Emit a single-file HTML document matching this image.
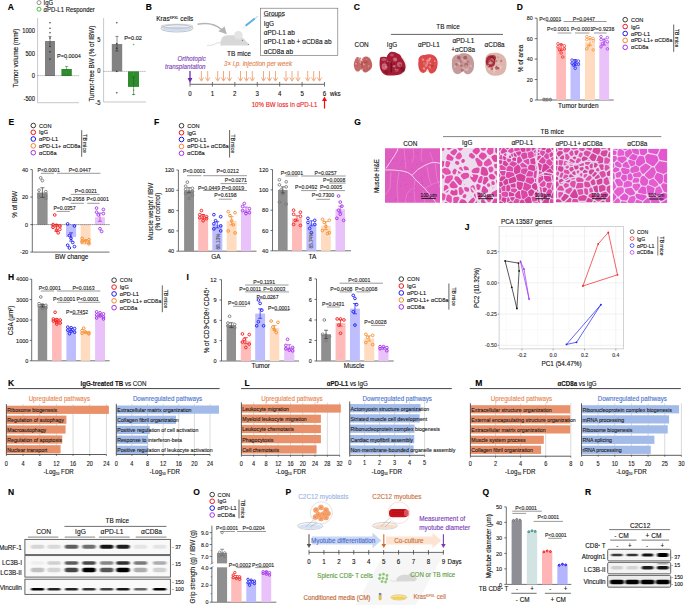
<!DOCTYPE html><html><head><meta charset="utf-8"><title>Figure</title><style>html,body{margin:0;padding:0;background:#fff;width:685px;height:605px;overflow:hidden}svg{display:block}text{font-family:"Liberation Sans",sans-serif}</style></head><body><svg width="685" height="605" viewBox="0 0 685 605" font-family='"Liberation Sans", sans-serif' fill="#111"><defs><filter id="lungb" x="-5%" y="-5%" width="110%" height="110%"><feGaussianBlur stdDeviation="0.35"/></filter><filter id="heb"><feGaussianBlur stdDeviation="0.35"/></filter><filter id="bl" x="-30%" y="-150%" width="160%" height="400%"><feGaussianBlur stdDeviation="1.0 0.75"/></filter><filter id="bl2" x="-30%" y="-150%" width="160%" height="400%"><feGaussianBlur stdDeviation="0.8 0.5"/></filter></defs><rect width="685" height="605" fill="#fff"/><text x="0" y="3.06" font-size="8.50" fill="#000" font-weight="bold" stroke="#000" stroke-width="0.12" transform="translate(7.70 7.40)">A</text>
<circle cx="39.00" cy="2.60" r="2.0" fill="none" stroke="#666" stroke-width="0.7"/>
<text x="0" y="2.34" font-size="6.50" stroke="#111" stroke-width="0.12" transform="translate(43.60 2.40) scale(0.92 1)">IgG</text>
<circle cx="39.00" cy="9.20" r="2.0" fill="none" stroke="#22aa22" stroke-width="0.8"/>
<text x="0" y="2.34" font-size="6.50" stroke="#111" stroke-width="0.12" transform="translate(43.60 9.20) scale(0.92 1)">αPD-L1 Responder</text>
<line x1="37.60" y1="18.00" x2="37.60" y2="102.70" stroke="#b0b0b0" stroke-width="0.7"/>
<line x1="37.60" y1="102.70" x2="79.00" y2="102.70" stroke="#b0b0b0" stroke-width="0.7"/>
<text x="0" y="2.26" font-size="6.27" text-anchor="end" stroke="#111" stroke-width="0.12" transform="translate(35.00 30.80) scale(0.92 1)">1000</text>
<text x="0" y="2.26" font-size="6.27" text-anchor="end" stroke="#111" stroke-width="0.12" transform="translate(35.00 53.40) scale(0.92 1)">500</text>
<text x="0" y="2.26" font-size="6.27" text-anchor="end" stroke="#111" stroke-width="0.12" transform="translate(35.00 76.00) scale(0.92 1)">0</text>
<text x="0" y="2.26" font-size="6.27" text-anchor="end" stroke="#111" stroke-width="0.12" transform="translate(35.00 98.60) scale(0.92 1)">-500</text>
<rect x="45.00" y="41.00" width="10.00" height="35.00" fill="#828282"/>
<rect x="61.40" y="69.00" width="10.40" height="7.00" fill="#2e8b2e"/>
<line x1="37.60" y1="75.60" x2="79.00" y2="75.60" stroke="#333" stroke-width="0.5" stroke-dasharray="1,1"/>
<circle cx="50.00" cy="22.70" r="0.55" fill="#222" stroke="#222" stroke-width="0.3"/>
<circle cx="50.00" cy="28.20" r="0.55" fill="#222" stroke="#222" stroke-width="0.3"/>
<circle cx="50.00" cy="32.70" r="0.55" fill="#222" stroke="#222" stroke-width="0.3"/>
<circle cx="50.00" cy="38.00" r="0.55" fill="#222" stroke="#222" stroke-width="0.3"/>
<circle cx="50.00" cy="46.40" r="0.55" fill="#222" stroke="#222" stroke-width="0.3"/>
<circle cx="50.00" cy="51.80" r="0.55" fill="#222" stroke="#222" stroke-width="0.3"/>
<circle cx="50.00" cy="59.00" r="0.55" fill="#222" stroke="#222" stroke-width="0.3"/>
<line x1="50.00" y1="36.40" x2="50.00" y2="45.00" stroke="#222" stroke-width="0.5"/>
<line x1="48.50" y1="36.40" x2="51.50" y2="36.40" stroke="#222" stroke-width="0.5"/>
<circle cx="66.50" cy="59.00" r="0.55" fill="#3c3" stroke="#2a2" stroke-width="0.3"/>
<circle cx="66.50" cy="72.00" r="0.55" fill="#3c3" stroke="#2a2" stroke-width="0.3"/>
<line x1="66.60" y1="66.40" x2="66.60" y2="70.00" stroke="#1a5a1a" stroke-width="0.5"/>
<line x1="65.00" y1="66.40" x2="68.20" y2="66.40" stroke="#1a5a1a" stroke-width="0.5"/>
<text x="0" y="2.18" font-size="6.05" text-anchor="middle" stroke="#111" stroke-width="0.12" transform="translate(68.90 55.50) scale(0.92 1)">P=0.0004</text>
<text x="0" y="2.50" font-size="6.94" text-anchor="middle" stroke="#111" stroke-width="0.12" transform="translate(15.50 58.00) rotate(-90) scale(0.92 1)">Tumor volume (mm<tspan font-size="3.6" dy="-2">2</tspan><tspan dy="2">)</tspan></text>
<line x1="103.60" y1="18.00" x2="103.60" y2="102.00" stroke="#b0b0b0" stroke-width="0.7"/>
<line x1="103.60" y1="102.00" x2="146.00" y2="102.00" stroke="#b0b0b0" stroke-width="0.7"/>
<text x="0" y="2.26" font-size="6.27" text-anchor="end" stroke="#111" stroke-width="0.12" transform="translate(100.50 39.60) scale(0.92 1)">5</text>
<text x="0" y="2.26" font-size="6.27" text-anchor="end" stroke="#111" stroke-width="0.12" transform="translate(100.50 70.90) scale(0.92 1)">0</text>
<text x="0" y="2.26" font-size="6.27" text-anchor="end" stroke="#111" stroke-width="0.12" transform="translate(100.50 102.70) scale(0.92 1)">-5</text>
<rect x="111.80" y="44.00" width="10.40" height="27.40" fill="#828282"/>
<rect x="128.00" y="71.40" width="11.00" height="15.50" fill="#2e8b2e"/>
<line x1="103.60" y1="71.40" x2="146.00" y2="71.40" stroke="#333" stroke-width="0.5" stroke-dasharray="1,1"/>
<circle cx="116.80" cy="22.70" r="0.55" fill="#222" stroke="#222" stroke-width="0.3"/>
<circle cx="116.80" cy="43.60" r="0.55" fill="#222" stroke="#222" stroke-width="0.3"/>
<circle cx="116.80" cy="48.20" r="0.55" fill="#222" stroke="#222" stroke-width="0.3"/>
<circle cx="116.80" cy="71.40" r="0.55" fill="#222" stroke="#222" stroke-width="0.3"/>
<circle cx="116.80" cy="92.70" r="0.55" fill="#222" stroke="#222" stroke-width="0.3"/>
<line x1="117.00" y1="36.40" x2="117.00" y2="51.00" stroke="#222" stroke-width="0.5"/>
<line x1="115.40" y1="36.40" x2="118.60" y2="36.40" stroke="#222" stroke-width="0.5"/>
<line x1="115.40" y1="51.00" x2="118.60" y2="51.00" stroke="#222" stroke-width="0.5"/>
<circle cx="133.60" cy="44.50" r="0.55" fill="#3c3" stroke="#2a2" stroke-width="0.3"/>
<circle cx="133.60" cy="73.60" r="0.55" fill="#3c3" stroke="#2a2" stroke-width="0.3"/>
<circle cx="133.60" cy="90.00" r="0.55" fill="#3c3" stroke="#2a2" stroke-width="0.3"/>
<circle cx="133.60" cy="94.50" r="0.55" fill="#3c3" stroke="#2a2" stroke-width="0.3"/>
<line x1="133.60" y1="77.00" x2="133.60" y2="94.50" stroke="#1a5a1a" stroke-width="0.5"/>
<line x1="132.00" y1="77.00" x2="135.20" y2="77.00" stroke="#1a5a1a" stroke-width="0.5"/>
<line x1="132.00" y1="94.50" x2="135.20" y2="94.50" stroke="#1a5a1a" stroke-width="0.5"/>
<text x="0" y="2.18" font-size="6.05" text-anchor="middle" stroke="#111" stroke-width="0.12" transform="translate(133.00 37.80) scale(0.92 1)">P=0.02</text>
<text x="0" y="2.50" font-size="6.94" text-anchor="middle" stroke="#111" stroke-width="0.12" transform="translate(91.80 63.60) rotate(-90) scale(0.92 1)">Tumor-free BW (% of IBW)</text>
<text x="0" y="3.06" font-size="8.50" fill="#000" font-weight="bold" stroke="#000" stroke-width="0.12" transform="translate(145.70 6.90)">B</text>
<text x="0" y="2.54" font-size="7.06" stroke="#111" stroke-width="0.12" transform="translate(156.30 18.20) scale(0.92 1)">Kras<tspan font-size="3.8" dy="-2">KPXL</tspan><tspan dy="2"> cells</tspan></text>
<ellipse cx="177" cy="28.4" rx="16" ry="3.6" fill="#f4f6fb" stroke="#888" stroke-width="0.5"/>
<ellipse cx="177" cy="28.8" rx="14.5" ry="2.3" fill="#cfdcf2"/>
<ellipse cx="177" cy="26.2" rx="16" ry="2.0" fill="none" stroke="#999" stroke-width="0.4"/>
<path d="M197.5,24.3 Q212,21.2 221.5,29.5" fill="none" stroke="#b4b4b4" stroke-width="1.5"/>
<path d="M218.3,31.2 L226.8,34.2 L224.6,26.6 Z" fill="#b4b4b4"/>
<path d="M220.2,45.6 L221.2,39.5 C222,36.2 225,35.2 229,35.2 L236,35.2 C240,35.5 243,37.5 245,40 L249.2,44.4 L247.5,45.6 Z" fill="#d8d8d8"/>
<circle cx="238.4" cy="35.3" r="4.3" fill="#e4e4e4"/>
<path d="M221,42.5 Q216,42.5 214.5,44.3 Q212,45.8 207,45.3" fill="none" stroke="#c8c8c8" stroke-width="0.6"/>
<circle cx="242.40" cy="40.40" r="0.45" fill="#444" stroke="#444" stroke-width="0.2"/>
<circle cx="248.40" cy="44.60" r="0.4" fill="#444" stroke="#444" stroke-width="0.2"/>
<path d="M245.6,25.8 L254.8,18.6" fill="none" stroke="#5aaee0" stroke-width="1.9"/>
<path d="M254.8,18.6 L257.8,16.2" fill="none" stroke="#7ab8d8" stroke-width="0.7"/>
<path d="M245.6,25.8 L242.2,28.6" fill="none" stroke="#c0c8d0" stroke-width="0.4"/>
<text x="0" y="2.54" font-size="7.06" text-anchor="middle" stroke="#111" stroke-width="0.12" transform="translate(239.00 53.00) scale(0.92 1)">TB mice</text>
<rect x="260.50" y="8.20" width="77.30" height="47.30" fill="none" stroke="#666" stroke-width="0.6"/>
<text x="0" y="2.54" font-size="7.06" stroke="#111" stroke-width="0.12" transform="translate(263.70 13.60) scale(0.92 1)">Groups</text>
<line x1="263.70" y1="16.30" x2="283.50" y2="16.30" stroke="#222" stroke-width="0.45"/>
<text x="0" y="2.54" font-size="7.06" stroke="#111" stroke-width="0.12" transform="translate(263.70 23.30) scale(0.92 1)">IgG</text>
<text x="0" y="2.54" font-size="7.06" stroke="#111" stroke-width="0.12" transform="translate(263.70 32.40) scale(0.92 1)">αPD-L1 ab</text>
<text x="0" y="2.54" font-size="7.06" stroke="#111" stroke-width="0.12" transform="translate(263.70 41.50) scale(0.92 1)">αPD-L1 ab + αCD8a ab</text>
<text x="0" y="2.54" font-size="7.06" stroke="#111" stroke-width="0.12" transform="translate(263.70 51.00) scale(0.92 1)">αCD8a ab</text>
<text x="0" y="2.42" font-size="6.72" text-anchor="middle" fill="#7a3db8" font-style="italic" stroke="#7a3db8" stroke-width="0.12" transform="translate(191.60 58.20) scale(0.92 1)">Orthotopic</text>
<text x="0" y="2.42" font-size="6.72" text-anchor="middle" fill="#7a3db8" font-style="italic" stroke="#7a3db8" stroke-width="0.12" transform="translate(185.30 67.00) scale(0.92 1)">transplantation</text>
<text x="0" y="2.42" font-size="6.72" text-anchor="middle" fill="#e4804c" font-style="italic" stroke="#e4804c" stroke-width="0.12" transform="translate(258.00 64.00) scale(0.92 1)">3× i.p. injection per week</text>
<line x1="190.00" y1="84.30" x2="324.50" y2="84.30" stroke="#555" stroke-width="0.9"/>
<line x1="190.00" y1="82.00" x2="190.00" y2="86.60" stroke="#555" stroke-width="0.8"/>
<text x="0" y="2.42" font-size="6.72" text-anchor="middle" stroke="#111" stroke-width="0.12" transform="translate(190.00 93.60) scale(0.92 1)">0</text>
<line x1="212.42" y1="82.00" x2="212.42" y2="86.60" stroke="#555" stroke-width="0.8"/>
<text x="0" y="2.42" font-size="6.72" text-anchor="middle" stroke="#111" stroke-width="0.12" transform="translate(212.42 93.60) scale(0.92 1)">1</text>
<line x1="234.84" y1="82.00" x2="234.84" y2="86.60" stroke="#555" stroke-width="0.8"/>
<text x="0" y="2.42" font-size="6.72" text-anchor="middle" stroke="#111" stroke-width="0.12" transform="translate(234.84 93.60) scale(0.92 1)">2</text>
<line x1="257.26" y1="82.00" x2="257.26" y2="86.60" stroke="#555" stroke-width="0.8"/>
<text x="0" y="2.42" font-size="6.72" text-anchor="middle" stroke="#111" stroke-width="0.12" transform="translate(257.26 93.60) scale(0.92 1)">3</text>
<line x1="279.68" y1="82.00" x2="279.68" y2="86.60" stroke="#555" stroke-width="0.8"/>
<text x="0" y="2.42" font-size="6.72" text-anchor="middle" stroke="#111" stroke-width="0.12" transform="translate(279.68 93.60) scale(0.92 1)">4</text>
<line x1="302.10" y1="82.00" x2="302.10" y2="86.60" stroke="#555" stroke-width="0.8"/>
<text x="0" y="2.42" font-size="6.72" text-anchor="middle" stroke="#111" stroke-width="0.12" transform="translate(302.10 93.60) scale(0.92 1)">5</text>
<line x1="324.52" y1="82.00" x2="324.52" y2="86.60" stroke="#555" stroke-width="0.8"/>
<text x="0" y="2.42" font-size="6.72" text-anchor="middle" stroke="#111" stroke-width="0.12" transform="translate(324.52 93.60) scale(0.92 1)">6</text>
<text x="0" y="2.42" font-size="6.72" stroke="#111" stroke-width="0.12" transform="translate(330.00 93.60) scale(0.92 1)">wks</text>
<line x1="190.00" y1="71.00" x2="190.00" y2="79.00" stroke="#6a2db0" stroke-width="1.3"/>
<path d="M187.6,78 L192.4,78 L190,83 Z" fill="#6a2db0"/>
<line x1="201.40" y1="71.00" x2="201.40" y2="80.00" stroke="#f0a070" stroke-width="0.9"/>
<path d="M199.20000000000002,77.5 L201.4,81.2 L203.6,77.5" fill="none" stroke="#f0a070" stroke-width="0.9"/>
<line x1="207.70" y1="71.00" x2="207.70" y2="80.00" stroke="#f0a070" stroke-width="0.9"/>
<path d="M205.5,77.5 L207.7,81.2 L209.89999999999998,77.5" fill="none" stroke="#f0a070" stroke-width="0.9"/>
<line x1="217.70" y1="71.00" x2="217.70" y2="80.00" stroke="#f0a070" stroke-width="0.9"/>
<path d="M215.5,77.5 L217.7,81.2 L219.89999999999998,77.5" fill="none" stroke="#f0a070" stroke-width="0.9"/>
<line x1="223.50" y1="71.00" x2="223.50" y2="80.00" stroke="#f0a070" stroke-width="0.9"/>
<path d="M221.3,77.5 L223.5,81.2 L225.7,77.5" fill="none" stroke="#f0a070" stroke-width="0.9"/>
<line x1="229.50" y1="71.00" x2="229.50" y2="80.00" stroke="#f0a070" stroke-width="0.9"/>
<path d="M227.3,77.5 L229.5,81.2 L231.7,77.5" fill="none" stroke="#f0a070" stroke-width="0.9"/>
<line x1="240.50" y1="71.00" x2="240.50" y2="80.00" stroke="#f0a070" stroke-width="0.9"/>
<path d="M238.3,77.5 L240.5,81.2 L242.7,77.5" fill="none" stroke="#f0a070" stroke-width="0.9"/>
<line x1="246.50" y1="71.00" x2="246.50" y2="80.00" stroke="#f0a070" stroke-width="0.9"/>
<path d="M244.3,77.5 L246.5,81.2 L248.7,77.5" fill="none" stroke="#f0a070" stroke-width="0.9"/>
<line x1="252.30" y1="71.00" x2="252.30" y2="80.00" stroke="#f0a070" stroke-width="0.9"/>
<path d="M250.10000000000002,77.5 L252.3,81.2 L254.5,77.5" fill="none" stroke="#f0a070" stroke-width="0.9"/>
<line x1="263.50" y1="71.00" x2="263.50" y2="80.00" stroke="#f0a070" stroke-width="0.9"/>
<path d="M261.3,77.5 L263.5,81.2 L265.7,77.5" fill="none" stroke="#f0a070" stroke-width="0.9"/>
<line x1="269.50" y1="71.00" x2="269.50" y2="80.00" stroke="#f0a070" stroke-width="0.9"/>
<path d="M267.3,77.5 L269.5,81.2 L271.7,77.5" fill="none" stroke="#f0a070" stroke-width="0.9"/>
<line x1="275.50" y1="71.00" x2="275.50" y2="80.00" stroke="#f0a070" stroke-width="0.9"/>
<path d="M273.3,77.5 L275.5,81.2 L277.7,77.5" fill="none" stroke="#f0a070" stroke-width="0.9"/>
<line x1="286.00" y1="71.00" x2="286.00" y2="80.00" stroke="#f0a070" stroke-width="0.9"/>
<path d="M283.8,77.5 L286,81.2 L288.2,77.5" fill="none" stroke="#f0a070" stroke-width="0.9"/>
<line x1="292.00" y1="71.00" x2="292.00" y2="80.00" stroke="#f0a070" stroke-width="0.9"/>
<path d="M289.8,77.5 L292,81.2 L294.2,77.5" fill="none" stroke="#f0a070" stroke-width="0.9"/>
<line x1="298.00" y1="71.00" x2="298.00" y2="80.00" stroke="#f0a070" stroke-width="0.9"/>
<path d="M295.8,77.5 L298,81.2 L300.2,77.5" fill="none" stroke="#f0a070" stroke-width="0.9"/>
<line x1="307.70" y1="71.00" x2="307.70" y2="80.00" stroke="#f0a070" stroke-width="0.9"/>
<path d="M305.5,77.5 L307.7,81.2 L309.9,77.5" fill="none" stroke="#f0a070" stroke-width="0.9"/>
<line x1="313.70" y1="71.00" x2="313.70" y2="80.00" stroke="#f0a070" stroke-width="0.9"/>
<path d="M311.5,77.5 L313.7,81.2 L315.9,77.5" fill="none" stroke="#f0a070" stroke-width="0.9"/>
<line x1="319.50" y1="71.00" x2="319.50" y2="80.00" stroke="#f0a070" stroke-width="0.9"/>
<path d="M317.3,77.5 L319.5,81.2 L321.7,77.5" fill="none" stroke="#f0a070" stroke-width="0.9"/>
<text x="0" y="2.42" font-size="6.72" text-anchor="middle" fill="#ee2222" stroke="#ee2222" stroke-width="0.12" transform="translate(284.60 105.00) scale(0.92 1)">10% BW loss in αPD-L1</text>
<line x1="324.50" y1="108.60" x2="324.50" y2="100.00" stroke="#ee1111" stroke-width="1.2"/>
<path d="M322,101 L327,101 L324.5,96.6 Z" fill="#ee1111"/>
<text x="0" y="3.06" font-size="8.50" fill="#000" font-weight="bold" stroke="#000" stroke-width="0.12" transform="translate(353.70 6.60)">C</text>
<text x="0" y="2.50" font-size="6.94" text-anchor="middle" stroke="#111" stroke-width="0.12" transform="translate(448.00 26.40) scale(0.92 1)">TB mice</text>
<line x1="390.90" y1="34.40" x2="503.00" y2="34.40" stroke="#222" stroke-width="0.7"/>
<text x="0" y="2.50" font-size="6.94" text-anchor="middle" stroke="#111" stroke-width="0.12" transform="translate(361.60 44.30) scale(0.92 1)">CON</text>
<text x="0" y="2.50" font-size="6.94" text-anchor="middle" stroke="#111" stroke-width="0.12" transform="translate(392.00 44.30) scale(0.92 1)">IgG</text>
<text x="0" y="2.50" font-size="6.94" text-anchor="middle" stroke="#111" stroke-width="0.12" transform="translate(428.90 44.40) scale(0.92 1)">αPD-L1</text>
<text x="0" y="2.50" font-size="6.94" text-anchor="middle" stroke="#111" stroke-width="0.12" transform="translate(463.30 40.50) scale(0.92 1)">αPD-L1</text>
<text x="0" y="2.50" font-size="6.94" text-anchor="middle" stroke="#111" stroke-width="0.12" transform="translate(463.20 49.20) scale(0.92 1)">+αCD8a</text>
<text x="0" y="2.50" font-size="6.94" text-anchor="middle" stroke="#111" stroke-width="0.12" transform="translate(494.60 44.40) scale(0.92 1)">αCD8a</text>
<g filter="url(#lungb)">
<path d="M361.22,62.89 Q361.43,64.40 361.39,66.07 Q361.36,67.74 360.78,69.06 Q360.21,70.37 359.38,70.89 Q358.54,71.40 357.69,71.51 Q356.83,71.61 356.06,70.88 Q355.28,70.15 354.70,68.91 Q354.12,67.67 353.89,66.03 Q353.66,64.40 354.01,62.87 Q354.36,61.35 354.88,60.14 Q355.41,58.94 356.10,57.92 Q356.80,56.89 357.68,57.07 Q358.56,57.24 359.38,57.84 Q360.21,58.43 360.61,59.91 Q361.00,61.38 361.22,62.89 Z" fill="#c86a6a"/>
<path d="M371.88,62.65 Q372.41,64.40 372.11,66.31 Q371.81,68.21 370.73,69.28 Q369.64,70.36 368.60,71.11 Q367.56,71.86 366.33,72.34 Q365.09,72.82 363.93,71.94 Q362.78,71.05 362.00,69.55 Q361.22,68.05 361.09,66.23 Q360.97,64.40 361.12,62.59 Q361.27,60.78 362.06,59.33 Q362.85,57.88 363.99,57.09 Q365.14,56.30 366.36,56.57 Q367.58,56.84 368.72,57.45 Q369.85,58.06 370.61,59.48 Q371.36,60.90 371.88,62.65 Z" fill="#c46262"/>
<circle cx="362.43" cy="69.09" r="0.95" fill="#f0c0c0" opacity="0.6"/>
<circle cx="356.25" cy="65.19" r="0.95" fill="#e8a8a8" opacity="0.6"/>
<circle cx="356.43" cy="65.31" r="1.00" fill="#a84848" opacity="0.6"/>
<circle cx="355.13" cy="65.48" r="0.64" fill="#b05050" opacity="0.6"/>
<circle cx="364.37" cy="62.05" r="0.92" fill="#a84848" opacity="0.6"/>
<circle cx="355.48" cy="63.60" r="0.50" fill="#e8a8a8" opacity="0.6"/>
<circle cx="363.53" cy="64.05" r="0.89" fill="#e8a8a8" opacity="0.6"/>
<circle cx="361.28" cy="69.28" r="0.83" fill="#b05050" opacity="0.6"/>
<circle cx="366.23" cy="62.49" r="0.98" fill="#b05050" opacity="0.6"/>
<circle cx="365.08" cy="67.28" r="0.48" fill="#e8a8a8" opacity="0.6"/>
<circle cx="363.55" cy="70.53" r="0.87" fill="#b05050" opacity="0.6"/>
<circle cx="365.05" cy="61.13" r="0.74" fill="#b05050" opacity="0.6"/>
<circle cx="357.23" cy="63.53" r="0.94" fill="#a84848" opacity="0.6"/>
<circle cx="358.94" cy="58.81" r="0.99" fill="#f0c0c0" opacity="0.6"/>
<circle cx="360.53" cy="62.13" r="0.98" fill="#f0c0c0" opacity="0.6"/>
<circle cx="366.77" cy="61.69" r="0.78" fill="#a84848" opacity="0.6"/>
<circle cx="365.94" cy="64.15" r="0.44" fill="#e8a8a8" opacity="0.6"/>
<circle cx="366.62" cy="59.36" r="0.61" fill="#e8a8a8" opacity="0.6"/>
<circle cx="368.62" cy="66.85" r="0.58" fill="#e8a8a8" opacity="0.6"/>
<circle cx="362.84" cy="58.49" r="0.76" fill="#e8a8a8" opacity="0.6"/>
<circle cx="362.34" cy="60.49" r="0.73" fill="#f0c0c0" opacity="0.6"/>
<circle cx="365.56" cy="62.81" r="1.00" fill="#a84848" opacity="0.6"/>
<circle cx="361.22" cy="66.05" r="0.97" fill="#e8a8a8" opacity="0.6"/>
<circle cx="366.06" cy="63.79" r="0.49" fill="#f0c0c0" opacity="0.6"/>
<circle cx="368.87" cy="65.96" r="0.62" fill="#f0c0c0" opacity="0.6"/>
<circle cx="366.58" cy="68.92" r="0.68" fill="#b05050" opacity="0.6"/>
<circle cx="355.91" cy="63.76" r="0.77" fill="#e8a8a8" opacity="0.6"/>
<circle cx="367.07" cy="62.75" r="0.78" fill="#b05050" opacity="0.6"/>
<circle cx="360.41" cy="58.37" r="0.99" fill="#b05050" opacity="0.6"/>
<circle cx="356.38" cy="63.78" r="0.87" fill="#e8a8a8" opacity="0.6"/>
<circle cx="366.28" cy="64.12" r="0.77" fill="#b05050" opacity="0.6"/>
<circle cx="360.74" cy="63.25" r="0.68" fill="#f0c0c0" opacity="0.6"/>
<circle cx="360.05" cy="60.98" r="0.84" fill="#f0c0c0" opacity="0.6"/>
<circle cx="363.86" cy="64.62" r="0.98" fill="#e8a8a8" opacity="0.6"/>
<ellipse cx="361.6" cy="65" rx="1" ry="4" fill="#903838" opacity="0.5"/>
<ellipse cx="401" cy="66" rx="6" ry="9" fill="#e6e6e6" opacity="0.6"/>
<path d="M380.2,57.5 C381.5,56.5 384,56.8 386.5,57.2 C387.5,54.5 389.5,51.8 391.3,51.7 C394,51.5 396,52.5 397.2,53.3 C399.5,54 400.9,55.5 401.5,57.5 C403.8,60 405.8,64 405.6,67.6 C405,71 402.5,73.8 399.8,74.5 C396,75.8 391,75.5 387.6,75.5 C384,75.2 381,72 380,68 C379.3,64.5 379.5,60 380.2,57.5 Z" fill="#a41e34"/>
<ellipse cx="384.5" cy="66.5" rx="2.8" ry="3.2" fill="#d98c9c" opacity="0.7"/>
<ellipse cx="395" cy="59.5" rx="2.2" ry="2.0" fill="#e0a0ae" opacity="0.6"/>
<ellipse cx="399.5" cy="64.5" rx="2.6" ry="2.4" fill="#d88898" opacity="0.6"/>
<ellipse cx="383.5" cy="59.5" rx="2.2" ry="1.8" fill="#d07080" opacity="0.6"/>
<ellipse cx="392" cy="55" rx="1.8" ry="1.6" fill="#d88090" opacity="0.5"/>
<ellipse cx="396.5" cy="70.5" rx="2.0" ry="1.8" fill="#c86072" opacity="0.5"/>
<ellipse cx="391.3" cy="67.5" rx="0.9" ry="6.0" fill="#6a0c1a" opacity="0.75"/>
<ellipse cx="402.8" cy="69.5" rx="2.2" ry="2.6" fill="#6e0e1c" opacity="0.6"/>
<ellipse cx="386.5" cy="72" rx="2.2" ry="1.8" fill="#7a1020" opacity="0.6"/>
<ellipse cx="388" cy="62" rx="1.6" ry="2.0" fill="#8a1424" opacity="0.5"/>
<circle cx="393.26" cy="66.72" r="0.78" fill="#c04858" opacity="0.5"/>
<circle cx="394.11" cy="64.64" r="1.04" fill="#7a1020" opacity="0.5"/>
<circle cx="393.42" cy="60.01" r="0.62" fill="#7a1020" opacity="0.5"/>
<circle cx="394.42" cy="66.45" r="1.15" fill="#e8b8c0" opacity="0.5"/>
<circle cx="400.39" cy="65.09" r="1.04" fill="#7a1020" opacity="0.5"/>
<circle cx="394.81" cy="68.44" r="0.47" fill="#7a1020" opacity="0.5"/>
<circle cx="386.97" cy="59.70" r="0.54" fill="#e8b8c0" opacity="0.5"/>
<circle cx="390.24" cy="64.42" r="0.41" fill="#7a1020" opacity="0.5"/>
<circle cx="390.96" cy="70.89" r="1.08" fill="#7a1020" opacity="0.5"/>
<circle cx="386.99" cy="63.71" r="0.74" fill="#7a1020" opacity="0.5"/>
<circle cx="395.73" cy="67.98" r="0.46" fill="#d07a8a" opacity="0.5"/>
<circle cx="383.92" cy="65.97" r="0.96" fill="#c04858" opacity="0.5"/>
<circle cx="397.70" cy="69.51" r="0.73" fill="#d07a8a" opacity="0.5"/>
<circle cx="395.18" cy="70.46" r="0.55" fill="#7a1020" opacity="0.5"/>
<circle cx="386.40" cy="66.56" r="1.12" fill="#e8b8c0" opacity="0.5"/>
<circle cx="394.87" cy="65.25" r="0.62" fill="#e8b8c0" opacity="0.5"/>
<circle cx="385.45" cy="60.10" r="0.66" fill="#d07a8a" opacity="0.5"/>
<circle cx="395.79" cy="69.17" r="0.69" fill="#d07a8a" opacity="0.5"/>
<circle cx="400.97" cy="68.14" r="0.99" fill="#7a1020" opacity="0.5"/>
<circle cx="394.22" cy="63.71" r="0.66" fill="#7a1020" opacity="0.5"/>
<circle cx="397.33" cy="69.63" r="0.63" fill="#d07a8a" opacity="0.5"/>
<circle cx="395.24" cy="69.29" r="0.60" fill="#e8b8c0" opacity="0.5"/>
<circle cx="389.97" cy="62.03" r="0.69" fill="#d07a8a" opacity="0.5"/>
<circle cx="387.58" cy="65.44" r="1.20" fill="#7a1020" opacity="0.5"/>
<circle cx="387.42" cy="61.55" r="0.74" fill="#e8b8c0" opacity="0.5"/>
<circle cx="393.60" cy="66.00" r="0.99" fill="#d07a8a" opacity="0.5"/>
<circle cx="385.40" cy="59.27" r="0.84" fill="#d07a8a" opacity="0.5"/>
<circle cx="388.40" cy="61.61" r="0.50" fill="#d07a8a" opacity="0.5"/>
<circle cx="384.91" cy="62.63" r="0.92" fill="#c04858" opacity="0.5"/>
<circle cx="394.29" cy="67.63" r="0.73" fill="#c04858" opacity="0.5"/>
<path d="M418.5,61 C418,57 421,54.6 425,55 C427,54 431,54 434,55.5 C437,57.5 438.2,61 437.5,65 C437,69 435.5,72.5 432,73.5 C429.5,74 428.5,71 427.6,68.5 C426.5,71.5 424.5,74 421.5,72.5 C418.5,70.5 417.8,65 418.5,61 Z" fill="#dc4848"/>
<circle cx="423.28" cy="59.91" r="1.16" fill="#f2a0a0" opacity="0.6"/>
<circle cx="428.62" cy="60.65" r="1.21" fill="#f2a0a0" opacity="0.6"/>
<circle cx="431.97" cy="67.04" r="0.74" fill="#b82a2a" opacity="0.6"/>
<circle cx="431.06" cy="66.03" r="0.77" fill="#b82a2a" opacity="0.6"/>
<circle cx="430.95" cy="69.77" r="0.54" fill="#e87070" opacity="0.6"/>
<circle cx="428.83" cy="61.58" r="0.51" fill="#e87070" opacity="0.6"/>
<circle cx="435.14" cy="64.07" r="1.10" fill="#b82a2a" opacity="0.6"/>
<circle cx="431.02" cy="63.31" r="0.66" fill="#b82a2a" opacity="0.6"/>
<circle cx="433.45" cy="62.80" r="0.56" fill="#b82a2a" opacity="0.6"/>
<circle cx="431.33" cy="63.41" r="0.67" fill="#e87070" opacity="0.6"/>
<circle cx="426.00" cy="66.12" r="0.64" fill="#b82a2a" opacity="0.6"/>
<circle cx="424.60" cy="69.35" r="0.94" fill="#f2a0a0" opacity="0.6"/>
<circle cx="427.48" cy="62.31" r="1.14" fill="#f8c8c0" opacity="0.6"/>
<circle cx="423.73" cy="64.46" r="0.83" fill="#e87070" opacity="0.6"/>
<circle cx="429.73" cy="67.08" r="1.25" fill="#f2a0a0" opacity="0.6"/>
<circle cx="424.96" cy="67.37" r="0.73" fill="#e87070" opacity="0.6"/>
<circle cx="427.36" cy="63.69" r="1.04" fill="#f2a0a0" opacity="0.6"/>
<circle cx="422.67" cy="59.34" r="1.08" fill="#f2a0a0" opacity="0.6"/>
<circle cx="434.71" cy="61.18" r="0.86" fill="#f8c8c0" opacity="0.6"/>
<circle cx="430.99" cy="61.87" r="0.50" fill="#e87070" opacity="0.6"/>
<circle cx="427.93" cy="57.93" r="0.43" fill="#f8c8c0" opacity="0.6"/>
<circle cx="430.18" cy="63.31" r="0.86" fill="#f8c8c0" opacity="0.6"/>
<circle cx="426.09" cy="65.99" r="1.23" fill="#f8c8c0" opacity="0.6"/>
<circle cx="423.89" cy="62.94" r="0.68" fill="#f8c8c0" opacity="0.6"/>
<circle cx="429.83" cy="58.87" r="1.30" fill="#f8c8c0" opacity="0.6"/>
<circle cx="428.89" cy="65.27" r="0.43" fill="#e87070" opacity="0.6"/>
<circle cx="427.73" cy="60.02" r="0.81" fill="#f8c8c0" opacity="0.6"/>
<circle cx="426.41" cy="64.76" r="1.12" fill="#f2a0a0" opacity="0.6"/>
<circle cx="426.24" cy="66.67" r="0.97" fill="#b82a2a" opacity="0.6"/>
<circle cx="428.59" cy="61.84" r="0.74" fill="#e87070" opacity="0.6"/>
<circle cx="432.63" cy="65.59" r="0.81" fill="#b82a2a" opacity="0.6"/>
<circle cx="435.06" cy="63.97" r="1.26" fill="#e87070" opacity="0.6"/>
<circle cx="426.38" cy="60.45" r="0.66" fill="#f8c8c0" opacity="0.6"/>
<circle cx="425.59" cy="65.48" r="1.14" fill="#e87070" opacity="0.6"/>
<circle cx="424.82" cy="63.43" r="1.18" fill="#e87070" opacity="0.6"/>
<circle cx="430.28" cy="68.32" r="0.46" fill="#f8c8c0" opacity="0.6"/>
<circle cx="429.28" cy="60.11" r="1.08" fill="#f2a0a0" opacity="0.6"/>
<circle cx="423.80" cy="68.32" r="1.15" fill="#f8c8c0" opacity="0.6"/>
<circle cx="427.29" cy="70.71" r="1.26" fill="#f8c8c0" opacity="0.6"/>
<circle cx="426.27" cy="66.43" r="0.83" fill="#f2a0a0" opacity="0.6"/>
<path d="M452,62 C451.5,57 455,54 459,54.5 C462,52.5 467,53 470,55 C473,57 474.5,62 474,66 C473.8,70 472,73.5 468.5,74.2 C465.5,74.8 464,72.5 463,70.5 C461.5,73 459,75 455.8,73.8 C452.5,72 451.5,67 452,62 Z" fill="#c49a9a"/>
<circle cx="465.07" cy="57.32" r="1.69" fill="#a85050" opacity="0.6"/>
<circle cx="466.16" cy="64.67" r="1.96" fill="#a85050" opacity="0.6"/>
<circle cx="462.54" cy="59.70" r="1.05" fill="#dcbcbc" opacity="0.6"/>
<circle cx="465.33" cy="57.81" r="1.88" fill="#a85050" opacity="0.6"/>
<circle cx="460.47" cy="63.43" r="1.56" fill="#e4c8c4" opacity="0.6"/>
<circle cx="461.06" cy="62.55" r="1.14" fill="#a85050" opacity="0.6"/>
<circle cx="469.34" cy="67.78" r="1.28" fill="#e4c8c4" opacity="0.6"/>
<circle cx="466.14" cy="65.89" r="0.83" fill="#e4c8c4" opacity="0.6"/>
<circle cx="470.75" cy="66.06" r="1.33" fill="#e4c8c4" opacity="0.6"/>
<circle cx="464.86" cy="61.08" r="1.52" fill="#dcbcbc" opacity="0.6"/>
<circle cx="463.18" cy="69.01" r="1.47" fill="#e4c8c4" opacity="0.6"/>
<circle cx="469.74" cy="67.83" r="0.85" fill="#b06868" opacity="0.6"/>
<circle cx="460.52" cy="60.35" r="1.19" fill="#b06868" opacity="0.6"/>
<circle cx="464.12" cy="69.83" r="0.95" fill="#dcbcbc" opacity="0.6"/>
<circle cx="466.33" cy="69.38" r="1.19" fill="#e4c8c4" opacity="0.6"/>
<circle cx="458.50" cy="63.30" r="0.77" fill="#a85050" opacity="0.6"/>
<circle cx="456.50" cy="67.08" r="0.82" fill="#a85050" opacity="0.6"/>
<circle cx="455.88" cy="66.48" r="1.86" fill="#dcbcbc" opacity="0.6"/>
<circle cx="459.15" cy="57.67" r="1.72" fill="#a85050" opacity="0.6"/>
<circle cx="461.29" cy="65.45" r="1.31" fill="#a85050" opacity="0.6"/>
<circle cx="461.51" cy="59.30" r="0.95" fill="#dcbcbc" opacity="0.6"/>
<circle cx="460.57" cy="59.35" r="0.72" fill="#b06868" opacity="0.6"/>
<circle cx="458.86" cy="63.09" r="0.94" fill="#e4c8c4" opacity="0.6"/>
<circle cx="458.12" cy="63.92" r="1.98" fill="#e4c8c4" opacity="0.6"/>
<circle cx="467.95" cy="61.80" r="1.05" fill="#a85050" opacity="0.6"/>
<circle cx="457.19" cy="64.84" r="1.64" fill="#b06868" opacity="0.6"/>
<circle cx="456.23" cy="64.13" r="1.12" fill="#a85050" opacity="0.6"/>
<circle cx="458.48" cy="57.66" r="1.60" fill="#a85050" opacity="0.6"/>
<circle cx="462.32" cy="70.12" r="1.65" fill="#a85050" opacity="0.6"/>
<circle cx="467.22" cy="69.83" r="1.51" fill="#dcbcbc" opacity="0.6"/>
<path d="M485.5,60 C485,55.5 489,52.3 494,52.8 C499,52 504,54.5 505.8,59 C507,63 506.8,68 505,71.5 C503,75 498.5,76.2 494.5,75.8 C490,75.5 486.5,73 485.8,69 C485,66 485.3,63 485.5,60 Z" fill="#dcb5ad"/>
<ellipse cx="490.5" cy="61.5" rx="4.8" ry="6.3" fill="#a01828" opacity="0.85"/>
<ellipse cx="493" cy="58" rx="3" ry="3" fill="#8c0e1c" opacity="0.7"/>
<circle cx="494.52" cy="66.95" r="0.69" fill="#e9cfc6" opacity="0.55"/>
<circle cx="490.99" cy="62.85" r="1.69" fill="#e9cfc6" opacity="0.55"/>
<circle cx="496.55" cy="66.43" r="0.68" fill="#a01828" opacity="0.55"/>
<circle cx="500.66" cy="66.99" r="1.74" fill="#e9cfc6" opacity="0.55"/>
<circle cx="491.58" cy="59.25" r="1.29" fill="#e9cfc6" opacity="0.55"/>
<circle cx="489.31" cy="69.08" r="1.27" fill="#e9cfc6" opacity="0.55"/>
<circle cx="499.69" cy="68.09" r="1.29" fill="#e9cfc6" opacity="0.55"/>
<circle cx="489.48" cy="61.41" r="1.30" fill="#e9cfc6" opacity="0.55"/>
<circle cx="492.67" cy="60.03" r="1.28" fill="#e9cfc6" opacity="0.55"/>
<circle cx="491.61" cy="59.93" r="1.53" fill="#a01828" opacity="0.55"/>
<circle cx="488.02" cy="65.75" r="0.96" fill="#f0d8d0" opacity="0.55"/>
<circle cx="497.96" cy="57.17" r="0.70" fill="#c04050" opacity="0.55"/>
<circle cx="494.14" cy="69.69" r="1.48" fill="#f0d8d0" opacity="0.55"/>
<circle cx="494.01" cy="72.18" r="1.21" fill="#e9cfc6" opacity="0.55"/>
<circle cx="498.53" cy="68.28" r="1.11" fill="#a01828" opacity="0.55"/>
<circle cx="498.30" cy="63.44" r="1.01" fill="#f0d8d0" opacity="0.55"/>
<circle cx="492.47" cy="68.84" r="0.68" fill="#a01828" opacity="0.55"/>
<circle cx="499.67" cy="66.45" r="0.67" fill="#e9cfc6" opacity="0.55"/>
<circle cx="493.95" cy="57.48" r="0.94" fill="#a01828" opacity="0.55"/>
<circle cx="490.76" cy="68.57" r="1.73" fill="#e9cfc6" opacity="0.55"/>
<circle cx="491.91" cy="69.24" r="0.67" fill="#a01828" opacity="0.55"/>
<circle cx="496.35" cy="60.96" r="1.08" fill="#c04050" opacity="0.55"/>
<circle cx="501.19" cy="61.01" r="1.14" fill="#c04050" opacity="0.55"/>
<circle cx="488.39" cy="61.56" r="1.64" fill="#a01828" opacity="0.55"/>
<circle cx="495.03" cy="69.39" r="1.42" fill="#f0d8d0" opacity="0.55"/>
<circle cx="493.02" cy="66.79" r="0.81" fill="#e9cfc6" opacity="0.55"/>
<circle cx="496.46" cy="68.08" r="1.60" fill="#a01828" opacity="0.55"/>
<circle cx="497.86" cy="68.11" r="1.10" fill="#c04050" opacity="0.55"/>
<circle cx="491.64" cy="68.68" r="1.43" fill="#c04050" opacity="0.55"/>
<circle cx="489.35" cy="63.35" r="1.15" fill="#e9cfc6" opacity="0.55"/>
</g>
<text x="0" y="3.06" font-size="8.50" fill="#000" font-weight="bold" stroke="#000" stroke-width="0.12" transform="translate(516.70 6.90)">D</text>
<line x1="537.10" y1="18.18" x2="537.10" y2="100.00" stroke="#333" stroke-width="0.7"/>
<line x1="534.70" y1="18.18" x2="537.10" y2="18.18" stroke="#333" stroke-width="0.7"/>
<text x="0" y="2.10" font-size="5.82" text-anchor="end" fill="#222" stroke="#222" stroke-width="0.12" transform="translate(532.70 18.18) scale(0.92 1)">80</text>
<line x1="534.70" y1="38.64" x2="537.10" y2="38.64" stroke="#333" stroke-width="0.7"/>
<text x="0" y="2.10" font-size="5.82" text-anchor="end" fill="#222" stroke="#222" stroke-width="0.12" transform="translate(532.70 38.64) scale(0.92 1)">60</text>
<line x1="534.70" y1="59.09" x2="537.10" y2="59.09" stroke="#333" stroke-width="0.7"/>
<text x="0" y="2.10" font-size="5.82" text-anchor="end" fill="#222" stroke="#222" stroke-width="0.12" transform="translate(532.70 59.09) scale(0.92 1)">40</text>
<line x1="534.70" y1="79.55" x2="537.10" y2="79.55" stroke="#333" stroke-width="0.7"/>
<text x="0" y="2.10" font-size="5.82" text-anchor="end" fill="#222" stroke="#222" stroke-width="0.12" transform="translate(532.70 79.55) scale(0.92 1)">20</text>
<line x1="534.70" y1="100.00" x2="537.10" y2="100.00" stroke="#333" stroke-width="0.7"/>
<text x="0" y="2.10" font-size="5.82" text-anchor="end" fill="#222" stroke="#222" stroke-width="0.12" transform="translate(532.70 100.00) scale(0.92 1)">0</text>
<line x1="537.10" y1="100.00" x2="613.70" y2="100.00" stroke="#333" stroke-width="0.7"/>
<rect x="542.30" y="99.39" width="9.70" height="0.61" fill="#8f8f8f"/>
<circle cx="543.95" cy="99.39" r="1.3" fill="none" stroke="#7a7a7a" stroke-width="0.7"/>
<circle cx="547.15" cy="99.49" r="1.3" fill="none" stroke="#7a7a7a" stroke-width="0.7"/>
<circle cx="550.35" cy="99.49" r="1.3" fill="none" stroke="#7a7a7a" stroke-width="0.7"/>
<circle cx="543.95" cy="99.59" r="1.3" fill="none" stroke="#7a7a7a" stroke-width="0.7"/>
<circle cx="547.15" cy="99.69" r="1.3" fill="none" stroke="#7a7a7a" stroke-width="0.7"/>
<circle cx="550.35" cy="99.69" r="1.3" fill="none" stroke="#7a7a7a" stroke-width="0.7"/>
<circle cx="545.55" cy="99.80" r="1.3" fill="none" stroke="#7a7a7a" stroke-width="0.7"/>
<rect x="556.30" y="47.33" width="9.70" height="52.67" fill="#ffbaba"/>
<circle cx="557.95" cy="43.75" r="1.3" fill="none" stroke="#f01818" stroke-width="0.7"/>
<circle cx="561.15" cy="44.77" r="1.3" fill="none" stroke="#f01818" stroke-width="0.7"/>
<circle cx="564.35" cy="45.80" r="1.3" fill="none" stroke="#f01818" stroke-width="0.7"/>
<circle cx="557.95" cy="46.82" r="1.3" fill="none" stroke="#f01818" stroke-width="0.7"/>
<circle cx="564.35" cy="48.87" r="1.3" fill="none" stroke="#f01818" stroke-width="0.7"/>
<circle cx="559.55" cy="49.89" r="1.3" fill="none" stroke="#f01818" stroke-width="0.7"/>
<circle cx="561.15" cy="52.96" r="1.3" fill="none" stroke="#f01818" stroke-width="0.7"/>
<circle cx="562.75" cy="57.05" r="1.3" fill="none" stroke="#f01818" stroke-width="0.7"/>
<line x1="561.15" y1="44.26" x2="561.15" y2="50.40" stroke="#f01818" stroke-width="0.7"/>
<line x1="559.15" y1="44.26" x2="563.15" y2="44.26" stroke="#f01818" stroke-width="0.7"/>
<line x1="559.15" y1="50.40" x2="563.15" y2="50.40" stroke="#f01818" stroke-width="0.7"/>
<rect x="570.50" y="62.67" width="9.50" height="37.33" fill="#bebeff"/>
<circle cx="572.05" cy="60.11" r="1.3" fill="none" stroke="#1818f0" stroke-width="0.7"/>
<circle cx="575.25" cy="61.14" r="1.3" fill="none" stroke="#1818f0" stroke-width="0.7"/>
<circle cx="578.45" cy="61.14" r="1.3" fill="none" stroke="#1818f0" stroke-width="0.7"/>
<circle cx="572.05" cy="63.18" r="1.3" fill="none" stroke="#1818f0" stroke-width="0.7"/>
<circle cx="575.25" cy="63.18" r="1.3" fill="none" stroke="#1818f0" stroke-width="0.7"/>
<circle cx="578.45" cy="64.21" r="1.3" fill="none" stroke="#1818f0" stroke-width="0.7"/>
<circle cx="573.65" cy="65.23" r="1.3" fill="none" stroke="#1818f0" stroke-width="0.7"/>
<circle cx="575.25" cy="68.30" r="1.3" fill="none" stroke="#1818f0" stroke-width="0.7"/>
<line x1="575.25" y1="59.60" x2="575.25" y2="65.74" stroke="#1818f0" stroke-width="0.7"/>
<line x1="573.25" y1="59.60" x2="577.25" y2="59.60" stroke="#1818f0" stroke-width="0.7"/>
<line x1="573.25" y1="65.74" x2="577.25" y2="65.74" stroke="#1818f0" stroke-width="0.7"/>
<rect x="585.00" y="42.22" width="10.00" height="57.78" fill="#ffdcc0"/>
<circle cx="586.80" cy="36.59" r="1.3" fill="none" stroke="#f58a28" stroke-width="0.7"/>
<circle cx="590.00" cy="37.62" r="1.3" fill="none" stroke="#f58a28" stroke-width="0.7"/>
<circle cx="593.20" cy="38.64" r="1.3" fill="none" stroke="#f58a28" stroke-width="0.7"/>
<circle cx="586.80" cy="39.66" r="1.3" fill="none" stroke="#f58a28" stroke-width="0.7"/>
<circle cx="593.20" cy="40.68" r="1.3" fill="none" stroke="#f58a28" stroke-width="0.7"/>
<circle cx="588.40" cy="45.80" r="1.3" fill="none" stroke="#f58a28" stroke-width="0.7"/>
<circle cx="586.80" cy="48.87" r="1.3" fill="none" stroke="#f58a28" stroke-width="0.7"/>
<circle cx="593.20" cy="49.89" r="1.3" fill="none" stroke="#f58a28" stroke-width="0.7"/>
<line x1="590.00" y1="39.15" x2="590.00" y2="45.29" stroke="#f58a28" stroke-width="0.7"/>
<line x1="588.00" y1="39.15" x2="592.00" y2="39.15" stroke="#f58a28" stroke-width="0.7"/>
<line x1="588.00" y1="45.29" x2="592.00" y2="45.29" stroke="#f58a28" stroke-width="0.7"/>
<rect x="599.30" y="42.01" width="9.80" height="57.99" fill="#e8c2f8"/>
<circle cx="601.00" cy="36.59" r="1.3" fill="none" stroke="#a42ee8" stroke-width="0.7"/>
<circle cx="607.40" cy="37.62" r="1.3" fill="none" stroke="#a42ee8" stroke-width="0.7"/>
<circle cx="601.00" cy="39.66" r="1.3" fill="none" stroke="#a42ee8" stroke-width="0.7"/>
<circle cx="604.20" cy="40.68" r="1.3" fill="none" stroke="#a42ee8" stroke-width="0.7"/>
<circle cx="607.40" cy="41.71" r="1.3" fill="none" stroke="#a42ee8" stroke-width="0.7"/>
<circle cx="602.60" cy="43.75" r="1.3" fill="none" stroke="#a42ee8" stroke-width="0.7"/>
<circle cx="601.00" cy="46.82" r="1.3" fill="none" stroke="#a42ee8" stroke-width="0.7"/>
<circle cx="607.40" cy="48.87" r="1.3" fill="none" stroke="#a42ee8" stroke-width="0.7"/>
<line x1="604.20" y1="38.94" x2="604.20" y2="45.08" stroke="#a42ee8" stroke-width="0.7"/>
<line x1="602.20" y1="38.94" x2="606.20" y2="38.94" stroke="#a42ee8" stroke-width="0.7"/>
<line x1="602.20" y1="45.08" x2="606.20" y2="45.08" stroke="#a42ee8" stroke-width="0.7"/>
<text x="0" y="2.02" font-size="5.60" text-anchor="middle" fill="#222" stroke="#222" stroke-width="0.12" transform="translate(550.25 18.80) scale(0.92 1)">P&lt;0.0001</text>
<text x="0" y="2.02" font-size="5.60" text-anchor="middle" fill="#222" stroke="#222" stroke-width="0.12" transform="translate(583.80 18.80) scale(0.92 1)">P=0.0447</text>
<line x1="546.50" y1="21.50" x2="560.50" y2="21.50" stroke="#555" stroke-width="0.6"/>
<line x1="563.50" y1="21.50" x2="606.70" y2="21.50" stroke="#555" stroke-width="0.6"/>
<text x="0" y="2.02" font-size="5.60" text-anchor="middle" fill="#222" stroke="#222" stroke-width="0.12" transform="translate(558.15 29.30) scale(0.92 1)">P&lt;0.0001</text>
<line x1="557.70" y1="33.00" x2="571.40" y2="33.00" stroke="#555" stroke-width="0.6"/>
<text x="0" y="2.02" font-size="5.60" text-anchor="middle" fill="#222" stroke="#222" stroke-width="0.12" transform="translate(582.00 29.30) scale(0.92 1)">P&lt;0.0001</text>
<line x1="575.00" y1="33.00" x2="589.50" y2="33.00" stroke="#555" stroke-width="0.6"/>
<text x="0" y="2.02" font-size="5.60" text-anchor="middle" fill="#222" stroke="#222" stroke-width="0.12" transform="translate(603.25 29.30) scale(0.92 1)">P=0.9238</text>
<line x1="594.00" y1="33.00" x2="606.70" y2="33.00" stroke="#555" stroke-width="0.6"/>
<text x="0" y="2.54" font-size="7.06" text-anchor="middle" stroke="#111" stroke-width="0.12" transform="translate(578.30 105.00) scale(0.92 1)">Tumor burden</text>
<text x="0" y="2.54" font-size="7.06" text-anchor="middle" stroke="#111" stroke-width="0.12" transform="translate(520.50 58.50) rotate(-90) scale(0.92 1)">% of area</text>
<circle cx="625.20" cy="19.70" r="2.3" fill="none" stroke="#3a3a3a" stroke-width="1.0"/>
<text x="0" y="2.02" font-size="5.60" stroke="#111" stroke-width="0.12" transform="translate(630.90 19.70)">CON</text>
<circle cx="625.20" cy="26.60" r="2.3" fill="none" stroke="#f01818" stroke-width="1.0"/>
<text x="0" y="2.02" font-size="5.60" stroke="#111" stroke-width="0.12" transform="translate(630.90 26.60)">IgG</text>
<circle cx="625.20" cy="33.50" r="2.3" fill="none" stroke="#1818f0" stroke-width="1.0"/>
<text x="0" y="2.02" font-size="5.60" stroke="#111" stroke-width="0.12" transform="translate(630.90 33.50)">αPD-L1</text>
<circle cx="625.20" cy="40.40" r="2.3" fill="none" stroke="#f58a28" stroke-width="1.0"/>
<text x="0" y="2.02" font-size="5.60" stroke="#111" stroke-width="0.12" transform="translate(630.90 40.40)">αPD-L1+ αCD8a</text>
<circle cx="625.20" cy="47.30" r="2.3" fill="none" stroke="#a42ee8" stroke-width="1.0"/>
<text x="0" y="2.02" font-size="5.60" stroke="#111" stroke-width="0.12" transform="translate(630.90 47.30)">αCD8a</text>
<line x1="673.70" y1="24.50" x2="673.70" y2="51.80" stroke="#222" stroke-width="0.7"/>
<text x="0" y="2.26" font-size="6.27" text-anchor="middle" stroke="#111" stroke-width="0.12" transform="translate(677.60 38.15) rotate(90) scale(0.8 1)">TB mice</text>
<text x="0" y="3.06" font-size="8.50" fill="#000" font-weight="bold" stroke="#000" stroke-width="0.12" transform="translate(8.40 122.30)">E</text>
<circle cx="33.30" cy="125.50" r="2.3" fill="none" stroke="#3a3a3a" stroke-width="1.0"/>
<text x="0" y="2.02" font-size="5.60" stroke="#111" stroke-width="0.12" transform="translate(39.00 125.50)">CON</text>
<circle cx="33.30" cy="132.30" r="2.3" fill="none" stroke="#f01818" stroke-width="1.0"/>
<text x="0" y="2.02" font-size="5.60" stroke="#111" stroke-width="0.12" transform="translate(39.00 132.30)">IgG</text>
<circle cx="33.30" cy="139.00" r="2.3" fill="none" stroke="#1818f0" stroke-width="1.0"/>
<text x="0" y="2.02" font-size="5.60" stroke="#111" stroke-width="0.12" transform="translate(39.00 139.00)">αPD-L1</text>
<circle cx="33.30" cy="145.80" r="2.3" fill="none" stroke="#f58a28" stroke-width="1.0"/>
<text x="0" y="2.02" font-size="5.60" stroke="#111" stroke-width="0.12" transform="translate(39.00 145.80)">αPD-L1+ αCD8a</text>
<circle cx="33.30" cy="152.70" r="2.3" fill="none" stroke="#a42ee8" stroke-width="1.0"/>
<text x="0" y="2.02" font-size="5.60" stroke="#111" stroke-width="0.12" transform="translate(39.00 152.70)">αCD8a</text>
<line x1="81.70" y1="130.20" x2="81.70" y2="156.80" stroke="#222" stroke-width="0.7"/>
<text x="0" y="2.26" font-size="6.27" text-anchor="middle" stroke="#111" stroke-width="0.12" transform="translate(84.80 143.50) rotate(90) scale(0.8 1)">TB mice</text>
<line x1="32.30" y1="169.60" x2="32.30" y2="252.10" stroke="#333" stroke-width="0.7"/>
<line x1="30.30" y1="169.60" x2="32.30" y2="169.60" stroke="#333" stroke-width="0.7"/>
<text x="0" y="2.18" font-size="6.05" text-anchor="end" fill="#222" stroke="#222" stroke-width="0.12" transform="translate(28.10 169.60) scale(0.92 1)">40</text>
<line x1="30.30" y1="197.10" x2="32.30" y2="197.10" stroke="#333" stroke-width="0.7"/>
<text x="0" y="2.18" font-size="6.05" text-anchor="end" fill="#222" stroke="#222" stroke-width="0.12" transform="translate(28.10 197.10) scale(0.92 1)">20</text>
<line x1="30.30" y1="224.60" x2="32.30" y2="224.60" stroke="#333" stroke-width="0.7"/>
<text x="0" y="2.18" font-size="6.05" text-anchor="end" fill="#222" stroke="#222" stroke-width="0.12" transform="translate(28.10 224.60) scale(0.92 1)">0</text>
<line x1="30.30" y1="252.10" x2="32.30" y2="252.10" stroke="#333" stroke-width="0.7"/>
<text x="0" y="2.18" font-size="6.05" text-anchor="end" fill="#222" stroke="#222" stroke-width="0.12" transform="translate(28.10 252.10) scale(0.92 1)">-20</text>
<line x1="32.30" y1="252.10" x2="109.50" y2="252.10" stroke="#333" stroke-width="0.7"/>
<rect x="37.20" y="192.56" width="10.40" height="32.04" fill="#8f8f8f"/>
<rect x="50.90" y="224.60" width="11.10" height="3.30" fill="#ffbaba"/>
<rect x="66.00" y="224.60" width="10.10" height="12.38" fill="#bebeff"/>
<rect x="80.60" y="224.60" width="9.90" height="17.19" fill="#ffdcc0"/>
<rect x="95.00" y="217.17" width="9.90" height="7.43" fill="#e8c2f8"/>
<line x1="32.30" y1="224.60" x2="109.50" y2="224.60" stroke="#111" stroke-width="0.6" stroke-dasharray="1.2,0.8"/>
<circle cx="40.70" cy="177.85" r="1.35" fill="none" stroke="#7a7a7a" stroke-width="0.9"/>
<circle cx="42.40" cy="180.60" r="1.35" fill="none" stroke="#7a7a7a" stroke-width="0.9"/>
<circle cx="39.00" cy="190.22" r="1.35" fill="none" stroke="#7a7a7a" stroke-width="0.9"/>
<circle cx="45.80" cy="191.60" r="1.35" fill="none" stroke="#7a7a7a" stroke-width="0.9"/>
<circle cx="39.00" cy="194.35" r="1.35" fill="none" stroke="#7a7a7a" stroke-width="0.9"/>
<circle cx="45.80" cy="195.72" r="1.35" fill="none" stroke="#7a7a7a" stroke-width="0.9"/>
<circle cx="39.00" cy="197.10" r="1.35" fill="none" stroke="#7a7a7a" stroke-width="0.9"/>
<circle cx="45.80" cy="198.47" r="1.35" fill="none" stroke="#7a7a7a" stroke-width="0.9"/>
<line x1="42.40" y1="187.75" x2="42.40" y2="197.38" stroke="#3a3a3a" stroke-width="0.7"/>
<line x1="40.40" y1="187.75" x2="44.40" y2="187.75" stroke="#3a3a3a" stroke-width="0.7"/>
<line x1="40.40" y1="197.38" x2="44.40" y2="197.38" stroke="#3a3a3a" stroke-width="0.7"/>
<circle cx="54.75" cy="214.97" r="1.35" fill="none" stroke="#f01818" stroke-width="0.9"/>
<circle cx="53.05" cy="224.60" r="1.35" fill="none" stroke="#f01818" stroke-width="0.9"/>
<circle cx="56.45" cy="225.29" r="1.35" fill="none" stroke="#f01818" stroke-width="0.9"/>
<circle cx="59.85" cy="225.97" r="1.35" fill="none" stroke="#f01818" stroke-width="0.9"/>
<circle cx="53.05" cy="227.35" r="1.35" fill="none" stroke="#f01818" stroke-width="0.9"/>
<circle cx="59.85" cy="229.41" r="1.35" fill="none" stroke="#f01818" stroke-width="0.9"/>
<circle cx="56.45" cy="230.10" r="1.35" fill="none" stroke="#f01818" stroke-width="0.9"/>
<circle cx="58.15" cy="232.85" r="1.35" fill="none" stroke="#f01818" stroke-width="0.9"/>
<line x1="56.45" y1="224.46" x2="56.45" y2="231.34" stroke="#f01818" stroke-width="0.7"/>
<line x1="54.45" y1="224.46" x2="58.45" y2="224.46" stroke="#f01818" stroke-width="0.7"/>
<line x1="54.45" y1="231.34" x2="58.45" y2="231.34" stroke="#f01818" stroke-width="0.7"/>
<circle cx="67.65" cy="223.91" r="1.35" fill="none" stroke="#1818f0" stroke-width="0.9"/>
<circle cx="74.45" cy="225.97" r="1.35" fill="none" stroke="#1818f0" stroke-width="0.9"/>
<circle cx="69.35" cy="235.60" r="1.35" fill="none" stroke="#1818f0" stroke-width="0.9"/>
<circle cx="71.05" cy="238.35" r="1.35" fill="none" stroke="#1818f0" stroke-width="0.9"/>
<circle cx="72.75" cy="242.47" r="1.35" fill="none" stroke="#1818f0" stroke-width="0.9"/>
<circle cx="67.65" cy="245.22" r="1.35" fill="none" stroke="#1818f0" stroke-width="0.9"/>
<circle cx="74.45" cy="246.60" r="1.35" fill="none" stroke="#1818f0" stroke-width="0.9"/>
<circle cx="69.35" cy="247.97" r="1.35" fill="none" stroke="#1818f0" stroke-width="0.9"/>
<line x1="71.05" y1="232.85" x2="71.05" y2="241.10" stroke="#1818f0" stroke-width="0.7"/>
<line x1="69.05" y1="232.85" x2="73.05" y2="232.85" stroke="#1818f0" stroke-width="0.7"/>
<line x1="69.05" y1="241.10" x2="73.05" y2="241.10" stroke="#1818f0" stroke-width="0.7"/>
<circle cx="82.15" cy="238.35" r="1.35" fill="none" stroke="#f58a28" stroke-width="0.9"/>
<circle cx="88.95" cy="239.72" r="1.35" fill="none" stroke="#f58a28" stroke-width="0.9"/>
<circle cx="82.15" cy="241.10" r="1.35" fill="none" stroke="#f58a28" stroke-width="0.9"/>
<circle cx="85.55" cy="241.10" r="1.35" fill="none" stroke="#f58a28" stroke-width="0.9"/>
<circle cx="88.95" cy="242.47" r="1.35" fill="none" stroke="#f58a28" stroke-width="0.9"/>
<circle cx="82.15" cy="242.47" r="1.35" fill="none" stroke="#f58a28" stroke-width="0.9"/>
<circle cx="88.95" cy="243.85" r="1.35" fill="none" stroke="#f58a28" stroke-width="0.9"/>
<line x1="85.55" y1="239.72" x2="85.55" y2="243.85" stroke="#f58a28" stroke-width="0.7"/>
<line x1="83.55" y1="239.72" x2="87.55" y2="239.72" stroke="#f58a28" stroke-width="0.7"/>
<line x1="83.55" y1="243.85" x2="87.55" y2="243.85" stroke="#f58a28" stroke-width="0.7"/>
<circle cx="96.55" cy="208.10" r="1.35" fill="none" stroke="#a42ee8" stroke-width="0.9"/>
<circle cx="103.35" cy="209.47" r="1.35" fill="none" stroke="#a42ee8" stroke-width="0.9"/>
<circle cx="96.55" cy="212.22" r="1.35" fill="none" stroke="#a42ee8" stroke-width="0.9"/>
<circle cx="103.35" cy="213.60" r="1.35" fill="none" stroke="#a42ee8" stroke-width="0.9"/>
<circle cx="98.25" cy="214.97" r="1.35" fill="none" stroke="#a42ee8" stroke-width="0.9"/>
<circle cx="99.95" cy="228.72" r="1.35" fill="none" stroke="#a42ee8" stroke-width="0.9"/>
<circle cx="101.65" cy="231.47" r="1.35" fill="none" stroke="#a42ee8" stroke-width="0.9"/>
<line x1="99.95" y1="213.05" x2="99.95" y2="221.30" stroke="#a42ee8" stroke-width="0.7"/>
<line x1="97.95" y1="213.05" x2="101.95" y2="213.05" stroke="#a42ee8" stroke-width="0.7"/>
<line x1="97.95" y1="221.30" x2="101.95" y2="221.30" stroke="#a42ee8" stroke-width="0.7"/>
<text x="0" y="2.02" font-size="5.60" text-anchor="middle" fill="#222" stroke="#222" stroke-width="0.12" transform="translate(48.65 169.70) scale(0.92 1)">P&lt;0.0001</text>
<line x1="40.90" y1="173.30" x2="54.10" y2="173.30" stroke="#555" stroke-width="0.6"/>
<text x="0" y="2.02" font-size="5.60" text-anchor="middle" fill="#222" stroke="#222" stroke-width="0.12" transform="translate(79.75 169.70) scale(0.92 1)">P=0.0447</text>
<line x1="57.00" y1="173.30" x2="100.40" y2="173.30" stroke="#555" stroke-width="0.6"/>
<text x="0" y="2.02" font-size="5.60" text-anchor="middle" fill="#222" stroke="#222" stroke-width="0.12" transform="translate(85.85 191.20) scale(0.92 1)">P=0.0021</text>
<line x1="70.70" y1="194.40" x2="99.60" y2="194.40" stroke="#555" stroke-width="0.6"/>
<text x="0" y="2.02" font-size="5.60" text-anchor="middle" fill="#222" stroke="#222" stroke-width="0.12" transform="translate(73.20 199.10) scale(0.92 1)">P=0.2958</text>
<line x1="70.70" y1="203.30" x2="83.90" y2="203.30" stroke="#555" stroke-width="0.6"/>
<text x="0" y="2.02" font-size="5.60" text-anchor="middle" fill="#222" stroke="#222" stroke-width="0.12" transform="translate(97.70 199.10) scale(0.92 1)">P&lt;0.0001</text>
<line x1="87.20" y1="203.30" x2="99.60" y2="203.30" stroke="#555" stroke-width="0.6"/>
<text x="0" y="2.02" font-size="5.60" text-anchor="middle" fill="#222" stroke="#222" stroke-width="0.12" transform="translate(64.50 207.90) scale(0.92 1)">P=0.0357</text>
<line x1="56.60" y1="211.40" x2="69.80" y2="211.40" stroke="#555" stroke-width="0.6"/>
<text x="0" y="2.54" font-size="7.06" text-anchor="middle" stroke="#111" stroke-width="0.12" transform="translate(71.70 256.80) scale(0.92 1)">BW change</text>
<text x="0" y="2.54" font-size="7.06" text-anchor="middle" stroke="#111" stroke-width="0.12" transform="translate(14.40 204.30) rotate(-90) scale(0.92 1)">% of IBW</text>
<text x="0" y="3.06" font-size="8.50" fill="#000" font-weight="bold" stroke="#000" stroke-width="0.12" transform="translate(154.10 122.30)">F</text>
<circle cx="181.50" cy="125.70" r="2.3" fill="none" stroke="#3a3a3a" stroke-width="1.0"/>
<text x="0" y="2.02" font-size="5.60" stroke="#111" stroke-width="0.12" transform="translate(187.20 125.70)">CON</text>
<circle cx="181.50" cy="132.70" r="2.3" fill="none" stroke="#f01818" stroke-width="1.0"/>
<text x="0" y="2.02" font-size="5.60" stroke="#111" stroke-width="0.12" transform="translate(187.20 132.70)">IgG</text>
<circle cx="181.50" cy="139.50" r="2.3" fill="none" stroke="#1818f0" stroke-width="1.0"/>
<text x="0" y="2.02" font-size="5.60" stroke="#111" stroke-width="0.12" transform="translate(187.20 139.50)">αPD-L1</text>
<circle cx="181.50" cy="146.40" r="2.3" fill="none" stroke="#f58a28" stroke-width="1.0"/>
<text x="0" y="2.02" font-size="5.60" stroke="#111" stroke-width="0.12" transform="translate(187.20 146.40)">αPD-L1+ αCD8a</text>
<circle cx="181.50" cy="153.30" r="2.3" fill="none" stroke="#a42ee8" stroke-width="1.0"/>
<text x="0" y="2.02" font-size="5.60" stroke="#111" stroke-width="0.12" transform="translate(187.20 153.30)">αCD8a</text>
<line x1="229.60" y1="130.00" x2="229.60" y2="157.50" stroke="#222" stroke-width="0.7"/>
<text x="0" y="2.26" font-size="6.27" text-anchor="middle" stroke="#111" stroke-width="0.12" transform="translate(233.40 143.75) rotate(90) scale(0.8 1)">TB mice</text>
<line x1="178.40" y1="170.00" x2="178.40" y2="251.20" stroke="#333" stroke-width="0.7"/>
<line x1="176.40" y1="170.00" x2="178.40" y2="170.00" stroke="#333" stroke-width="0.7"/>
<text x="0" y="2.18" font-size="6.05" text-anchor="end" fill="#222" stroke="#222" stroke-width="0.12" transform="translate(174.20 170.00) scale(0.92 1)">120</text>
<line x1="176.40" y1="190.30" x2="178.40" y2="190.30" stroke="#333" stroke-width="0.7"/>
<text x="0" y="2.18" font-size="6.05" text-anchor="end" fill="#222" stroke="#222" stroke-width="0.12" transform="translate(174.20 190.30) scale(0.92 1)">100</text>
<line x1="176.40" y1="210.60" x2="178.40" y2="210.60" stroke="#333" stroke-width="0.7"/>
<text x="0" y="2.18" font-size="6.05" text-anchor="end" fill="#222" stroke="#222" stroke-width="0.12" transform="translate(174.20 210.60) scale(0.92 1)">80</text>
<line x1="176.40" y1="230.90" x2="178.40" y2="230.90" stroke="#333" stroke-width="0.7"/>
<text x="0" y="2.18" font-size="6.05" text-anchor="end" fill="#222" stroke="#222" stroke-width="0.12" transform="translate(174.20 230.90) scale(0.92 1)">60</text>
<line x1="176.40" y1="251.20" x2="178.40" y2="251.20" stroke="#333" stroke-width="0.7"/>
<text x="0" y="2.18" font-size="6.05" text-anchor="end" fill="#222" stroke="#222" stroke-width="0.12" transform="translate(174.20 251.20) scale(0.92 1)">40</text>
<line x1="178.40" y1="251.20" x2="256.50" y2="251.20" stroke="#333" stroke-width="0.7"/>
<rect x="184.10" y="190.30" width="9.90" height="60.90" fill="#8f8f8f"/>
<rect x="198.20" y="216.69" width="9.90" height="34.51" fill="#ffbaba"/>
<rect x="212.30" y="224.81" width="10.00" height="26.39" fill="#bebeff"/>
<rect x="226.70" y="220.75" width="9.90" height="30.45" fill="#ffdcc0"/>
<rect x="241.00" y="209.58" width="10.00" height="41.62" fill="#e8c2f8"/>
<circle cx="187.35" cy="182.18" r="1.35" fill="none" stroke="#7a7a7a" stroke-width="0.9"/>
<circle cx="185.65" cy="186.24" r="1.35" fill="none" stroke="#7a7a7a" stroke-width="0.9"/>
<circle cx="192.45" cy="188.27" r="1.35" fill="none" stroke="#7a7a7a" stroke-width="0.9"/>
<circle cx="185.65" cy="189.28" r="1.35" fill="none" stroke="#7a7a7a" stroke-width="0.9"/>
<circle cx="192.45" cy="191.31" r="1.35" fill="none" stroke="#7a7a7a" stroke-width="0.9"/>
<circle cx="185.65" cy="193.34" r="1.35" fill="none" stroke="#7a7a7a" stroke-width="0.9"/>
<circle cx="192.45" cy="195.38" r="1.35" fill="none" stroke="#7a7a7a" stroke-width="0.9"/>
<circle cx="189.05" cy="198.42" r="1.35" fill="none" stroke="#7a7a7a" stroke-width="0.9"/>
<line x1="189.05" y1="187.76" x2="189.05" y2="192.84" stroke="#3a3a3a" stroke-width="0.7"/>
<line x1="187.05" y1="187.76" x2="191.05" y2="187.76" stroke="#3a3a3a" stroke-width="0.7"/>
<line x1="187.05" y1="192.84" x2="191.05" y2="192.84" stroke="#3a3a3a" stroke-width="0.7"/>
<circle cx="201.45" cy="210.60" r="1.35" fill="none" stroke="#f01818" stroke-width="0.9"/>
<circle cx="199.75" cy="214.66" r="1.35" fill="none" stroke="#f01818" stroke-width="0.9"/>
<circle cx="203.15" cy="215.67" r="1.35" fill="none" stroke="#f01818" stroke-width="0.9"/>
<circle cx="206.55" cy="216.69" r="1.35" fill="none" stroke="#f01818" stroke-width="0.9"/>
<circle cx="199.75" cy="217.70" r="1.35" fill="none" stroke="#f01818" stroke-width="0.9"/>
<circle cx="206.55" cy="218.72" r="1.35" fill="none" stroke="#f01818" stroke-width="0.9"/>
<circle cx="203.15" cy="220.75" r="1.35" fill="none" stroke="#f01818" stroke-width="0.9"/>
<line x1="203.15" y1="214.66" x2="203.15" y2="218.72" stroke="#f01818" stroke-width="0.7"/>
<line x1="201.15" y1="214.66" x2="205.15" y2="214.66" stroke="#f01818" stroke-width="0.7"/>
<line x1="201.15" y1="218.72" x2="205.15" y2="218.72" stroke="#f01818" stroke-width="0.7"/>
<circle cx="213.90" cy="214.66" r="1.35" fill="none" stroke="#1818f0" stroke-width="0.9"/>
<circle cx="220.70" cy="216.69" r="1.35" fill="none" stroke="#1818f0" stroke-width="0.9"/>
<circle cx="215.60" cy="220.75" r="1.35" fill="none" stroke="#1818f0" stroke-width="0.9"/>
<circle cx="213.90" cy="223.79" r="1.35" fill="none" stroke="#1818f0" stroke-width="0.9"/>
<circle cx="220.70" cy="225.82" r="1.35" fill="none" stroke="#1818f0" stroke-width="0.9"/>
<circle cx="213.90" cy="228.87" r="1.35" fill="none" stroke="#1818f0" stroke-width="0.9"/>
<circle cx="220.70" cy="230.90" r="1.35" fill="none" stroke="#1818f0" stroke-width="0.9"/>
<line x1="217.30" y1="221.76" x2="217.30" y2="227.85" stroke="#1818f0" stroke-width="0.7"/>
<line x1="215.30" y1="221.76" x2="219.30" y2="221.76" stroke="#1818f0" stroke-width="0.7"/>
<line x1="215.30" y1="227.85" x2="219.30" y2="227.85" stroke="#1818f0" stroke-width="0.7"/>
<circle cx="228.25" cy="211.62" r="1.35" fill="none" stroke="#f58a28" stroke-width="0.9"/>
<circle cx="235.05" cy="212.63" r="1.35" fill="none" stroke="#f58a28" stroke-width="0.9"/>
<circle cx="229.95" cy="215.67" r="1.35" fill="none" stroke="#f58a28" stroke-width="0.9"/>
<circle cx="231.65" cy="220.75" r="1.35" fill="none" stroke="#f58a28" stroke-width="0.9"/>
<circle cx="233.35" cy="224.81" r="1.35" fill="none" stroke="#f58a28" stroke-width="0.9"/>
<circle cx="228.25" cy="230.90" r="1.35" fill="none" stroke="#f58a28" stroke-width="0.9"/>
<circle cx="235.05" cy="232.93" r="1.35" fill="none" stroke="#f58a28" stroke-width="0.9"/>
<line x1="231.65" y1="216.69" x2="231.65" y2="224.81" stroke="#f58a28" stroke-width="0.7"/>
<line x1="229.65" y1="216.69" x2="233.65" y2="216.69" stroke="#f58a28" stroke-width="0.7"/>
<line x1="229.65" y1="224.81" x2="233.65" y2="224.81" stroke="#f58a28" stroke-width="0.7"/>
<circle cx="244.30" cy="203.50" r="1.35" fill="none" stroke="#a42ee8" stroke-width="0.9"/>
<circle cx="242.60" cy="206.54" r="1.35" fill="none" stroke="#a42ee8" stroke-width="0.9"/>
<circle cx="249.40" cy="208.57" r="1.35" fill="none" stroke="#a42ee8" stroke-width="0.9"/>
<circle cx="242.60" cy="210.60" r="1.35" fill="none" stroke="#a42ee8" stroke-width="0.9"/>
<circle cx="249.40" cy="212.63" r="1.35" fill="none" stroke="#a42ee8" stroke-width="0.9"/>
<circle cx="246.00" cy="213.64" r="1.35" fill="none" stroke="#a42ee8" stroke-width="0.9"/>
<line x1="246.00" y1="207.05" x2="246.00" y2="212.12" stroke="#a42ee8" stroke-width="0.7"/>
<line x1="244.00" y1="207.05" x2="248.00" y2="207.05" stroke="#a42ee8" stroke-width="0.7"/>
<line x1="244.00" y1="212.12" x2="248.00" y2="212.12" stroke="#a42ee8" stroke-width="0.7"/>
<text x="0" y="1.85" font-size="5.15" text-anchor="middle" fill="#555" stroke="#555" stroke-width="0.12" transform="translate(217.80 241.60) rotate(-90) scale(0.92 1)">68.10%</text>
<line x1="272.50" y1="169.60" x2="272.50" y2="250.80" stroke="#333" stroke-width="0.7"/>
<line x1="270.50" y1="169.60" x2="272.50" y2="169.60" stroke="#333" stroke-width="0.7"/>
<text x="0" y="2.18" font-size="6.05" text-anchor="end" fill="#222" stroke="#222" stroke-width="0.12" transform="translate(268.30 169.60) scale(0.92 1)">120</text>
<line x1="270.50" y1="189.90" x2="272.50" y2="189.90" stroke="#333" stroke-width="0.7"/>
<text x="0" y="2.18" font-size="6.05" text-anchor="end" fill="#222" stroke="#222" stroke-width="0.12" transform="translate(268.30 189.90) scale(0.92 1)">100</text>
<line x1="270.50" y1="210.20" x2="272.50" y2="210.20" stroke="#333" stroke-width="0.7"/>
<text x="0" y="2.18" font-size="6.05" text-anchor="end" fill="#222" stroke="#222" stroke-width="0.12" transform="translate(268.30 210.20) scale(0.92 1)">80</text>
<line x1="270.50" y1="230.50" x2="272.50" y2="230.50" stroke="#333" stroke-width="0.7"/>
<text x="0" y="2.18" font-size="6.05" text-anchor="end" fill="#222" stroke="#222" stroke-width="0.12" transform="translate(268.30 230.50) scale(0.92 1)">60</text>
<line x1="270.50" y1="250.80" x2="272.50" y2="250.80" stroke="#333" stroke-width="0.7"/>
<text x="0" y="2.18" font-size="6.05" text-anchor="end" fill="#222" stroke="#222" stroke-width="0.12" transform="translate(268.30 250.80) scale(0.92 1)">40</text>
<line x1="272.50" y1="250.80" x2="351.00" y2="250.80" stroke="#333" stroke-width="0.7"/>
<rect x="278.00" y="189.90" width="9.60" height="60.90" fill="#8f8f8f"/>
<rect x="292.00" y="218.32" width="10.00" height="32.48" fill="#ffbaba"/>
<rect x="306.40" y="223.40" width="9.90" height="27.41" fill="#bebeff"/>
<rect x="321.00" y="225.63" width="9.80" height="25.17" fill="#ffdcc0"/>
<rect x="335.50" y="209.19" width="9.50" height="41.62" fill="#e8c2f8"/>
<circle cx="279.40" cy="179.75" r="1.35" fill="none" stroke="#7a7a7a" stroke-width="0.9"/>
<circle cx="286.20" cy="181.78" r="1.35" fill="none" stroke="#7a7a7a" stroke-width="0.9"/>
<circle cx="279.40" cy="184.83" r="1.35" fill="none" stroke="#7a7a7a" stroke-width="0.9"/>
<circle cx="286.20" cy="186.86" r="1.35" fill="none" stroke="#7a7a7a" stroke-width="0.9"/>
<circle cx="281.10" cy="189.90" r="1.35" fill="none" stroke="#7a7a7a" stroke-width="0.9"/>
<circle cx="282.80" cy="193.96" r="1.35" fill="none" stroke="#7a7a7a" stroke-width="0.9"/>
<circle cx="279.40" cy="202.08" r="1.35" fill="none" stroke="#7a7a7a" stroke-width="0.9"/>
<circle cx="286.20" cy="204.11" r="1.35" fill="none" stroke="#7a7a7a" stroke-width="0.9"/>
<line x1="282.80" y1="186.86" x2="282.80" y2="192.95" stroke="#3a3a3a" stroke-width="0.7"/>
<line x1="280.80" y1="186.86" x2="284.80" y2="186.86" stroke="#3a3a3a" stroke-width="0.7"/>
<line x1="280.80" y1="192.95" x2="284.80" y2="192.95" stroke="#3a3a3a" stroke-width="0.7"/>
<circle cx="293.60" cy="210.20" r="1.35" fill="none" stroke="#f01818" stroke-width="0.9"/>
<circle cx="300.40" cy="212.23" r="1.35" fill="none" stroke="#f01818" stroke-width="0.9"/>
<circle cx="293.60" cy="214.26" r="1.35" fill="none" stroke="#f01818" stroke-width="0.9"/>
<circle cx="300.40" cy="216.29" r="1.35" fill="none" stroke="#f01818" stroke-width="0.9"/>
<circle cx="295.30" cy="220.35" r="1.35" fill="none" stroke="#f01818" stroke-width="0.9"/>
<circle cx="293.60" cy="224.41" r="1.35" fill="none" stroke="#f01818" stroke-width="0.9"/>
<circle cx="300.40" cy="225.43" r="1.35" fill="none" stroke="#f01818" stroke-width="0.9"/>
<line x1="297.00" y1="215.78" x2="297.00" y2="220.86" stroke="#f01818" stroke-width="0.7"/>
<line x1="295.00" y1="215.78" x2="299.00" y2="215.78" stroke="#f01818" stroke-width="0.7"/>
<line x1="295.00" y1="220.86" x2="299.00" y2="220.86" stroke="#f01818" stroke-width="0.7"/>
<circle cx="307.95" cy="218.32" r="1.35" fill="none" stroke="#1818f0" stroke-width="0.9"/>
<circle cx="314.75" cy="220.35" r="1.35" fill="none" stroke="#1818f0" stroke-width="0.9"/>
<circle cx="307.95" cy="222.38" r="1.35" fill="none" stroke="#1818f0" stroke-width="0.9"/>
<circle cx="314.75" cy="224.41" r="1.35" fill="none" stroke="#1818f0" stroke-width="0.9"/>
<circle cx="309.65" cy="228.47" r="1.35" fill="none" stroke="#1818f0" stroke-width="0.9"/>
<circle cx="311.35" cy="232.53" r="1.35" fill="none" stroke="#1818f0" stroke-width="0.9"/>
<line x1="311.35" y1="220.86" x2="311.35" y2="225.93" stroke="#1818f0" stroke-width="0.7"/>
<line x1="309.35" y1="220.86" x2="313.35" y2="220.86" stroke="#1818f0" stroke-width="0.7"/>
<line x1="309.35" y1="225.93" x2="313.35" y2="225.93" stroke="#1818f0" stroke-width="0.7"/>
<circle cx="322.50" cy="219.34" r="1.35" fill="none" stroke="#f58a28" stroke-width="0.9"/>
<circle cx="329.30" cy="220.35" r="1.35" fill="none" stroke="#f58a28" stroke-width="0.9"/>
<circle cx="324.20" cy="222.38" r="1.35" fill="none" stroke="#f58a28" stroke-width="0.9"/>
<circle cx="325.90" cy="226.44" r="1.35" fill="none" stroke="#f58a28" stroke-width="0.9"/>
<circle cx="322.50" cy="230.50" r="1.35" fill="none" stroke="#f58a28" stroke-width="0.9"/>
<circle cx="329.30" cy="232.53" r="1.35" fill="none" stroke="#f58a28" stroke-width="0.9"/>
<circle cx="327.60" cy="233.55" r="1.35" fill="none" stroke="#f58a28" stroke-width="0.9"/>
<line x1="325.90" y1="221.57" x2="325.90" y2="229.69" stroke="#f58a28" stroke-width="0.7"/>
<line x1="323.90" y1="221.57" x2="327.90" y2="221.57" stroke="#f58a28" stroke-width="0.7"/>
<line x1="323.90" y1="229.69" x2="327.90" y2="229.69" stroke="#f58a28" stroke-width="0.7"/>
<circle cx="338.55" cy="195.99" r="1.35" fill="none" stroke="#a42ee8" stroke-width="0.9"/>
<circle cx="340.25" cy="202.08" r="1.35" fill="none" stroke="#a42ee8" stroke-width="0.9"/>
<circle cx="341.95" cy="206.14" r="1.35" fill="none" stroke="#a42ee8" stroke-width="0.9"/>
<circle cx="338.55" cy="210.20" r="1.35" fill="none" stroke="#a42ee8" stroke-width="0.9"/>
<circle cx="340.25" cy="214.26" r="1.35" fill="none" stroke="#a42ee8" stroke-width="0.9"/>
<circle cx="336.85" cy="218.32" r="1.35" fill="none" stroke="#a42ee8" stroke-width="0.9"/>
<circle cx="343.65" cy="220.35" r="1.35" fill="none" stroke="#a42ee8" stroke-width="0.9"/>
<line x1="340.25" y1="206.14" x2="340.25" y2="212.23" stroke="#a42ee8" stroke-width="0.7"/>
<line x1="338.25" y1="206.14" x2="342.25" y2="206.14" stroke="#a42ee8" stroke-width="0.7"/>
<line x1="338.25" y1="212.23" x2="342.25" y2="212.23" stroke="#a42ee8" stroke-width="0.7"/>
<text x="0" y="1.85" font-size="5.15" text-anchor="middle" fill="#555" stroke="#555" stroke-width="0.12" transform="translate(311.40 240.60) rotate(-90) scale(0.92 1)">65.74%</text>
<text x="0" y="2.54" font-size="7.06" text-anchor="middle" stroke="#111" stroke-width="0.12" transform="translate(216.00 256.70) scale(0.92 1)">GA</text>
<text x="0" y="2.54" font-size="7.06" text-anchor="middle" stroke="#111" stroke-width="0.12" transform="translate(312.40 256.60) scale(0.92 1)">TA</text>
<text x="0" y="2.50" font-size="6.94" text-anchor="middle" stroke="#111" stroke-width="0.12" transform="translate(150.00 211.60) rotate(-90) scale(0.92 1)">Muscle weight / IBW</text>
<text x="0" y="2.50" font-size="6.94" text-anchor="middle" stroke="#111" stroke-width="0.12" transform="translate(157.80 211.60) rotate(-90) scale(0.92 1)">(% of control)</text>
<text x="0" y="2.02" font-size="5.60" text-anchor="middle" fill="#222" stroke="#222" stroke-width="0.12" transform="translate(194.15 171.30) scale(0.92 1)">P&lt;0.0001</text>
<line x1="187.00" y1="175.70" x2="201.40" y2="175.70" stroke="#555" stroke-width="0.6"/>
<text x="0" y="2.02" font-size="5.60" text-anchor="middle" fill="#222" stroke="#222" stroke-width="0.12" transform="translate(227.65 171.30) scale(0.92 1)">P=0.0212</text>
<line x1="203.20" y1="175.70" x2="247.00" y2="175.70" stroke="#555" stroke-width="0.6"/>
<text x="0" y="2.02" font-size="5.60" text-anchor="middle" fill="#222" stroke="#222" stroke-width="0.12" transform="translate(235.85 180.00) scale(0.92 1)">P=0.0271</text>
<line x1="220.50" y1="183.60" x2="247.00" y2="183.60" stroke="#555" stroke-width="0.6"/>
<text x="0" y="2.02" font-size="5.60" text-anchor="middle" fill="#222" stroke="#222" stroke-width="0.12" transform="translate(209.00 187.90) scale(0.92 1)">P=0.0449</text>
<line x1="203.20" y1="190.50" x2="218.80" y2="190.50" stroke="#555" stroke-width="0.6"/>
<text x="0" y="2.02" font-size="5.60" text-anchor="middle" fill="#222" stroke="#222" stroke-width="0.12" transform="translate(232.90 187.90) scale(0.92 1)">P=0.0019</text>
<line x1="220.50" y1="190.50" x2="247.00" y2="190.50" stroke="#555" stroke-width="0.6"/>
<text x="0" y="2.02" font-size="5.60" text-anchor="middle" fill="#222" stroke="#222" stroke-width="0.12" transform="translate(225.45 195.30) scale(0.92 1)">P=0.6198</text>
<line x1="218.80" y1="199.20" x2="231.70" y2="199.20" stroke="#555" stroke-width="0.6"/>
<text x="0" y="2.02" font-size="5.60" text-anchor="middle" fill="#222" stroke="#222" stroke-width="0.12" transform="translate(291.90 172.50) scale(0.92 1)">P&lt;0.0001</text>
<line x1="285.40" y1="176.00" x2="298.10" y2="176.00" stroke="#555" stroke-width="0.6"/>
<text x="0" y="2.02" font-size="5.60" text-anchor="middle" fill="#222" stroke="#222" stroke-width="0.12" transform="translate(325.60 172.50) scale(0.92 1)">P=0.0257</text>
<line x1="301.10" y1="176.00" x2="345.70" y2="176.00" stroke="#555" stroke-width="0.6"/>
<text x="0" y="2.02" font-size="5.60" text-anchor="middle" fill="#222" stroke="#222" stroke-width="0.12" transform="translate(334.15 180.10) scale(0.92 1)">P=0.0008</text>
<line x1="329.20" y1="183.10" x2="345.70" y2="183.10" stroke="#555" stroke-width="0.6"/>
<text x="0" y="2.02" font-size="5.60" text-anchor="middle" fill="#222" stroke="#222" stroke-width="0.12" transform="translate(306.20 187.40) scale(0.92 1)">P=0.0492</text>
<line x1="301.10" y1="190.60" x2="316.80" y2="190.60" stroke="#555" stroke-width="0.6"/>
<text x="0" y="2.02" font-size="5.60" text-anchor="middle" fill="#222" stroke="#222" stroke-width="0.12" transform="translate(331.00 187.40) scale(0.92 1)">P=0.0005</text>
<line x1="319.30" y1="190.60" x2="344.90" y2="190.60" stroke="#555" stroke-width="0.6"/>
<text x="0" y="2.02" font-size="5.60" text-anchor="middle" fill="#222" stroke="#222" stroke-width="0.12" transform="translate(322.95 195.30) scale(0.92 1)">P=0.7300</text>
<line x1="316.30" y1="199.30" x2="330.00" y2="199.30" stroke="#555" stroke-width="0.6"/>
<text x="0" y="3.06" font-size="8.50" fill="#000" font-weight="bold" stroke="#000" stroke-width="0.12" transform="translate(354.30 121.90)">G</text>
<text x="0" y="2.50" font-size="6.94" text-anchor="middle" stroke="#111" stroke-width="0.12" transform="translate(410.30 143.00) scale(0.92 1)">CON</text>
<text x="0" y="2.50" font-size="6.94" text-anchor="middle" stroke="#111" stroke-width="0.12" transform="translate(467.20 142.40) scale(0.92 1)">IgG</text>
<text x="0" y="2.50" font-size="6.94" text-anchor="middle" stroke="#111" stroke-width="0.12" transform="translate(522.30 142.40) scale(0.92 1)">αPD-L1</text>
<text x="0" y="2.50" font-size="6.94" text-anchor="middle" stroke="#111" stroke-width="0.12" transform="translate(579.00 143.30) scale(0.92 1)">αPD-L1+ αCD8a</text>
<text x="0" y="2.50" font-size="6.94" text-anchor="middle" stroke="#111" stroke-width="0.12" transform="translate(637.30 143.30) scale(0.92 1)">αCD8a</text>
<text x="0" y="2.50" font-size="6.94" text-anchor="middle" stroke="#111" stroke-width="0.12" transform="translate(552.30 131.00) scale(0.92 1)">TB mice</text>
<line x1="443.00" y1="136.60" x2="661.30" y2="136.60" stroke="#777" stroke-width="0.9"/>
<text x="0" y="2.42" font-size="6.72" text-anchor="middle" stroke="#111" stroke-width="0.12" transform="translate(376.60 176.00) rotate(-90) scale(0.92 1)">Muscle H&amp;E</text>
<clipPath id="hcc"><rect x="385" y="148.3" width="55" height="54.5"/></clipPath><g clip-path="url(#hcc)"><g filter="url(#heb)">
<rect x="384.00" y="147.30" width="57.00" height="56.50" fill="#df5cc1"/>
<path d="M404.0,148.3 L405.0,158.3 L406.0,169.3" fill="none" stroke="#eaa0dc" stroke-width="0.45"/>
<path d="M422.0,148.3 L421.0,156.3 L422.0,161.3" fill="none" stroke="#eaa0dc" stroke-width="0.45"/>
<path d="M430.0,152.3 L433.0,161.3" fill="none" stroke="#eaa0dc" stroke-width="0.45"/>
<path d="M415.0,179.3 L414.0,190.3 L415.0,203.3" fill="none" stroke="#eaa0dc" stroke-width="0.45"/>
<path d="M399.0,171.3 L397.0,186.3 L398.0,203.3" fill="none" stroke="#eaa0dc" stroke-width="0.45"/>
<path d="M425.0,188.3 L432.0,184.3 L440.0,181.3" fill="none" stroke="#eaa0dc" stroke-width="0.45"/>
<path d="M405.0,203.3 L407.0,193.3 L412.0,188.3" fill="none" stroke="#eaa0dc" stroke-width="0.45"/>
<path d="M391.0,172.3 L390.0,188.3 L385.0,195.3" fill="none" stroke="#eaa0dc" stroke-width="0.45"/>
<path d="M413.0,148.3 L414.0,156.3 L412.0,162.3" fill="none" stroke="#eaa0dc" stroke-width="0.45"/>
<path d="M435.0,162.3 L437.0,178.3 L440.0,188.3" fill="none" stroke="#eaa0dc" stroke-width="0.45"/>
<path d="M423.0,191.3 L425.0,203.3" fill="none" stroke="#eaa0dc" stroke-width="0.45"/>
<path d="M427.0,166.3 L429.0,178.3 L431.0,184.3" fill="none" stroke="#eaa0dc" stroke-width="0.45"/>
<path d="M385.0,169.8 L394.0,170.1 L402.0,170.9 L408.0,172.5 L412.0,175.3 L415.0,179.3 L420.0,183.8 L425.0,188.8 L430.0,194.8 L435.0,201.3 L436.5,203.3" fill="none" stroke="#f3dcf0" stroke-width="0.9"/>
<path d="M412.0,175.3 L418.0,169.3 L425.0,165.3 L431.0,162.8 L435.0,162.3 L440.0,163.3" fill="none" stroke="#f3dcf0" stroke-width="0.9"/>
<path d="M386.0,168.3 L390.0,162.3 L394.0,156.3 L397.0,151.3 L398.0,148.3" fill="none" stroke="#f3dcf0" stroke-width="0.9"/>
<circle cx="415.2" cy="186.5" r="0.45" fill="#7050b0" opacity="0.55"/>
<circle cx="401.4" cy="176.1" r="0.45" fill="#7050b0" opacity="0.55"/>
<circle cx="433.3" cy="196.4" r="0.45" fill="#7050b0" opacity="0.55"/>
<circle cx="392.7" cy="160.2" r="0.45" fill="#7050b0" opacity="0.55"/>
<circle cx="388.7" cy="172.4" r="0.45" fill="#7050b0" opacity="0.55"/>
<circle cx="387.6" cy="173.3" r="0.45" fill="#7050b0" opacity="0.55"/>
<circle cx="420.4" cy="163.9" r="0.45" fill="#7050b0" opacity="0.55"/>
<circle cx="421.8" cy="180.3" r="0.45" fill="#7050b0" opacity="0.55"/>
<circle cx="387.3" cy="178.6" r="0.45" fill="#7050b0" opacity="0.55"/>
<circle cx="399.7" cy="171.1" r="0.45" fill="#7050b0" opacity="0.55"/>
<circle cx="401.0" cy="185.7" r="0.45" fill="#7050b0" opacity="0.55"/>
<circle cx="409.3" cy="157.5" r="0.45" fill="#7050b0" opacity="0.55"/>
<circle cx="414.9" cy="190.3" r="0.45" fill="#7050b0" opacity="0.55"/>
<circle cx="402.2" cy="161.0" r="0.45" fill="#7050b0" opacity="0.55"/>
<circle cx="406.6" cy="198.5" r="0.45" fill="#7050b0" opacity="0.55"/>
<circle cx="437.7" cy="184.6" r="0.45" fill="#7050b0" opacity="0.55"/>
<circle cx="433.9" cy="193.7" r="0.45" fill="#7050b0" opacity="0.55"/>
<circle cx="406.0" cy="154.1" r="0.45" fill="#7050b0" opacity="0.55"/>
<circle cx="420.6" cy="178.6" r="0.45" fill="#7050b0" opacity="0.55"/>
<circle cx="405.2" cy="161.1" r="0.45" fill="#7050b0" opacity="0.55"/>
<circle cx="407.5" cy="173.9" r="0.45" fill="#7050b0" opacity="0.55"/>
<circle cx="400.3" cy="164.6" r="0.45" fill="#7050b0" opacity="0.55"/>
<circle cx="410.3" cy="194.5" r="0.45" fill="#7050b0" opacity="0.55"/>
<circle cx="417.1" cy="164.2" r="0.45" fill="#7050b0" opacity="0.55"/>
<circle cx="400.7" cy="173.2" r="0.45" fill="#7050b0" opacity="0.55"/>
<circle cx="396.9" cy="159.9" r="0.45" fill="#7050b0" opacity="0.55"/>
<circle cx="413.2" cy="153.9" r="0.45" fill="#7050b0" opacity="0.55"/>
<circle cx="411.6" cy="168.3" r="0.45" fill="#7050b0" opacity="0.55"/>
<circle cx="423.5" cy="188.5" r="0.45" fill="#7050b0" opacity="0.55"/>
<circle cx="422.6" cy="185.5" r="0.45" fill="#7050b0" opacity="0.55"/>
<circle cx="405.8" cy="184.4" r="0.45" fill="#7050b0" opacity="0.55"/>
<circle cx="404.0" cy="179.4" r="0.45" fill="#7050b0" opacity="0.55"/>
<circle cx="403.3" cy="172.7" r="0.45" fill="#7050b0" opacity="0.55"/>
<circle cx="389.3" cy="162.0" r="0.45" fill="#7050b0" opacity="0.55"/>
<circle cx="437.5" cy="161.4" r="0.45" fill="#7050b0" opacity="0.55"/>
<circle cx="422.6" cy="183.5" r="0.45" fill="#7050b0" opacity="0.55"/>
<circle cx="424.4" cy="174.2" r="0.45" fill="#7050b0" opacity="0.55"/>
<circle cx="417.6" cy="152.8" r="0.45" fill="#7050b0" opacity="0.55"/>
<circle cx="389.8" cy="159.7" r="0.45" fill="#7050b0" opacity="0.55"/>
<circle cx="394.0" cy="154.6" r="0.45" fill="#7050b0" opacity="0.55"/>
<circle cx="392.9" cy="178.3" r="0.45" fill="#7050b0" opacity="0.55"/>
<circle cx="396.0" cy="199.3" r="0.45" fill="#7050b0" opacity="0.55"/>
<circle cx="422.1" cy="177.7" r="0.45" fill="#7050b0" opacity="0.55"/>
<circle cx="423.5" cy="163.2" r="0.45" fill="#7050b0" opacity="0.55"/>
<circle cx="435.1" cy="193.4" r="0.45" fill="#7050b0" opacity="0.55"/>
</g></g>
<clipPath id="hc12"><rect x="442.1" y="148.1" width="55" height="55"/></clipPath><g clip-path="url(#hc12)"><g filter="url(#heb)">
<rect x="441.10" y="147.10" width="57.00" height="57.00" fill="#ecdcee"/>
<path d="M447.3,149.3 L447.9,149.8 L448.7,149.9 L449.5,149.7 L451.4,148.4 L451.6,148.1 L446.9,148.1 L447.0,148.6 L447.3,149.3Z" fill="#e050a8"/>
<path d="M484.6,186.2 L483.7,186.1 L482.9,186.5 L482.5,187.2 L481.5,190.5 L481.5,191.4 L482.0,192.1 L483.0,193.0 L483.8,193.4 L484.6,193.3 L487.2,192.4 L487.8,191.9 L488.2,191.3 L488.2,190.5 L487.9,189.8 L485.3,186.7 L484.6,186.2Z" fill="#dc46a2"/>
<path d="M450.8,188.2 L451.4,188.6 L452.2,188.6 L456.3,187.9 L457.1,187.6 L457.6,186.9 L457.7,186.1 L457.3,185.3 L454.4,181.7 L453.7,181.1 L452.8,181.1 L452.0,181.6 L449.9,184.0 L449.5,184.8 L449.6,185.6 L450.4,187.6 L450.8,188.2Z" fill="#e44aa8"/>
<path d="M474.7,200.9 L475.0,200.0 L474.8,199.1 L474.4,198.5 L473.7,197.9 L472.8,197.8 L471.9,198.3 L468.9,201.4 L468.5,202.2 L468.5,203.0 L468.5,203.1 L473.1,203.1 L474.7,200.9Z" fill="#e44aa8"/>
<path d="M496.1,170.9 L495.9,170.9 L495.1,171.0 L494.5,171.5 L494.5,171.6 L494.2,172.3 L494.3,173.1 L494.7,173.7 L497.1,175.9 L497.1,171.3 L496.1,170.9Z" fill="#e652ae"/>
<path d="M443.0,200.4 L443.8,200.3 L444.4,199.9 L444.8,199.3 L445.7,195.9 L445.7,195.1 L445.4,194.4 L444.7,193.9 L442.8,193.2 L442.1,193.1 L442.1,200.3 L443.0,200.4Z" fill="#e652ae"/>
<path d="M496.5,179.9 L496.0,180.7 L496.1,181.7 L496.9,183.6 L497.1,183.9 L497.1,179.3 L496.5,179.9Z" fill="#e652ae"/>
<path d="M446.7,161.1 L445.9,161.6 L445.6,162.4 L445.3,165.3 L445.4,166.1 L445.9,166.7 L446.5,167.0 L447.3,167.2 L448.0,167.2 L448.7,166.9 L449.1,166.3 L450.2,163.6 L450.3,162.7 L449.9,161.9 L449.2,161.5 L447.6,161.0 L446.7,161.1Z" fill="#e652ae"/>
<path d="M456.4,160.9 L455.7,161.2 L455.2,161.8 L455.0,162.6 L455.3,163.4 L455.7,164.1 L456.2,164.6 L456.9,164.8 L457.5,164.8 L458.3,164.7 L459.0,164.2 L459.3,163.5 L459.2,162.7 L459.0,162.3 L458.7,161.7 L458.1,161.3 L457.2,161.0 L456.4,160.9Z" fill="#e44aa8"/>
<path d="M477.1,157.8 L476.3,157.9 L475.6,158.4 L475.3,159.1 L475.4,160.0 L477.7,165.3 L478.1,165.9 L478.8,166.2 L480.0,166.5 L480.6,166.5 L481.3,166.2 L481.6,166.0 L482.1,165.5 L482.3,164.9 L482.5,162.8 L482.4,162.0 L481.9,161.4 L477.9,158.1 L477.1,157.8Z" fill="#e050a8"/>
<path d="M495.1,198.4 L494.2,198.7 L493.6,199.4 L492.0,203.1 L497.1,203.1 L497.1,198.4 L495.1,198.4Z" fill="#e44aa8"/>
<path d="M492.4,171.7 L493.2,170.6 L493.5,169.8 L493.4,169.1 L492.8,167.5 L492.3,166.8 L491.5,166.5 L490.6,166.6 L489.2,167.3 L488.6,167.8 L488.4,168.6 L488.4,169.3 L489.2,171.4 L489.6,172.0 L490.3,172.4 L491.0,172.4 L491.5,172.3 L492.4,171.7Z" fill="#e050a8"/>
<path d="M474.0,185.6 L473.3,185.2 L472.5,185.3 L471.7,185.7 L470.9,186.6 L470.5,187.3 L470.5,188.0 L471.1,191.0 L471.4,191.7 L472.0,192.2 L472.5,192.4 L473.2,192.5 L473.9,192.3 L474.7,191.9 L475.2,191.4 L475.5,190.8 L475.4,190.1 L474.5,186.4 L474.0,185.6Z" fill="#e050a8"/>
<path d="M485.2,195.7 L484.9,196.6 L485.1,197.5 L487.7,201.5 L488.3,202.1 L489.1,202.3 L490.0,202.0 L490.5,201.3 L491.7,198.4 L491.8,197.6 L491.5,196.8 L490.0,194.9 L489.2,194.3 L488.2,194.3 L485.9,195.2 L485.2,195.7Z" fill="#e050a8"/>
<path d="M448.8,194.4 L448.0,194.5 L447.3,194.9 L446.9,195.6 L446.0,199.1 L446.0,200.1 L446.7,200.9 L449.5,202.6 L450.3,202.9 L451.1,202.6 L451.7,202.0 L451.9,201.2 L451.8,197.3 L451.6,196.7 L451.2,196.1 L449.5,194.8 L448.8,194.4Z" fill="#e652ae"/>
<path d="M481.3,149.6 L481.8,150.3 L482.5,150.6 L483.6,150.7 L484.6,150.6 L485.3,149.9 L486.2,148.1 L480.6,148.1 L481.3,149.6Z" fill="#e652ae"/>
<path d="M444.2,168.1 L442.1,169.2 L442.1,172.1 L445.3,174.5 L445.9,174.8 L446.6,174.8 L449.7,174.2 L450.4,173.8 L450.9,173.1 L450.9,172.2 L450.8,171.8 L450.5,171.1 L448.8,169.1 L448.0,168.6 L445.4,167.9 L444.2,168.1Z" fill="#e652ae"/>
<path d="M446.4,176.4 L445.9,177.1 L444.6,180.5 L444.5,181.3 L444.6,181.6 L444.9,182.5 L445.7,183.0 L447.5,183.6 L448.4,183.6 L449.2,183.1 L452.3,179.5 L452.7,178.7 L452.9,177.0 L452.9,176.3 L452.4,175.6 L451.8,175.3 L451.0,175.3 L447.1,176.1 L446.4,176.4Z" fill="#e652ae"/>
<path d="M456.0,176.3 L455.9,176.3 L455.0,176.8 L454.6,177.7 L454.5,178.5 L454.5,179.1 L454.8,179.7 L458.7,184.6 L459.4,185.1 L460.3,185.2 L461.1,184.7 L461.5,184.0 L462.0,181.9 L462.0,181.1 L461.7,180.5 L458.7,177.0 L457.6,176.4 L456.4,176.3 L456.0,176.3Z" fill="#e44aa8"/>
<path d="M480.9,176.0 L480.1,176.2 L479.6,176.9 L477.8,180.5 L477.7,181.3 L478.0,182.2 L478.7,182.7 L479.7,183.0 L480.5,183.1 L481.3,182.7 L481.8,181.9 L482.7,178.0 L482.7,177.3 L482.4,176.6 L481.9,176.2 L481.7,176.1 L480.9,176.0Z" fill="#e44aa8"/>
<path d="M486.7,151.7 L487.1,152.6 L488.5,154.3 L489.1,154.8 L489.9,154.9 L490.6,154.7 L492.6,153.4 L493.2,152.9 L493.4,152.1 L493.5,148.1 L488.2,148.1 L486.9,150.8 L486.7,151.7Z" fill="#e652ae"/>
<path d="M450.2,192.7 L450.3,193.4 L450.8,194.0 L452.1,195.0 L453.2,195.4 L456.2,195.2 L456.9,194.9 L457.5,194.2 L457.6,193.4 L457.4,190.8 L457.0,190.0 L456.3,189.5 L455.5,189.4 L452.0,190.0 L451.3,190.3 L450.8,190.9 L450.3,192.0 L450.2,192.7Z" fill="#dc46a2"/>
<path d="M484.0,200.0 L483.3,199.4 L482.4,199.3 L481.5,199.8 L481.4,199.9 L481.0,200.6 L481.0,201.5 L481.6,203.1 L486.0,203.1 L484.0,200.0Z" fill="#dc46a2"/>
<path d="M478.8,155.6 L478.9,156.5 L479.3,157.2 L482.0,159.4 L482.7,159.7 L483.4,159.7 L484.1,159.3 L486.3,157.3 L486.8,156.7 L486.8,155.9 L486.5,155.1 L485.1,153.4 L484.1,152.9 L482.3,152.6 L481.5,152.6 L480.9,153.1 L479.2,154.9 L478.8,155.6Z" fill="#e44aa8"/>
<path d="M455.6,156.9 L455.6,157.7 L456.0,158.3 L456.6,158.7 L458.5,159.4 L459.4,159.4 L460.2,158.9 L461.6,157.2 L462.0,156.4 L461.9,155.5 L461.0,153.5 L460.6,152.9 L460.0,152.5 L459.8,152.5 L458.9,152.6 L458.1,153.1 L455.8,156.3 L455.6,156.9Z" fill="#e652ae"/>
<path d="M457.8,172.5 L458.2,173.2 L458.8,173.7 L459.6,173.8 L460.4,173.5 L462.3,171.9 L462.8,171.1 L462.8,170.1 L462.0,168.0 L461.6,167.3 L460.9,167.0 L460.1,167.0 L459.4,167.4 L459.0,168.0 L457.9,171.7 L457.8,172.5Z" fill="#e652ae"/>
<path d="M476.5,199.3 L477.2,199.6 L478.5,199.6 L479.2,199.5 L479.8,199.2 L482.2,196.7 L482.6,195.9 L482.6,195.0 L482.1,194.3 L480.2,192.7 L479.2,192.3 L477.3,192.3 L476.4,192.5 L474.7,193.4 L474.1,194.1 L473.9,195.0 L473.9,195.3 L474.2,196.0 L476.0,198.8 L476.5,199.3Z" fill="#e050a8"/>
<path d="M494.5,154.7 L493.8,155.0 L492.2,156.0 L491.6,156.6 L491.4,157.4 L491.7,158.2 L493.5,161.2 L494.1,161.8 L495.0,162.0 L497.1,161.8 L497.1,155.4 L495.1,154.8 L494.5,154.7Z" fill="#dc46a2"/>
<path d="M480.8,174.0 L481.5,174.7 L483.6,175.6 L484.3,175.8 L486.2,175.8 L487.0,175.6 L487.6,175.0 L488.1,174.2 L488.3,173.5 L488.2,172.8 L486.8,168.7 L486.4,168.2 L485.8,167.8 L483.6,166.9 L482.8,166.8 L482.0,167.1 L481.9,167.1 L481.5,167.6 L481.3,168.2 L480.6,173.0 L480.8,174.0Z" fill="#dc46a2"/>
<path d="M486.9,184.7 L486.9,185.4 L487.2,186.1 L487.5,186.4 L488.1,186.9 L489.0,186.9 L489.7,186.6 L490.2,185.9 L490.3,185.1 L490.2,184.5 L489.8,183.7 L489.0,183.3 L488.1,183.3 L487.4,183.8 L487.2,184.0 L486.9,184.7Z" fill="#e652ae"/>
<path d="M463.7,179.4 L464.7,179.3 L468.1,177.8 L468.7,177.3 L469.0,176.6 L469.3,174.9 L469.2,174.2 L468.7,173.5 L468.0,173.1 L464.9,172.5 L464.2,172.5 L463.5,172.8 L461.3,174.5 L460.8,175.2 L460.7,176.1 L461.1,176.8 L462.9,178.9 L463.7,179.4Z" fill="#e050a8"/>
<path d="M464.9,166.1 L464.2,166.5 L463.7,167.3 L463.8,168.2 L464.3,169.8 L464.8,170.4 L465.5,170.8 L467.0,171.1 L467.9,171.0 L468.6,170.5 L468.9,169.7 L468.7,168.8 L468.0,167.4 L467.1,166.7 L465.8,166.2 L464.9,166.1Z" fill="#e44aa8"/>
<path d="M459.4,194.6 L460.2,195.1 L461.1,195.1 L461.9,194.6 L463.4,192.8 L463.8,191.9 L463.6,191.0 L462.0,187.9 L461.5,187.3 L460.9,187.0 L460.1,187.1 L459.8,187.2 L459.1,187.6 L459.0,187.7 L458.7,188.3 L458.6,189.0 L459.1,193.7 L459.4,194.6Z" fill="#e652ae"/>
<path d="M495.4,152.3 L495.8,152.8 L496.4,153.2 L497.1,153.4 L497.1,148.1 L495.3,148.1 L495.2,151.6 L495.4,152.3Z" fill="#dc46a2"/>
<path d="M446.4,158.8 L446.8,159.5 L447.5,159.9 L450.8,160.8 L451.8,160.7 L452.5,160.2 L453.3,159.2 L453.6,158.4 L453.5,157.6 L452.9,156.9 L449.4,154.4 L448.7,154.1 L447.9,154.2 L447.3,154.7 L446.9,155.4 L446.3,158.0 L446.4,158.8Z" fill="#e44aa8"/>
<path d="M494.7,164.1 L494.2,164.6 L494.0,165.3 L494.1,166.1 L494.6,167.4 L495.1,168.1 L496.0,168.4 L496.8,168.2 L497.1,168.0 L497.1,163.9 L496.8,163.8 L495.4,163.9 L494.7,164.1Z" fill="#e050a8"/>
<path d="M462.6,196.2 L462.6,197.0 L463.0,197.6 L463.6,198.1 L463.8,198.1 L464.5,198.2 L465.2,197.9 L465.7,197.4 L466.2,196.5 L466.4,195.7 L466.3,195.0 L465.8,194.4 L465.0,194.1 L464.3,194.2 L463.6,194.7 L462.9,195.5 L462.6,196.2Z" fill="#e44aa8"/>
<path d="M461.9,162.5 L462.7,162.9 L463.5,162.8 L464.2,162.2 L464.6,161.7 L464.9,161.0 L464.9,160.3 L464.8,160.2 L464.4,159.4 L463.6,159.0 L462.8,159.1 L462.0,159.6 L461.6,160.1 L461.3,160.8 L461.3,161.7 L461.4,161.8 L461.9,162.5Z" fill="#dc46a2"/>
<path d="M466.9,202.6 L466.6,202.1 L465.3,200.5 L464.6,200.0 L462.5,199.3 L461.7,199.3 L461.0,199.5 L460.5,200.1 L459.0,203.1 L467.1,203.1 L466.9,202.6Z" fill="#dc46a2"/>
<path d="M443.0,166.8 L443.6,166.3 L443.9,165.6 L444.2,162.5 L444.0,161.6 L443.4,161.0 L442.6,160.7 L442.1,160.7 L442.1,167.3 L443.0,166.8Z" fill="#dc46a2"/>
<path d="M482.8,183.4 L483.4,184.2 L484.2,184.5 L484.2,184.5 L485.0,184.4 L485.6,183.9 L488.2,180.7 L488.5,179.8 L488.3,178.9 L487.7,177.7 L487.1,177.1 L486.3,176.9 L485.4,176.9 L484.7,177.1 L484.1,177.5 L483.8,178.1 L482.8,182.5 L482.8,183.4Z" fill="#dc46a2"/>
<path d="M477.4,184.1 L476.6,184.4 L476.2,185.2 L476.2,186.0 L476.9,188.8 L477.3,189.5 L478.0,189.9 L478.8,189.9 L479.5,189.5 L480.0,188.8 L480.6,186.6 L480.7,185.8 L480.3,185.1 L479.7,184.7 L478.3,184.1 L477.4,184.1Z" fill="#e44aa8"/>
<path d="M443.8,150.5 L444.3,149.9 L444.4,149.0 L444.3,148.1 L442.1,148.1 L442.1,151.0 L443.0,150.9 L443.8,150.5Z" fill="#e050a8"/>
<path d="M453.3,174.3 L453.4,174.3 L454.1,174.6 L454.8,174.5 L455.5,174.1 L455.8,173.5 L456.8,170.5 L456.8,169.6 L456.3,168.8 L455.6,168.4 L454.7,168.5 L454.0,169.0 L452.7,170.7 L452.4,171.3 L452.4,172.0 L452.7,173.3 L453.3,174.3Z" fill="#e050a8"/>
<path d="M458.7,150.1 L459.6,150.8 L459.9,150.8 L460.8,150.8 L461.5,150.3 L463.3,148.1 L457.4,148.1 L458.7,150.1Z" fill="#e652ae"/>
<path d="M442.6,178.7 L443.5,178.4 L444.0,177.7 L444.2,177.2 L444.2,176.2 L443.7,175.3 L442.1,174.2 L442.1,178.6 L442.6,178.7Z" fill="#e050a8"/>
<path d="M472.7,150.4 L472.6,151.4 L473.1,152.2 L475.3,154.1 L476.0,154.5 L476.8,154.4 L477.5,154.0 L479.5,151.9 L479.9,151.1 L479.8,150.1 L478.9,148.1 L475.5,148.1 L473.2,149.7 L472.7,150.4Z" fill="#e44aa8"/>
<path d="M489.4,158.7 L488.5,158.6 L487.6,159.0 L484.5,161.8 L484.0,162.8 L483.8,164.0 L484.1,165.0 L484.8,165.7 L486.3,166.3 L486.9,166.4 L487.6,166.2 L491.1,164.4 L491.7,163.9 L492.0,163.0 L491.7,162.2 L490.1,159.4 L489.4,158.7Z" fill="#e652ae"/>
<path d="M446.0,202.0 L445.2,202.2 L444.6,202.7 L444.4,203.1 L448.1,203.1 L446.7,202.3 L446.0,202.0Z" fill="#e44aa8"/>
<path d="M459.2,199.1 L459.4,198.3 L459.1,197.5 L458.5,196.9 L457.7,196.8 L454.7,197.0 L454.0,197.3 L453.4,197.9 L453.3,198.6 L453.4,203.1 L457.2,203.1 L459.2,199.1Z" fill="#e050a8"/>
<path d="M478.5,201.4 L477.6,201.1 L477.4,201.1 L476.6,201.2 L476.0,201.7 L475.0,203.1 L479.3,203.1 L479.0,202.2 L478.5,201.4Z" fill="#dc46a2"/>
<path d="M471.6,152.9 L470.8,152.9 L470.2,153.2 L469.7,153.7 L469.1,155.0 L468.9,155.7 L469.1,156.5 L469.6,157.0 L471.6,158.5 L472.4,158.8 L473.2,158.6 L473.6,158.5 L474.2,158.0 L474.7,157.5 L475.0,156.7 L474.9,155.9 L474.5,155.2 L472.2,153.2 L471.6,152.9Z" fill="#e050a8"/>
<path d="M490.3,179.2 L491.1,179.4 L493.4,179.5 L494.0,179.4 L494.5,179.0 L495.0,178.6 L495.4,177.8 L495.4,177.0 L495.0,176.2 L492.9,174.3 L492.2,174.0 L491.4,173.9 L490.4,174.2 L489.8,174.4 L489.4,174.9 L489.0,175.6 L488.7,176.4 L488.9,177.2 L489.7,178.6 L490.3,179.2Z" fill="#dc46a2"/>
<path d="M474.0,182.2 L474.9,182.2 L475.2,182.1 L475.7,181.8 L476.1,181.3 L478.2,177.0 L478.4,176.2 L478.2,175.5 L477.6,174.9 L476.9,174.7 L472.2,174.3 L471.5,174.4 L470.8,174.9 L470.5,175.7 L470.3,177.1 L470.3,177.8 L470.6,178.4 L473.2,181.7 L474.0,182.2Z" fill="#e44aa8"/>
<path d="M471.6,170.9 L471.6,171.9 L472.1,172.6 L473.0,172.9 L477.5,173.3 L478.3,173.1 L478.9,172.6 L479.2,171.9 L479.6,169.3 L479.5,168.5 L479.1,167.9 L478.4,167.5 L478.0,167.4 L477.3,167.4 L474.8,167.9 L474.0,168.3 L472.0,170.1 L471.6,170.9Z" fill="#e050a8"/>
<path d="M465.1,187.1 L464.4,187.6 L464.1,188.4 L464.2,189.3 L464.9,190.7 L465.4,191.2 L466.1,191.5 L467.3,191.8 L468.1,191.7 L468.8,191.3 L469.2,190.7 L469.2,189.9 L469.0,188.7 L468.5,187.8 L467.7,187.4 L466.0,187.0 L465.1,187.1Z" fill="#e050a8"/>
<path d="M493.9,181.4 L493.3,181.1 L492.5,181.1 L491.8,181.5 L491.4,182.2 L491.3,182.9 L491.5,183.8 L491.9,184.7 L492.7,185.1 L493.6,185.1 L493.8,185.0 L494.5,184.5 L494.9,183.7 L494.8,182.9 L494.4,182.1 L493.9,181.4Z" fill="#e050a8"/>
<path d="M455.7,149.0 L454.9,148.9 L454.1,149.1 L451.1,151.2 L450.5,151.7 L450.4,152.5 L450.5,153.2 L451.0,153.8 L452.9,155.1 L453.6,155.4 L454.4,155.2 L455.1,154.7 L456.8,152.3 L457.2,151.4 L456.9,150.5 L456.3,149.6 L455.7,149.0Z" fill="#e050a8"/>
<path d="M491.7,192.5 L491.5,193.4 L491.8,194.3 L493.2,196.2 L493.8,196.6 L494.5,196.8 L497.1,196.8 L497.1,189.8 L492.4,191.9 L491.7,192.5Z" fill="#e44aa8"/>
<path d="M445.3,185.1 L444.7,185.3 L444.2,185.9 L444.0,186.6 L443.8,190.5 L444.1,191.5 L444.8,192.1 L446.1,192.5 L446.9,192.6 L447.6,192.3 L448.1,191.7 L448.9,189.9 L449.1,189.3 L449.0,188.7 L448.0,186.3 L447.6,185.8 L447.0,185.4 L446.1,185.1 L445.3,185.1Z" fill="#e44aa8"/>
<path d="M456.1,168.1 L462.1,172.1 L468.1,171.1 L472.1,176.1" fill="none" stroke="#ecdcee" stroke-width="2.2" stroke-linecap="round" stroke-linejoin="round"/>
<path d="M472.1,188.1 L476.1,193.1 L478.1,203.1" fill="none" stroke="#ecdcee" stroke-width="1.8" stroke-linecap="round" stroke-linejoin="round"/>
<path d="M444.1,192.1 L450.1,188.1 L454.1,190.1" fill="none" stroke="#ecdcee" stroke-width="1.6" stroke-linecap="round" stroke-linejoin="round"/>
<circle cx="457.4" cy="154.8" r="0.45" fill="#6a4aa8" opacity="0.6"/>
<circle cx="486.1" cy="162.1" r="0.45" fill="#6a4aa8" opacity="0.6"/>
<circle cx="476.7" cy="168.2" r="0.45" fill="#6a4aa8" opacity="0.6"/>
<circle cx="443.4" cy="162.2" r="0.45" fill="#6a4aa8" opacity="0.6"/>
<circle cx="487.1" cy="170.9" r="0.45" fill="#6a4aa8" opacity="0.6"/>
<circle cx="447.9" cy="200.8" r="0.45" fill="#6a4aa8" opacity="0.6"/>
<circle cx="477.7" cy="183.9" r="0.45" fill="#6a4aa8" opacity="0.6"/>
<circle cx="492.3" cy="198.6" r="0.45" fill="#6a4aa8" opacity="0.6"/>
<circle cx="489.6" cy="170.4" r="0.45" fill="#6a4aa8" opacity="0.6"/>
<circle cx="457.9" cy="174.6" r="0.45" fill="#6a4aa8" opacity="0.6"/>
<circle cx="483.2" cy="176.1" r="0.45" fill="#6a4aa8" opacity="0.6"/>
<circle cx="463.0" cy="180.8" r="0.45" fill="#6a4aa8" opacity="0.6"/>
<circle cx="477.1" cy="201.0" r="0.45" fill="#6a4aa8" opacity="0.6"/>
<circle cx="476.0" cy="170.0" r="0.45" fill="#6a4aa8" opacity="0.6"/>
<circle cx="492.6" cy="187.9" r="0.45" fill="#6a4aa8" opacity="0.6"/>
<circle cx="465.9" cy="173.5" r="0.45" fill="#6a4aa8" opacity="0.6"/>
<circle cx="496.0" cy="200.2" r="0.45" fill="#6a4aa8" opacity="0.6"/>
<circle cx="443.4" cy="193.9" r="0.45" fill="#6a4aa8" opacity="0.6"/>
<circle cx="462.3" cy="170.2" r="0.45" fill="#6a4aa8" opacity="0.6"/>
<circle cx="458.7" cy="181.7" r="0.45" fill="#6a4aa8" opacity="0.6"/>
<circle cx="452.5" cy="160.1" r="0.45" fill="#6a4aa8" opacity="0.6"/>
<circle cx="454.6" cy="178.9" r="0.45" fill="#6a4aa8" opacity="0.6"/>
<circle cx="448.6" cy="165.6" r="0.45" fill="#6a4aa8" opacity="0.6"/>
<circle cx="485.9" cy="174.9" r="0.45" fill="#6a4aa8" opacity="0.6"/>
<circle cx="493.8" cy="187.0" r="0.45" fill="#6a4aa8" opacity="0.6"/>
<circle cx="449.2" cy="172.8" r="0.45" fill="#6a4aa8" opacity="0.6"/>
<circle cx="471.0" cy="196.6" r="0.45" fill="#6a4aa8" opacity="0.6"/>
<circle cx="491.9" cy="151.9" r="0.45" fill="#6a4aa8" opacity="0.6"/>
<circle cx="491.3" cy="185.6" r="0.45" fill="#6a4aa8" opacity="0.6"/>
<circle cx="473.5" cy="197.8" r="0.45" fill="#6a4aa8" opacity="0.6"/>
<circle cx="464.6" cy="184.7" r="0.45" fill="#6a4aa8" opacity="0.6"/>
<circle cx="486.9" cy="192.3" r="0.45" fill="#6a4aa8" opacity="0.6"/>
<circle cx="472.8" cy="178.8" r="0.45" fill="#6a4aa8" opacity="0.6"/>
<circle cx="488.6" cy="160.0" r="0.45" fill="#6a4aa8" opacity="0.6"/>
<circle cx="481.0" cy="192.3" r="0.45" fill="#6a4aa8" opacity="0.6"/>
</g></g>
<clipPath id="hc13"><rect x="499.1" y="148.1" width="54.5" height="55"/></clipPath><g clip-path="url(#hc13)"><g filter="url(#heb)">
<rect x="498.10" y="147.10" width="56.50" height="57.00" fill="#ecd6ee"/>
<path d="M545.3,192.2 L545.6,191.9 L547.0,189.6 L547.1,189.3 L547.0,188.9 L546.8,188.6 L545.7,187.6 L545.4,187.4 L545.0,187.4 L543.2,187.8 L542.9,188.0 L542.7,188.3 L542.6,188.7 L542.9,191.5 L543.0,191.8 L543.3,192.0 L543.6,192.2 L544.9,192.3 L545.3,192.2Z" fill="#d23f9c"/>
<path d="M510.4,155.6 L509.9,155.5 L509.5,155.6 L509.2,156.0 L508.9,156.7 L508.8,157.1 L509.0,157.6 L509.4,157.8 L510.2,158.0 L510.6,158.0 L511.0,157.8 L511.2,157.4 L511.1,156.9 L510.6,156.0 L510.4,155.6Z" fill="#d23f9c"/>
<path d="M549.0,158.0 L549.1,157.5 L548.5,154.2 L548.3,153.8 L547.9,153.6 L546.6,153.2 L546.1,153.2 L545.7,153.5 L544.0,156.0 L543.8,156.3 L543.9,156.7 L544.0,157.0 L546.0,159.0 L546.4,159.3 L546.9,159.2 L548.6,158.4 L549.0,158.0Z" fill="#de4caa"/>
<path d="M551.0,158.2 L550.8,158.5 L550.8,158.9 L551.0,159.2 L552.4,160.6 L552.7,160.8 L553.1,160.8 L553.5,160.6 L553.6,160.5 L553.6,157.2 L553.3,157.1 L552.9,157.1 L551.2,157.9 L551.0,158.2Z" fill="#de4caa"/>
<path d="M553.5,161.7 L553.3,162.0 L553.3,162.3 L553.3,163.2 L553.5,163.7 L553.6,163.7 L553.6,161.6 L553.5,161.7Z" fill="#d23f9c"/>
<path d="M522.1,152.0 L522.5,152.1 L524.8,151.8 L525.2,151.6 L525.4,151.3 L525.5,150.9 L525.4,148.1 L520.2,148.1 L520.7,150.4 L520.9,150.8 L521.8,151.8 L522.1,152.0Z" fill="#d8439f"/>
<path d="M537.0,162.0 L537.0,161.7 L536.9,161.3 L534.5,158.2 L534.1,158.0 L533.6,158.0 L530.7,158.9 L530.4,159.1 L530.2,159.4 L530.2,159.8 L530.5,163.1 L530.7,163.5 L531.1,163.8 L534.4,164.5 L534.8,164.5 L535.1,164.3 L536.8,162.4 L537.0,162.0Z" fill="#d8439f"/>
<path d="M545.7,182.5 L545.5,182.2 L544.3,181.0 L544.0,180.8 L543.6,180.8 L543.2,181.0 L539.8,184.0 L539.6,184.4 L539.6,184.9 L540.0,185.7 L540.4,186.2 L541.7,186.8 L542.2,186.9 L544.6,186.3 L545.0,186.1 L545.2,185.7 L545.7,182.9 L545.7,182.5Z" fill="#de4caa"/>
<path d="M531.3,189.0 L530.9,189.2 L528.3,191.3 L528.1,191.7 L528.1,192.2 L528.9,195.2 L529.0,195.5 L529.3,195.8 L530.5,196.2 L530.8,196.3 L531.1,196.2 L532.7,195.5 L533.1,195.0 L534.4,191.7 L534.5,191.4 L534.4,191.0 L534.1,190.8 L531.8,189.2 L531.3,189.0Z" fill="#d23f9c"/>
<path d="M538.8,161.4 L538.9,161.9 L539.3,162.2 L542.3,163.7 L542.6,163.8 L543.0,163.7 L544.8,162.9 L545.1,162.7 L545.3,162.4 L545.7,160.5 L545.7,160.1 L545.5,159.8 L543.2,157.3 L542.8,157.1 L542.4,157.1 L542.0,157.4 L539.0,161.0 L538.8,161.4Z" fill="#dc47a6"/>
<path d="M513.7,202.9 L513.9,203.1 L518.5,203.1 L519.6,200.5 L519.6,200.1 L519.5,199.7 L519.1,199.5 L516.2,198.5 L515.7,198.6 L515.3,198.9 L513.5,201.5 L513.4,201.8 L513.4,202.1 L513.5,202.5 L513.7,202.9Z" fill="#de4caa"/>
<path d="M499.3,177.2 L499.8,176.9 L500.3,176.3 L500.5,175.9 L500.4,175.4 L499.1,173.1 L499.1,177.1 L499.3,177.2Z" fill="#d8439f"/>
<path d="M549.6,167.5 L549.6,167.0 L549.3,166.6 L545.9,163.8 L545.5,163.6 L545.1,163.6 L543.3,164.4 L543.0,164.7 L542.8,165.0 L541.9,171.0 L541.9,171.3 L542.1,171.6 L542.5,172.1 L542.8,172.4 L543.3,172.4 L543.6,172.3 L549.3,167.9 L549.6,167.5Z" fill="#d23f9c"/>
<path d="M536.3,191.7 L536.0,191.7 L535.6,191.9 L535.4,192.2 L534.4,194.8 L534.3,195.2 L534.5,195.6 L534.8,195.8 L536.9,196.8 L537.3,196.9 L537.7,196.7 L539.4,195.6 L539.6,195.3 L539.7,195.0 L539.8,194.8 L539.7,194.4 L539.5,194.1 L536.7,191.9 L536.3,191.7Z" fill="#de4caa"/>
<path d="M508.9,196.0 L509.2,196.3 L509.7,196.4 L513.5,196.1 L513.9,196.0 L514.1,195.7 L514.3,195.4 L514.4,194.4 L514.3,193.9 L513.9,193.5 L510.2,192.0 L509.9,191.9 L509.5,192.0 L509.2,192.2 L508.9,192.5 L508.8,192.9 L508.8,195.6 L508.9,196.0Z" fill="#d23f9c"/>
<path d="M514.6,151.0 L514.9,151.2 L515.3,151.3 L519.2,150.6 L519.6,150.5 L519.9,150.1 L519.9,149.7 L519.6,148.4 L519.5,148.1 L516.2,148.1 L514.8,148.3 L514.4,148.4 L514.1,148.8 L514.1,149.3 L514.4,150.7 L514.6,151.0Z" fill="#de4caa"/>
<path d="M499.6,152.5 L499.3,152.3 L499.1,152.3 L499.1,155.6 L500.1,154.2 L500.2,153.8 L500.1,153.4 L499.8,152.7 L499.6,152.5Z" fill="#d8439f"/>
<path d="M518.5,191.0 L518.2,191.1 L515.6,193.5 L515.4,194.0 L515.1,196.0 L515.2,196.5 L515.6,197.3 L516.1,197.7 L519.8,198.9 L520.2,198.9 L520.6,198.7 L520.8,198.4 L520.9,198.0 L520.0,191.7 L519.9,191.4 L519.7,191.1 L519.3,191.0 L518.8,190.9 L518.5,191.0Z" fill="#d8439f"/>
<path d="M552.9,181.4 L553.2,181.7 L553.5,181.8 L553.6,181.8 L553.6,174.0 L552.0,175.8 L551.8,176.1 L551.8,176.5 L552.8,181.1 L552.9,181.4Z" fill="#de4caa"/>
<path d="M506.4,170.4 L506.7,170.8 L507.1,170.9 L512.2,171.6 L512.7,171.5 L513.0,171.3 L513.1,170.9 L513.3,168.1 L513.2,167.7 L512.9,167.4 L509.5,165.5 L509.0,165.4 L508.6,165.7 L506.9,167.3 L506.6,167.8 L506.4,170.0 L506.4,170.4Z" fill="#de4caa"/>
<path d="M514.7,152.8 L514.3,152.7 L513.9,152.9 L513.7,153.3 L513.6,153.7 L514.0,155.9 L514.3,156.3 L514.7,156.5 L516.0,156.7 L516.5,156.7 L516.8,156.4 L516.9,155.9 L516.8,155.5 L515.1,153.1 L514.7,152.8Z" fill="#d23f9c"/>
<path d="M551.9,149.5 L552.2,149.9 L552.6,150.0 L553.1,149.9 L553.6,149.5 L553.6,148.1 L551.2,148.1 L551.9,149.5Z" fill="#dc47a6"/>
<path d="M500.1,193.1 L500.5,193.0 L500.8,192.8 L501.2,192.2 L501.3,191.9 L501.3,191.5 L500.4,188.1 L500.2,187.8 L499.9,187.6 L499.1,187.3 L499.1,193.1 L500.1,193.1Z" fill="#d8439f"/>
<path d="M537.4,202.4 L537.1,202.2 L536.8,202.2 L533.0,202.7 L532.7,202.9 L532.4,203.1 L538.3,203.1 L537.4,202.4Z" fill="#d23f9c"/>
<path d="M548.7,197.4 L549.1,197.5 L549.5,197.3 L549.8,197.0 L552.2,191.7 L552.3,191.2 L552.1,190.8 L550.8,189.6 L550.6,189.4 L550.2,189.3 L548.7,189.3 L548.3,189.4 L548.0,189.7 L546.3,192.6 L546.2,193.0 L546.3,193.4 L548.4,197.1 L548.7,197.4Z" fill="#dc47a6"/>
<path d="M499.8,170.4 L499.7,170.0 L499.1,167.8 L499.1,171.4 L499.6,170.7 L499.8,170.4Z" fill="#d8439f"/>
<path d="M541.5,187.8 L541.2,187.5 L540.3,187.1 L539.9,187.0 L539.6,187.1 L539.3,187.3 L537.1,190.1 L536.9,190.5 L537.0,190.9 L537.2,191.2 L539.9,193.3 L540.4,193.5 L540.9,193.4 L541.7,192.7 L542.0,192.4 L542.0,192.0 L541.6,188.2 L541.5,187.8Z" fill="#de4caa"/>
<path d="M541.5,149.1 L541.7,149.5 L542.1,149.7 L544.2,150.3 L544.6,150.3 L544.9,150.1 L545.2,149.8 L545.8,148.6 L545.8,148.2 L545.8,148.1 L541.7,148.1 L541.5,148.7 L541.5,149.1Z" fill="#d8439f"/>
<path d="M500.0,181.6 L499.6,181.9 L499.4,182.3 L499.1,184.6 L499.1,186.3 L499.1,186.3 L499.4,186.5 L500.2,186.8 L500.6,186.9 L500.9,186.7 L502.9,185.3 L503.1,185.0 L503.2,184.6 L503.1,184.3 L502.2,182.4 L501.9,182.1 L501.6,182.0 L500.4,181.6 L500.0,181.6Z" fill="#d23f9c"/>
<path d="M535.5,190.3 L535.9,190.2 L536.2,190.0 L538.8,186.7 L538.9,186.3 L538.9,185.9 L538.5,184.9 L538.1,184.4 L535.3,183.0 L534.8,182.9 L534.4,183.1 L532.1,185.0 L531.9,185.2 L531.9,185.6 L531.8,187.4 L531.9,187.8 L532.2,188.1 L535.1,190.1 L535.5,190.3Z" fill="#d23f9c"/>
<path d="M526.4,151.4 L526.7,151.6 L527.0,151.8 L527.4,151.7 L530.2,150.7 L530.6,150.3 L530.7,149.8 L530.6,148.1 L526.2,148.1 L526.3,151.0 L526.4,151.4Z" fill="#de4caa"/>
<path d="M527.1,168.5 L526.6,168.3 L522.1,168.5 L521.7,168.7 L521.4,169.2 L520.7,172.0 L520.7,172.3 L520.9,172.7 L521.2,172.9 L524.6,174.5 L525.0,174.6 L525.4,174.5 L525.7,174.2 L527.7,170.2 L527.8,169.9 L527.7,169.6 L527.4,168.8 L527.1,168.5Z" fill="#de4caa"/>
<path d="M553.3,153.7 L553.2,153.4 L552.4,152.4 L552.1,152.2 L551.7,152.1 L551.4,152.3 L549.7,153.4 L549.4,153.7 L549.3,154.2 L549.7,156.5 L549.9,156.9 L550.2,157.1 L550.5,157.2 L550.9,157.1 L552.6,156.2 L552.9,156.0 L553.0,155.7 L553.4,154.0 L553.3,153.7Z" fill="#dc47a6"/>
<path d="M507.7,158.4 L507.6,158.5 L507.3,158.6 L507.1,158.9 L506.7,159.6 L506.6,160.1 L506.8,160.5 L508.4,162.3 L508.7,162.5 L509.2,162.5 L509.6,162.3 L510.9,160.8 L511.1,160.5 L511.2,160.1 L511.1,159.7 L510.9,159.3 L510.5,159.0 L508.1,158.4 L507.7,158.4Z" fill="#de4caa"/>
<path d="M540.6,170.4 L541.0,170.2 L541.2,169.8 L541.9,165.3 L541.8,164.8 L541.4,164.4 L538.5,163.0 L538.0,162.9 L537.5,163.2 L535.9,165.0 L535.7,165.3 L535.7,165.7 L536.3,168.9 L536.5,169.3 L536.8,169.5 L540.2,170.5 L540.6,170.4Z" fill="#d23f9c"/>
<path d="M520.0,155.3 L520.2,155.1 L521.2,153.1 L521.3,152.6 L521.1,152.2 L520.6,151.5 L520.2,151.3 L519.8,151.3 L516.6,151.8 L516.2,151.9 L516.0,152.3 L515.9,152.6 L516.1,153.0 L517.8,155.4 L518.1,155.7 L518.6,155.7 L519.7,155.5 L520.0,155.3Z" fill="#d8439f"/>
<path d="M510.6,184.5 L510.4,184.9 L510.5,185.4 L511.2,187.1 L511.5,187.4 L512.0,187.6 L514.9,187.5 L515.4,187.4 L515.6,187.1 L515.7,186.7 L515.5,184.0 L515.4,183.5 L515.0,183.3 L514.5,183.3 L511.0,184.3 L510.6,184.5Z" fill="#d23f9c"/>
<path d="M539.8,149.0 L540.2,148.8 L540.4,148.5 L540.6,148.1 L537.6,148.1 L539.3,148.9 L539.8,149.0Z" fill="#d23f9c"/>
<path d="M550.6,176.5 L550.1,176.3 L544.9,175.7 L544.4,175.8 L544.1,176.1 L544.0,176.6 L544.3,179.2 L544.5,179.7 L546.3,181.5 L546.6,181.7 L547.0,181.7 L550.8,181.4 L551.3,181.2 L551.5,180.9 L551.5,180.4 L550.8,176.9 L550.6,176.5Z" fill="#d23f9c"/>
<path d="M511.0,153.9 L510.8,154.3 L510.9,154.8 L511.7,156.4 L512.0,156.7 L512.4,156.8 L512.8,156.7 L513.1,156.3 L513.2,155.9 L512.8,154.2 L512.7,153.8 L512.3,153.6 L511.9,153.6 L511.4,153.7 L511.0,153.9Z" fill="#de4caa"/>
<path d="M516.0,175.3 L515.8,175.6 L515.9,176.0 L517.2,179.9 L517.4,180.2 L517.8,180.4 L523.3,181.7 L523.7,181.7 L524.1,181.5 L524.3,181.2 L525.6,177.3 L525.6,176.7 L525.3,176.0 L524.9,175.6 L520.5,173.5 L520.2,173.4 L519.8,173.4 L516.3,175.0 L516.0,175.3Z" fill="#d23f9c"/>
<path d="M509.4,164.0 L509.5,164.5 L509.8,164.8 L513.3,166.7 L513.8,166.8 L514.2,166.6 L516.7,164.6 L516.9,164.3 L517.0,163.9 L516.9,163.5 L516.4,162.7 L515.9,162.4 L512.4,161.2 L512.0,161.2 L511.6,161.5 L509.6,163.6 L509.4,164.0Z" fill="#dc47a6"/>
<path d="M517.8,164.6 L517.5,164.8 L514.4,167.3 L514.2,167.5 L514.1,167.9 L513.9,171.8 L514.0,172.4 L515.1,174.0 L515.4,174.2 L515.8,174.3 L516.1,174.3 L519.5,172.7 L519.8,172.5 L520.0,172.2 L520.8,168.6 L520.7,168.0 L519.1,165.1 L518.9,164.8 L518.6,164.7 L518.1,164.6 L517.8,164.6Z" fill="#d8439f"/>
<path d="M542.5,173.2 L541.5,172.0 L541.1,171.7 L536.3,170.4 L535.9,170.4 L535.6,170.6 L534.3,171.6 L534.0,172.1 L533.5,176.5 L533.5,176.8 L533.7,177.1 L534.3,177.8 L534.7,178.0 L535.2,178.0 L542.3,175.0 L542.5,174.8 L542.7,174.5 L542.7,174.1 L542.6,173.6 L542.5,173.2Z" fill="#dc47a6"/>
<path d="M540.9,150.5 L540.6,150.7 L540.4,151.0 L540.0,152.2 L540.0,152.6 L540.5,154.3 L540.7,154.6 L542.0,155.8 L542.4,156.0 L542.8,156.0 L543.2,155.7 L545.1,152.9 L545.3,152.5 L545.2,152.1 L545.0,151.8 L544.8,151.5 L544.5,151.3 L541.3,150.5 L540.9,150.5Z" fill="#de4caa"/>
<path d="M499.6,151.1 L500.0,150.8 L501.7,148.1 L499.1,148.1 L499.1,151.1 L499.2,151.1 L499.6,151.1Z" fill="#dc47a6"/>
<path d="M537.7,201.4 L537.9,201.7 L539.7,203.1 L541.0,203.1 L541.1,203.1 L543.0,199.9 L543.1,199.6 L543.1,199.2 L542.9,198.9 L540.6,196.6 L540.3,196.4 L539.9,196.3 L539.6,196.5 L538.1,197.5 L537.8,197.8 L537.7,198.2 L537.7,201.1 L537.7,201.4Z" fill="#dc47a6"/>
<path d="M533.6,171.1 L534.0,170.9 L535.1,170.0 L535.3,169.7 L535.4,169.3 L534.8,165.9 L534.6,165.5 L534.2,165.3 L530.6,164.5 L530.2,164.5 L529.9,164.7 L528.6,165.8 L528.4,166.2 L527.9,167.7 L527.9,168.2 L528.3,169.3 L528.5,169.6 L528.9,169.7 L533.2,171.1 L533.6,171.1Z" fill="#d8439f"/>
<path d="M503.7,155.9 L503.2,156.0 L502.9,156.4 L502.9,156.9 L503.4,159.4 L503.5,159.8 L503.9,160.0 L504.3,160.0 L505.1,159.9 L505.4,159.8 L505.7,159.5 L506.3,158.4 L506.4,158.0 L506.3,157.7 L506.3,157.6 L506.0,157.3 L504.1,156.0 L503.7,155.9Z" fill="#d8439f"/>
<path d="M500.4,194.1 L500.0,193.9 L499.1,193.9 L499.1,200.8 L500.0,200.5 L500.3,200.3 L500.5,200.0 L501.6,197.1 L501.6,196.5 L500.7,194.4 L500.4,194.1Z" fill="#dc47a6"/>
<path d="M514.8,198.0 L514.7,197.6 L514.5,197.4 L514.2,197.0 L513.8,197.0 L510.9,197.2 L510.5,197.4 L510.2,197.6 L510.1,198.0 L510.2,198.4 L511.0,200.1 L511.4,200.5 L512.2,200.9 L512.5,200.9 L512.9,200.8 L513.1,200.6 L514.6,198.4 L514.8,198.0Z" fill="#d8439f"/>
<path d="M505.6,191.5 L502.4,192.2 L501.9,192.6 L501.5,193.2 L501.3,193.6 L501.4,194.0 L502.2,196.0 L502.5,196.3 L502.8,196.4 L506.6,196.9 L507.1,196.8 L507.6,196.6 L507.9,196.3 L508.0,195.9 L508.0,193.0 L507.8,192.5 L507.5,192.2 L506.1,191.6 L505.6,191.5Z" fill="#de4caa"/>
<path d="M553.4,190.7 L553.6,190.7 L553.6,182.9 L553.4,182.9 L553.1,183.3 L551.4,188.4 L551.4,188.8 L551.6,189.2 L552.8,190.4 L553.4,190.7Z" fill="#de4caa"/>
<path d="M534.3,152.7 L534.7,152.7 L538.7,152.1 L539.2,151.9 L539.4,151.6 L539.6,150.8 L539.6,150.5 L539.5,150.1 L539.2,149.9 L537.2,148.9 L536.7,148.8 L536.3,149.0 L533.9,151.0 L533.7,151.3 L533.6,151.7 L533.8,152.1 L533.9,152.3 L534.3,152.7Z" fill="#de4caa"/>
<path d="M508.6,197.4 L508.2,197.3 L507.8,197.4 L507.7,197.5 L507.4,197.7 L507.3,198.0 L506.8,201.2 L506.8,201.7 L507.1,202.0 L507.6,202.2 L508.0,202.0 L509.6,201.0 L509.9,200.7 L510.0,200.4 L509.9,200.0 L508.9,197.8 L508.6,197.4Z" fill="#dc47a6"/>
<path d="M533.8,178.7 L533.1,177.8 L532.8,177.6 L532.4,177.5 L527.1,177.5 L526.7,177.7 L526.4,178.1 L525.4,180.9 L525.3,181.3 L525.5,181.6 L525.8,181.9 L530.8,184.2 L531.3,184.2 L531.7,184.0 L533.9,182.1 L534.1,181.8 L534.2,181.5 L534.0,179.2 L533.8,178.7Z" fill="#dc47a6"/>
<path d="M531.8,201.9 L530.6,197.6 L530.4,197.2 L530.1,197.0 L529.0,196.6 L528.6,196.5 L528.2,196.7 L524.7,199.2 L524.5,199.5 L524.4,199.9 L524.5,200.2 L525.9,203.1 L531.4,203.1 L531.7,202.5 L531.8,201.9Z" fill="#d23f9c"/>
<path d="M505.6,177.9 L505.6,177.6 L505.5,177.3 L505.2,176.8 L505.0,176.5 L504.6,176.3 L501.8,176.3 L501.5,176.3 L501.2,176.5 L500.0,177.9 L499.7,178.4 L499.6,180.0 L499.7,180.4 L499.9,180.7 L500.2,180.9 L501.7,181.3 L502.1,181.3 L502.5,181.1 L505.4,178.2 L505.6,177.9Z" fill="#d8439f"/>
<path d="M523.6,200.3 L523.4,200.0 L523.1,199.8 L521.8,199.6 L521.3,199.6 L521.0,199.7 L520.6,200.2 L519.3,203.1 L525.0,203.1 L523.6,200.3Z" fill="#d8439f"/>
<path d="M502.1,153.8 L502.4,153.7 L506.6,152.0 L506.9,151.7 L507.1,151.2 L507.1,150.9 L507.0,150.5 L506.8,150.3 L504.0,148.1 L503.1,148.1 L502.8,148.3 L500.7,151.5 L500.6,151.9 L500.7,152.3 L501.2,153.3 L501.6,153.6 L501.8,153.7 L502.1,153.8Z" fill="#dc47a6"/>
<path d="M509.1,184.8 L508.7,184.6 L508.3,184.7 L506.7,185.4 L506.4,185.7 L506.3,186.1 L506.2,190.3 L506.4,190.8 L506.7,191.1 L508.0,191.6 L508.4,191.7 L508.7,191.6 L509.3,191.2 L509.7,190.8 L510.6,188.5 L510.7,188.2 L510.6,187.8 L509.3,185.1 L509.1,184.8Z" fill="#d8439f"/>
<path d="M527.3,166.0 L527.0,165.7 L523.0,162.8 L522.7,162.6 L522.3,162.6 L522.0,162.8 L520.4,164.1 L520.2,164.4 L520.1,164.8 L520.2,165.1 L521.4,167.2 L521.7,167.5 L522.1,167.6 L526.5,167.4 L526.9,167.2 L527.2,166.8 L527.3,166.5 L527.3,166.0Z" fill="#de4caa"/>
<path d="M537.6,160.3 L538.0,160.3 L538.4,160.0 L540.8,157.2 L541.0,156.8 L540.9,156.4 L540.7,156.1 L540.4,155.8 L540.0,155.6 L539.6,155.6 L536.2,157.1 L535.8,157.4 L535.7,157.8 L535.9,158.3 L537.2,160.0 L537.6,160.3Z" fill="#d8439f"/>
<path d="M553.2,151.1 L553.1,151.5 L553.3,152.0 L553.6,152.4 L553.6,150.7 L553.5,150.8 L553.2,151.1Z" fill="#d8439f"/>
<path d="M548.6,188.4 L549.8,188.4 L550.2,188.3 L550.5,187.9 L552.0,183.5 L552.1,183.1 L551.9,182.7 L551.6,182.5 L551.2,182.4 L547.5,182.8 L547.0,183.0 L546.8,183.4 L546.3,186.1 L546.3,186.5 L546.5,186.8 L548.0,188.2 L548.6,188.4Z" fill="#de4caa"/>
<path d="M523.5,160.7 L523.4,161.1 L523.4,161.5 L523.7,161.8 L527.6,164.6 L527.9,164.8 L528.3,164.8 L528.6,164.6 L529.2,164.1 L529.4,163.8 L529.5,163.4 L529.1,159.6 L528.9,159.2 L528.7,159.0 L528.4,158.8 L528.1,158.7 L527.7,158.8 L523.9,160.4 L523.5,160.7Z" fill="#de4caa"/>
<path d="M507.5,179.1 L507.2,178.9 L506.8,178.7 L506.3,178.6 L505.9,178.8 L503.2,181.4 L503.0,181.9 L503.1,182.3 L504.0,184.2 L504.2,184.5 L504.5,184.7 L505.6,184.9 L506.1,184.8 L507.9,184.0 L508.2,183.8 L508.3,183.5 L508.4,183.1 L507.6,179.5 L507.5,179.1Z" fill="#d23f9c"/>
<path d="M550.5,199.2 L550.1,199.5 L550.0,199.9 L549.9,203.1 L553.6,203.1 L553.6,199.5 L550.9,199.1 L550.5,199.2Z" fill="#de4caa"/>
<path d="M517.3,157.9 L517.0,161.8 L517.1,162.3 L517.8,163.4 L518.1,163.6 L518.4,163.7 L518.6,163.8 L519.0,163.8 L519.3,163.6 L521.8,161.5 L522.1,161.1 L522.3,160.6 L522.3,160.2 L522.2,159.9 L520.4,156.9 L520.0,156.5 L519.5,156.5 L518.4,156.7 L518.0,156.9 L517.5,157.4 L517.3,157.9Z" fill="#dc47a6"/>
<path d="M512.8,148.2 L512.7,148.1 L511.3,148.1 L508.4,150.3 L508.2,150.6 L508.1,151.0 L508.1,151.1 L508.2,151.5 L508.4,151.7 L509.8,152.7 L510.1,152.9 L510.4,152.9 L512.5,152.4 L512.9,152.2 L513.4,151.7 L513.6,151.4 L513.6,151.0 L513.0,148.6 L512.8,148.2Z" fill="#de4caa"/>
<path d="M543.7,174.5 L544.2,174.7 L550.6,175.4 L550.9,175.4 L551.3,175.2 L553.2,173.1 L553.3,172.7 L553.3,172.4 L553.2,172.0 L550.5,168.8 L550.1,168.6 L549.7,168.6 L549.4,168.7 L543.8,173.1 L543.5,173.4 L543.5,173.8 L543.5,174.0 L543.7,174.5Z" fill="#d23f9c"/>
<path d="M504.0,185.5 L503.7,185.6 L501.5,187.3 L501.3,187.6 L501.2,188.1 L502.0,190.7 L502.2,191.1 L502.5,191.3 L502.9,191.3 L504.9,190.9 L505.2,190.7 L505.4,190.4 L505.5,190.1 L505.5,186.4 L505.4,186.0 L505.2,185.8 L504.9,185.6 L504.3,185.5 L504.0,185.5Z" fill="#dc47a6"/>
<path d="M512.5,202.8 L512.6,202.4 L512.4,202.0 L512.1,201.7 L511.2,201.4 L510.8,201.3 L510.4,201.4 L507.8,203.1 L512.2,203.1 L512.5,202.8Z" fill="#d8439f"/>
<path d="M531.0,151.3 L528.0,152.4 L527.7,152.6 L527.5,153.0 L527.5,153.4 L528.4,157.4 L528.6,157.7 L528.8,157.9 L529.3,158.2 L529.6,158.3 L530.0,158.3 L533.3,157.1 L533.6,157.0 L533.8,156.7 L533.8,156.3 L533.6,153.5 L533.5,153.2 L532.8,152.0 L532.4,151.6 L531.5,151.3 L531.0,151.3Z" fill="#de4caa"/>
<path d="M526.1,175.4 L526.2,175.7 L526.3,176.0 L526.6,176.4 L527.1,176.5 L531.9,176.5 L532.3,176.4 L532.5,176.1 L532.7,175.8 L533.1,172.6 L533.0,172.2 L532.8,171.9 L532.5,171.7 L529.1,170.7 L528.8,170.7 L528.4,170.8 L528.2,171.1 L526.2,175.0 L526.1,175.4Z" fill="#dc47a6"/>
<path d="M552.3,161.8 L549.9,159.3 L549.4,159.1 L548.9,159.1 L547.0,160.1 L546.8,160.3 L546.6,160.6 L546.2,162.4 L546.2,162.9 L546.4,163.2 L549.5,165.8 L549.8,165.9 L550.2,165.9 L550.5,165.7 L552.3,164.2 L552.5,163.9 L552.6,163.6 L552.5,162.3 L552.3,161.8Z" fill="#de4caa"/>
<path d="M526.5,152.7 L526.2,152.5 L526.1,152.5 L525.6,152.4 L522.6,152.8 L522.2,153.0 L522.0,153.3 L521.0,155.3 L520.9,155.7 L521.0,156.1 L522.8,159.1 L523.0,159.3 L523.4,159.4 L523.8,159.4 L527.1,158.0 L527.4,157.8 L527.5,157.5 L527.5,157.1 L526.6,153.1 L526.5,152.7Z" fill="#dc47a6"/>
<path d="M503.7,161.0 L503.5,161.3 L502.6,163.7 L502.6,164.0 L502.7,164.4 L502.9,164.6 L505.6,166.4 L506.0,166.6 L506.3,166.5 L506.6,166.3 L508.2,164.8 L508.4,164.5 L508.4,164.0 L508.3,163.7 L505.8,160.9 L505.5,160.7 L505.1,160.7 L504.1,160.8 L503.7,161.0Z" fill="#d8439f"/>
<path d="M541.0,194.4 L540.9,194.7 L540.8,195.1 L540.8,195.5 L541.0,195.8 L543.6,198.4 L543.9,198.6 L544.3,198.6 L546.7,198.0 L547.1,197.8 L547.3,197.3 L547.2,196.8 L545.6,193.9 L545.3,193.6 L545.0,193.5 L542.9,193.2 L542.3,193.4 L541.2,194.2 L541.0,194.4Z" fill="#d23f9c"/>
<path d="M507.0,149.2 L507.3,149.3 L507.7,149.3 L508.0,149.2 L509.4,148.1 L505.7,148.1 L507.0,149.2Z" fill="#d23f9c"/>
<path d="M504.8,202.9 L505.2,202.8 L505.5,202.6 L505.7,202.2 L506.3,198.6 L506.2,198.2 L506.0,197.8 L505.6,197.7 L503.0,197.3 L502.7,197.4 L502.4,197.5 L502.2,197.8 L501.4,199.9 L501.4,200.2 L501.5,200.5 L501.7,200.8 L504.5,202.7 L504.8,202.9Z" fill="#d23f9c"/>
<path d="M522.6,190.0 L522.2,190.1 L521.3,190.6 L520.9,190.9 L520.9,191.4 L521.7,198.1 L521.9,198.6 L522.4,198.8 L523.3,199.0 L523.7,199.0 L524.0,198.9 L527.6,196.2 L527.9,195.8 L527.9,195.4 L527.1,192.1 L526.9,191.8 L526.6,191.6 L522.9,190.1 L522.6,190.0Z" fill="#dc47a6"/>
<path d="M517.1,188.1 L518.4,189.6 L518.9,189.9 L520.0,190.0 L520.5,190.0 L521.7,189.3 L522.0,189.1 L522.1,188.8 L523.1,183.4 L523.0,183.0 L522.8,182.7 L522.5,182.5 L517.8,181.4 L517.3,181.5 L517.0,181.8 L516.7,182.2 L516.6,182.7 L516.9,187.6 L517.1,188.1Z" fill="#d8439f"/>
<path d="M553.2,164.6 L552.8,164.7 L550.6,166.7 L550.4,167.0 L550.4,167.3 L550.4,167.3 L550.5,167.8 L553.6,171.4 L553.6,164.6 L553.5,164.5 L553.2,164.6Z" fill="#dc47a6"/>
<path d="M506.4,153.8 L506.1,153.5 L505.8,153.3 L505.3,153.4 L504.3,153.8 L504.0,154.1 L503.8,154.5 L503.9,154.9 L504.2,155.2 L505.1,155.8 L505.4,155.9 L505.8,155.9 L506.2,155.6 L506.3,155.2 L506.4,154.2 L506.4,153.8Z" fill="#dc47a6"/>
<path d="M548.9,199.3 L548.7,199.0 L548.4,198.8 L548.0,198.8 L544.4,199.7 L543.9,200.1 L542.1,203.1 L548.8,203.1 L549.0,199.6 L548.9,199.3Z" fill="#d23f9c"/>
<path d="M535.9,148.1 L531.5,148.1 L531.7,149.9 L531.8,150.3 L532.2,150.6 L532.4,150.7 L532.8,150.7 L533.2,150.5 L535.7,148.3 L535.9,148.1Z" fill="#d8439f"/>
<path d="M505.6,171.5 L505.3,171.1 L504.8,171.0 L500.9,171.0 L500.6,171.1 L500.3,171.3 L500.0,171.7 L499.9,172.1 L500.0,172.6 L501.4,175.0 L501.7,175.3 L502.1,175.4 L504.1,175.4 L504.5,175.4 L504.7,175.2 L504.9,174.8 L505.6,172.0 L505.6,171.5Z" fill="#dc47a6"/>
<path d="M499.6,165.6 L499.4,166.0 L499.4,166.4 L500.3,169.5 L500.6,170.0 L501.1,170.1 L504.9,170.1 L505.2,170.0 L505.5,169.7 L505.7,169.4 L505.8,168.0 L505.7,167.5 L505.4,167.2 L502.1,165.0 L501.8,164.9 L501.4,164.9 L499.9,165.4 L499.6,165.6Z" fill="#de4caa"/>
<path d="M500.6,201.2 L500.2,201.2 L499.1,201.6 L499.1,203.1 L503.5,203.1 L500.9,201.3 L500.6,201.2Z" fill="#d8439f"/>
<path d="M499.2,158.9 L501.5,159.5 L501.9,159.5 L502.3,159.4 L502.5,159.0 L502.5,158.6 L502.0,155.5 L501.7,155.1 L501.3,154.8 L500.9,154.9 L500.5,155.2 L499.1,157.2 L499.1,158.8 L499.2,158.9Z" fill="#de4caa"/>
<path d="M516.1,188.7 L515.8,188.6 L512.0,188.6 L511.5,188.8 L511.2,189.1 L510.8,190.4 L510.7,190.8 L510.9,191.1 L511.2,191.4 L514.4,192.7 L514.8,192.8 L515.2,192.6 L517.1,190.8 L517.3,190.5 L517.3,190.1 L517.1,189.8 L516.4,188.9 L516.1,188.7Z" fill="#de4caa"/>
<path d="M532.6,201.4 L532.9,201.6 L533.3,201.7 L536.2,201.3 L536.5,201.2 L536.8,200.9 L536.9,200.5 L536.9,198.4 L536.8,198.0 L536.4,197.7 L533.7,196.4 L533.4,196.4 L533.1,196.4 L532.0,196.9 L531.7,197.2 L531.5,197.5 L531.5,197.9 L532.4,201.1 L532.6,201.4Z" fill="#de4caa"/>
<path d="M524.7,182.4 L524.2,182.6 L524.0,183.0 L523.0,188.7 L523.0,189.1 L523.2,189.4 L523.5,189.6 L526.8,190.9 L527.2,191.0 L527.6,190.8 L530.7,188.2 L530.9,188.0 L531.0,187.6 L531.0,185.7 L530.9,185.2 L530.6,184.9 L525.1,182.4 L524.7,182.4Z" fill="#dc47a6"/>
<path d="M534.7,155.9 L534.9,156.2 L535.3,156.3 L535.6,156.3 L539.1,154.8 L539.4,154.5 L539.6,154.2 L539.6,153.8 L539.5,153.5 L539.3,153.1 L539.0,152.9 L538.6,152.9 L535.1,153.4 L534.8,153.6 L534.5,153.9 L534.4,154.3 L534.5,155.6 L534.7,155.9Z" fill="#d23f9c"/>
<path d="M550.7,197.5 L550.8,197.8 L551.0,198.1 L551.4,198.2 L553.6,198.5 L553.6,191.7 L553.3,191.8 L553.0,192.1 L550.7,197.1 L550.7,197.5Z" fill="#d23f9c"/>
<path d="M513.6,157.6 L512.6,158.3 L512.3,158.5 L512.3,158.6 L512.2,159.1 L512.3,159.8 L512.5,160.2 L512.8,160.4 L514.9,161.1 L515.4,161.1 L515.8,160.8 L515.9,160.4 L516.1,158.5 L516.0,158.2 L515.8,157.9 L515.4,157.7 L514.2,157.5 L513.6,157.6Z" fill="#d23f9c"/>
<path d="M548.6,152.9 L549.0,152.8 L551.0,151.4 L551.3,151.1 L551.4,150.8 L551.3,150.4 L550.4,148.7 L550.1,148.3 L549.6,148.2 L547.3,148.5 L546.9,148.6 L546.6,148.9 L545.8,150.8 L545.7,151.1 L545.8,151.4 L546.0,151.9 L546.2,152.2 L546.5,152.4 L548.3,152.9 L548.6,152.9Z" fill="#d8439f"/>
<path d="M509.3,183.3 L509.7,183.5 L510.1,183.5 L515.5,182.0 L515.9,181.7 L516.4,181.0 L516.5,180.6 L516.5,180.3 L515.3,176.9 L515.1,176.6 L514.7,176.4 L514.2,176.4 L508.9,178.8 L508.6,179.0 L508.5,179.3 L508.5,179.7 L509.1,182.9 L509.3,183.3Z" fill="#d23f9c"/>
<path d="M542.9,176.3 L542.7,176.0 L542.3,175.9 L542.0,176.0 L535.5,178.7 L535.1,179.0 L535.0,179.5 L535.1,181.4 L535.2,181.8 L535.5,182.1 L538.2,183.5 L538.7,183.6 L539.1,183.4 L543.1,179.8 L543.3,179.5 L543.3,179.1 L543.1,176.6 L542.9,176.3Z" fill="#dc47a6"/>
<path d="M506.7,177.6 L507.6,178.1 L507.9,178.2 L508.3,178.2 L514.2,175.6 L514.5,175.3 L514.6,174.9 L514.5,174.4 L513.5,172.9 L513.2,172.7 L512.9,172.6 L507.4,171.8 L507.0,171.9 L506.7,172.1 L506.5,172.4 L505.7,175.7 L505.8,176.3 L506.4,177.3 L506.7,177.6Z" fill="#dc47a6"/>
<path d="M502.4,161.2 L502.2,160.8 L501.8,160.5 L499.7,159.9 L499.3,159.9 L499.1,160.1 L499.1,162.3 L499.5,163.7 L499.7,164.1 L500.1,164.3 L500.5,164.3 L501.1,164.1 L501.4,163.9 L501.6,163.6 L502.4,161.6 L502.4,161.2Z" fill="#d23f9c"/>
<path d="M537.1,148.1 L536.1,160.1 L538.1,170.1 L537.1,181.1 L539.1,190.1 L541.1,203.1" fill="none" stroke="#ecd6ee" stroke-width="2.2" stroke-linecap="round" stroke-linejoin="round"/>
<path d="M537.1,176.1 L545.1,172.1 L554.1,174.1" fill="none" stroke="#ecd6ee" stroke-width="1.2" stroke-linecap="round" stroke-linejoin="round"/>
<circle cx="545.9" cy="156.1" r="0.45" fill="#6a4aa8" opacity="0.6"/>
<circle cx="523.4" cy="173.7" r="0.45" fill="#6a4aa8" opacity="0.6"/>
<circle cx="512.8" cy="202.1" r="0.45" fill="#6a4aa8" opacity="0.6"/>
<circle cx="548.0" cy="183.9" r="0.45" fill="#6a4aa8" opacity="0.6"/>
<circle cx="534.7" cy="177.8" r="0.45" fill="#6a4aa8" opacity="0.6"/>
<circle cx="513.5" cy="160.7" r="0.45" fill="#6a4aa8" opacity="0.6"/>
<circle cx="537.0" cy="152.3" r="0.45" fill="#6a4aa8" opacity="0.6"/>
<circle cx="526.9" cy="196.3" r="0.45" fill="#6a4aa8" opacity="0.6"/>
<circle cx="542.1" cy="150.0" r="0.45" fill="#6a4aa8" opacity="0.6"/>
<circle cx="511.3" cy="167.2" r="0.45" fill="#6a4aa8" opacity="0.6"/>
<circle cx="502.2" cy="179.4" r="0.45" fill="#6a4aa8" opacity="0.6"/>
<circle cx="503.3" cy="149.9" r="0.45" fill="#6a4aa8" opacity="0.6"/>
<circle cx="503.1" cy="175.9" r="0.45" fill="#6a4aa8" opacity="0.6"/>
<circle cx="524.5" cy="165.3" r="0.45" fill="#6a4aa8" opacity="0.6"/>
<circle cx="534.4" cy="151.6" r="0.45" fill="#6a4aa8" opacity="0.6"/>
<circle cx="506.5" cy="198.5" r="0.45" fill="#6a4aa8" opacity="0.6"/>
<circle cx="518.9" cy="161.1" r="0.45" fill="#6a4aa8" opacity="0.6"/>
<circle cx="511.6" cy="198.6" r="0.45" fill="#6a4aa8" opacity="0.6"/>
<circle cx="524.4" cy="178.3" r="0.45" fill="#6a4aa8" opacity="0.6"/>
<circle cx="510.5" cy="161.2" r="0.45" fill="#6a4aa8" opacity="0.6"/>
<circle cx="531.9" cy="191.1" r="0.45" fill="#6a4aa8" opacity="0.6"/>
<circle cx="527.9" cy="149.3" r="0.45" fill="#6a4aa8" opacity="0.6"/>
<circle cx="525.5" cy="170.2" r="0.45" fill="#6a4aa8" opacity="0.6"/>
<circle cx="539.7" cy="192.3" r="0.45" fill="#6a4aa8" opacity="0.6"/>
<circle cx="524.3" cy="170.8" r="0.45" fill="#6a4aa8" opacity="0.6"/>
</g></g>
<clipPath id="hc14"><rect x="556" y="148" width="54.4" height="54.5"/></clipPath><g clip-path="url(#hc14)"><g filter="url(#heb)">
<rect x="555.00" y="147.00" width="56.40" height="56.50" fill="#e8d2ea"/>
<path d="M581.7,158.6 L581.7,159.1 L582.0,160.2 L582.4,160.7 L583.5,161.4 L584.1,161.6 L584.7,161.3 L587.4,159.2 L587.7,158.7 L587.8,158.2 L587.6,157.8 L587.1,157.4 L584.5,156.4 L583.9,156.3 L583.4,156.6 L581.9,158.1 L581.7,158.6Z" fill="#d3429b"/>
<path d="M599.5,164.8 L599.2,165.1 L599.1,165.5 L599.2,166.0 L600.7,169.5 L601.1,170.0 L601.7,170.1 L602.4,170.0 L602.8,169.8 L603.2,169.5 L603.3,169.0 L603.5,165.3 L603.3,164.7 L602.9,164.3 L602.3,164.3 L599.9,164.6 L599.5,164.8Z" fill="#d8469f"/>
<path d="M607.7,151.5 L607.5,151.1 L607.1,150.6 L606.7,150.3 L606.2,150.2 L602.3,150.7 L601.8,150.9 L601.5,151.4 L600.6,153.7 L600.5,154.1 L600.7,154.6 L601.0,154.9 L603.7,156.5 L604.1,156.6 L604.5,156.6 L605.8,156.1 L606.2,155.9 L606.4,155.5 L607.7,152.0 L607.7,151.5Z" fill="#d8469f"/>
<path d="M556.3,198.0 L556.8,197.6 L556.9,197.1 L556.7,191.6 L556.5,191.0 L556.0,190.5 L556.0,198.1 L556.3,198.0Z" fill="#dc4ea8"/>
<path d="M569.7,162.2 L569.2,162.4 L568.9,162.7 L568.8,163.2 L568.8,163.4 L569.0,164.1 L570.2,165.4 L570.5,165.7 L571.0,165.8 L572.2,165.7 L572.7,165.6 L573.0,165.3 L573.2,165.0 L573.4,164.4 L573.2,163.9 L572.8,163.5 L570.2,162.3 L569.7,162.2Z" fill="#e050ae"/>
<path d="M609.3,152.3 L608.9,152.8 L607.9,155.5 L607.8,156.0 L608.0,156.4 L608.3,156.7 L610.4,158.0 L610.4,152.1 L609.9,152.1 L609.3,152.3Z" fill="#d8469f"/>
<path d="M584.3,155.0 L584.7,155.3 L587.6,156.5 L588.0,156.6 L588.5,156.4 L588.8,156.1 L590.6,153.2 L590.7,152.6 L590.5,152.1 L590.0,151.7 L586.6,150.6 L586.0,150.5 L585.6,150.8 L584.1,152.1 L583.8,152.5 L583.8,153.0 L584.1,154.6 L584.3,155.0Z" fill="#dc4ea8"/>
<path d="M569.6,160.2 L569.7,160.8 L570.1,161.2 L573.5,162.7 L574.0,162.8 L574.4,162.6 L574.8,162.2 L574.9,161.7 L574.9,161.7 L574.7,161.2 L574.4,160.9 L571.4,159.0 L570.9,158.9 L570.4,158.9 L570.0,159.3 L569.8,159.6 L569.6,160.2Z" fill="#d8469f"/>
<path d="M590.8,150.5 L591.3,150.3 L591.6,149.8 L592.2,148.0 L586.3,148.0 L586.4,148.6 L586.6,149.1 L587.0,149.3 L590.3,150.4 L590.8,150.5Z" fill="#d8469f"/>
<path d="M569.9,187.7 L569.5,187.8 L566.2,189.5 L565.9,189.8 L565.7,190.1 L565.4,191.3 L565.4,191.9 L565.5,191.9 L565.9,192.4 L568.3,193.8 L568.8,194.0 L569.3,193.9 L569.7,193.6 L572.1,190.0 L572.3,189.5 L572.2,189.0 L571.8,188.6 L570.4,187.8 L569.9,187.7Z" fill="#e050ae"/>
<path d="M603.6,199.3 L603.9,199.4 L604.5,199.4 L605.0,199.1 L608.2,195.3 L608.4,194.9 L608.4,194.4 L608.2,194.0 L606.2,192.0 L605.7,191.7 L605.1,191.7 L601.3,193.2 L600.8,193.5 L600.6,194.1 L600.8,194.6 L603.0,198.8 L603.6,199.3Z" fill="#e050ae"/>
<path d="M572.9,199.2 L572.6,199.8 L571.9,202.5 L578.3,202.5 L578.4,201.7 L578.3,201.0 L577.4,199.4 L577.0,199.0 L576.5,198.9 L573.5,199.0 L572.9,199.2Z" fill="#dc4ea8"/>
<path d="M590.8,162.1 L590.8,161.6 L590.5,161.2 L589.4,160.1 L589.0,159.8 L588.5,159.8 L588.1,160.0 L585.3,162.2 L585.0,162.7 L585.0,163.2 L585.1,163.8 L585.4,164.3 L586.0,164.5 L588.0,164.7 L588.4,164.7 L588.8,164.4 L590.5,162.6 L590.8,162.1Z" fill="#dc4ea8"/>
<path d="M597.5,186.0 L597.1,185.6 L596.9,185.5 L596.5,185.4 L596.1,185.5 L593.8,186.4 L593.4,186.7 L593.2,187.2 L593.2,187.7 L594.5,191.3 L594.7,191.7 L595.1,191.9 L596.7,192.6 L597.2,192.7 L597.7,192.5 L598.0,192.1 L598.1,191.6 L597.7,186.5 L597.5,186.0Z" fill="#d3429b"/>
<path d="M565.2,183.2 L564.7,183.5 L563.8,184.6 L563.6,185.1 L563.7,185.7 L564.8,187.4 L565.1,187.7 L565.6,187.9 L566.1,187.7 L568.4,186.5 L568.8,186.2 L568.9,185.8 L568.9,185.4 L568.7,184.4 L568.5,184.0 L568.0,183.7 L565.7,183.1 L565.2,183.2Z" fill="#e050ae"/>
<path d="M604.3,162.9 L604.6,163.3 L605.1,163.5 L607.7,163.7 L608.3,163.6 L608.7,163.2 L610.2,160.6 L610.3,160.1 L610.2,159.6 L609.9,159.2 L607.1,157.5 L606.7,157.4 L606.3,157.4 L605.2,157.8 L604.7,158.1 L604.5,158.7 L604.2,162.4 L604.3,162.9Z" fill="#e050ae"/>
<path d="M575.4,164.3 L574.9,164.7 L574.1,165.9 L574.0,166.3 L574.0,166.8 L574.9,168.9 L575.2,169.2 L575.6,169.4 L576.1,169.4 L577.6,169.0 L578.0,168.7 L578.2,168.3 L578.5,167.3 L578.4,166.5 L577.6,165.0 L577.0,164.6 L576.1,164.3 L575.4,164.3Z" fill="#d3429b"/>
<path d="M597.6,194.3 L595.2,198.6 L595.1,199.0 L595.2,199.5 L595.5,199.9 L597.7,201.4 L598.3,201.6 L598.8,201.5 L601.4,200.0 L601.7,199.7 L601.9,199.2 L601.7,198.7 L599.4,194.3 L599.1,194.0 L598.7,193.8 L598.2,193.8 L598.2,193.8 L597.6,194.3Z" fill="#e050ae"/>
<path d="M599.5,191.7 L599.8,192.1 L600.2,192.2 L600.7,192.1 L604.7,190.6 L605.2,190.2 L605.4,189.7 L605.6,187.1 L605.5,186.6 L605.2,186.2 L603.3,184.9 L602.8,184.7 L602.4,184.7 L599.6,185.7 L599.2,185.9 L599.0,186.3 L598.9,186.7 L599.3,191.3 L599.5,191.7Z" fill="#d8469f"/>
<path d="M601.4,148.5 L601.8,149.0 L602.4,149.1 L605.6,148.6 L606.2,148.4 L606.4,148.0 L601.1,148.0 L601.4,148.5Z" fill="#dc4ea8"/>
<path d="M562.9,153.2 L562.9,152.7 L562.7,152.2 L562.3,151.6 L562.0,151.3 L561.6,151.2 L559.3,151.0 L558.9,151.1 L558.5,151.3 L556.9,153.0 L556.7,153.4 L556.6,153.9 L556.8,154.3 L558.1,156.1 L558.5,156.5 L559.1,156.5 L559.6,156.3 L562.6,153.6 L562.9,153.2Z" fill="#d3429b"/>
<path d="M571.4,199.6 L571.3,199.0 L571.0,198.5 L570.5,198.1 L570.1,197.9 L569.6,198.0 L569.2,198.2 L564.8,202.5 L570.7,202.5 L571.4,199.6Z" fill="#d8469f"/>
<path d="M581.2,170.7 L581.7,170.7 L582.2,170.4 L583.4,169.0 L583.7,168.6 L583.7,168.2 L583.6,167.9 L583.4,167.5 L583.0,167.2 L582.5,167.1 L580.5,167.4 L580.0,167.6 L579.7,168.1 L579.6,168.5 L579.6,169.1 L579.8,169.5 L580.7,170.4 L581.2,170.7Z" fill="#d3429b"/>
<path d="M589.4,157.7 L589.5,158.2 L589.7,158.5 L592.1,161.0 L592.7,161.2 L593.3,161.4 L593.7,161.3 L594.4,161.2 L594.8,160.9 L595.1,160.6 L596.7,156.4 L596.7,155.9 L596.5,155.5 L596.2,155.2 L593.0,153.5 L592.5,153.4 L592.0,153.5 L591.6,153.9 L589.5,157.3 L589.4,157.7Z" fill="#d3429b"/>
<path d="M565.6,166.9 L565.5,167.4 L565.6,167.8 L565.9,168.2 L566.4,168.4 L567.4,168.5 L568.0,168.4 L568.4,168.0 L568.8,167.2 L568.9,166.6 L568.7,166.1 L568.5,165.9 L568.2,165.6 L567.7,165.5 L567.2,165.7 L565.9,166.5 L565.6,166.9Z" fill="#e050ae"/>
<path d="M594.1,167.1 L594.4,167.5 L594.9,167.6 L595.4,167.6 L595.8,167.4 L597.4,165.7 L597.7,165.1 L597.7,165.0 L597.7,164.5 L597.4,164.1 L595.8,162.9 L595.3,162.7 L594.8,162.8 L594.4,163.1 L594.2,163.6 L594.0,166.6 L594.1,167.1Z" fill="#d3429b"/>
<path d="M591.7,187.7 L591.2,187.5 L590.6,187.6 L589.7,188.2 L589.3,188.6 L589.2,189.2 L589.5,191.7 L589.8,192.2 L590.3,192.5 L590.8,192.5 L592.3,192.1 L592.8,191.8 L593.0,191.3 L593.0,190.8 L592.1,188.2 L591.7,187.7Z" fill="#e050ae"/>
<path d="M563.3,150.6 L563.5,151.1 L564.2,152.0 L564.6,152.4 L565.1,152.5 L567.2,152.3 L567.6,152.2 L567.9,152.0 L569.9,149.7 L570.1,149.2 L570.1,148.7 L569.9,148.0 L564.2,148.0 L563.4,150.2 L563.3,150.6Z" fill="#dc4ea8"/>
<path d="M570.0,195.6 L570.1,196.1 L570.4,196.5 L572.3,197.9 L572.9,198.2 L576.5,198.1 L577.0,197.9 L577.4,197.5 L578.0,196.3 L578.1,195.9 L578.0,195.5 L575.8,189.9 L575.4,189.4 L575.4,189.3 L574.9,189.2 L574.4,189.3 L574.0,189.6 L570.2,195.1 L570.0,195.6Z" fill="#d3429b"/>
<path d="M604.9,170.0 L605.2,170.4 L605.3,170.5 L605.9,170.7 L606.5,170.5 L609.4,168.6 L609.7,168.3 L609.8,167.7 L609.7,167.2 L608.5,165.6 L608.2,165.3 L607.8,165.2 L606.0,165.0 L605.5,165.1 L605.1,165.5 L604.9,166.0 L604.8,169.5 L604.9,170.0Z" fill="#e050ae"/>
<path d="M557.4,171.5 L556.9,171.6 L556.6,171.9 L556.4,172.4 L556.2,174.4 L556.3,174.9 L556.7,175.3 L557.2,175.6 L557.8,175.7 L558.3,175.5 L558.6,175.0 L559.2,173.3 L559.3,172.8 L559.1,172.4 L558.8,172.1 L557.9,171.6 L557.4,171.5Z" fill="#e050ae"/>
<path d="M592.5,151.4 L592.6,151.9 L593.0,152.2 L597.5,154.5 L597.9,154.6 L598.3,154.6 L598.5,154.5 L598.9,154.3 L599.2,153.9 L600.5,150.6 L600.5,150.2 L600.4,149.8 L599.6,148.0 L593.6,148.0 L592.5,150.9 L592.5,151.4Z" fill="#d8469f"/>
<path d="M557.3,164.8 L557.7,164.4 L557.8,163.9 L557.7,161.5 L557.6,161.0 L557.2,160.7 L556.7,160.5 L556.0,160.6 L556.0,164.8 L556.7,164.9 L557.3,164.8Z" fill="#d3429b"/>
<path d="M604.4,201.3 L604.2,201.0 L603.8,200.8 L603.3,200.7 L602.9,200.6 L602.5,200.7 L599.5,202.5 L599.5,202.5 L605.0,202.5 L604.4,201.3Z" fill="#d8469f"/>
<path d="M599.4,172.8 L599.3,173.3 L599.4,173.7 L601.3,177.1 L601.8,177.5 L602.3,177.7 L602.8,177.8 L603.2,177.6 L605.4,176.2 L605.7,175.8 L605.8,175.2 L605.4,172.7 L605.0,172.0 L604.0,171.3 L603.3,171.1 L601.1,171.4 L600.6,171.6 L599.6,172.5 L599.4,172.8Z" fill="#dc4ea8"/>
<path d="M577.7,150.2 L577.2,150.2 L575.2,150.7 L574.7,150.9 L574.4,151.3 L574.4,151.9 L575.0,154.4 L575.2,154.8 L575.6,155.1 L575.9,155.2 L576.4,155.3 L576.8,155.1 L577.2,154.7 L578.5,151.9 L578.6,151.4 L578.4,150.9 L578.2,150.6 L577.7,150.2Z" fill="#d8469f"/>
<path d="M610.0,177.4 L609.8,177.8 L609.8,178.3 L610.4,180.2 L610.4,177.1 L610.0,177.4Z" fill="#d8469f"/>
<path d="M576.0,187.8 L576.2,188.2 L576.6,188.5 L577.1,188.6 L582.5,187.8 L583.1,187.4 L583.1,187.4 L583.3,186.7 L583.1,184.0 L583.0,183.5 L582.6,183.2 L582.1,183.1 L577.9,183.1 L577.3,183.3 L576.9,183.9 L576.0,187.3 L576.0,187.8Z" fill="#dc4ea8"/>
<path d="M565.4,193.9 L564.9,194.0 L564.5,194.3 L561.4,198.1 L561.3,198.6 L561.3,199.0 L561.5,199.4 L562.8,201.0 L563.2,201.3 L563.8,201.3 L564.3,201.1 L568.4,197.0 L568.7,196.6 L568.7,196.2 L568.5,195.8 L568.2,195.4 L565.8,194.0 L565.4,193.9Z" fill="#d3429b"/>
<path d="M572.2,172.5 L572.1,173.0 L572.2,173.4 L572.5,173.8 L574.1,174.9 L574.6,175.1 L575.2,174.9 L575.6,174.5 L575.6,173.9 L575.3,172.0 L575.1,171.5 L574.7,171.2 L574.2,171.2 L573.8,171.3 L572.6,172.2 L572.2,172.5Z" fill="#d3429b"/>
<path d="M594.6,201.0 L594.1,201.2 L593.7,201.6 L593.3,202.5 L597.0,202.5 L597.0,202.5 L595.2,201.2 L594.6,201.0Z" fill="#d3429b"/>
<path d="M571.4,150.6 L570.9,150.9 L569.5,152.6 L569.2,153.2 L569.4,153.8 L570.4,155.5 L570.8,155.8 L571.2,156.0 L571.7,155.9 L573.0,155.3 L573.3,155.0 L573.5,154.6 L573.5,154.2 L572.9,151.4 L572.7,151.0 L572.3,150.7 L572.1,150.6 L571.4,150.6Z" fill="#dc4ea8"/>
<path d="M557.3,180.1 L557.6,179.7 L558.1,178.9 L558.2,178.4 L558.0,177.9 L557.7,177.5 L556.0,176.6 L556.0,180.3 L556.8,180.2 L557.3,180.1Z" fill="#d3429b"/>
<path d="M569.3,169.5 L569.5,170.0 L570.1,171.1 L570.5,171.5 L571.0,171.6 L571.5,171.5 L573.3,170.2 L573.6,169.9 L573.8,169.4 L573.7,169.0 L573.0,167.5 L572.6,167.0 L572.0,166.9 L571.1,166.9 L570.6,167.1 L570.3,167.5 L569.4,169.1 L569.3,169.5Z" fill="#d8469f"/>
<path d="M609.8,163.8 L609.6,164.4 L609.8,164.9 L610.4,165.7 L610.4,162.7 L609.8,163.8Z" fill="#d3429b"/>
<path d="M573.9,187.7 L574.5,187.5 L574.8,187.0 L575.8,183.1 L575.7,182.4 L575.1,181.2 L574.6,180.8 L574.1,180.7 L572.0,181.0 L571.6,181.1 L571.3,181.4 L570.2,183.0 L570.1,183.4 L570.1,183.8 L570.5,185.6 L570.7,186.0 L571.0,186.2 L573.3,187.6 L573.9,187.7Z" fill="#e050ae"/>
<path d="M582.8,151.1 L583.3,150.9 L584.5,149.8 L584.7,149.4 L584.8,148.9 L584.6,148.0 L579.3,148.0 L579.1,148.7 L579.1,149.1 L579.3,149.5 L579.8,150.2 L580.4,150.6 L582.3,151.1 L582.8,151.1Z" fill="#e050ae"/>
<path d="M595.8,179.1 L596.3,179.1 L599.2,178.0 L599.7,177.6 L599.9,177.1 L599.7,176.5 L598.9,175.1 L598.6,174.8 L598.2,174.6 L597.7,174.7 L597.4,174.9 L595.0,177.3 L594.7,177.8 L594.8,178.3 L595.1,178.8 L595.3,178.9 L595.8,179.1Z" fill="#d8469f"/>
<path d="M607.2,171.9 L606.8,172.4 L606.7,172.9 L607.1,175.1 L607.3,175.5 L607.7,175.8 L608.2,176.0 L608.9,176.0 L610.4,175.5 L610.4,169.9 L607.2,171.9Z" fill="#d3429b"/>
<path d="M557.3,189.1 L557.3,189.6 L557.7,190.0 L558.2,190.2 L562.9,190.7 L563.4,190.6 L563.8,190.3 L564.0,189.9 L564.0,189.7 L564.0,189.3 L563.9,188.9 L562.2,186.3 L561.9,185.9 L561.5,185.8 L560.4,185.7 L559.9,185.8 L559.5,186.1 L557.5,188.6 L557.3,189.1Z" fill="#dc4ea8"/>
<path d="M563.6,164.5 L563.8,165.0 L564.2,165.3 L564.7,165.4 L565.1,165.2 L567.0,164.0 L567.4,163.6 L567.5,163.1 L567.5,162.2 L567.3,161.6 L566.8,161.2 L565.7,160.9 L565.1,160.9 L564.7,161.1 L564.4,161.6 L563.6,164.1 L563.6,164.5Z" fill="#e050ae"/>
<path d="M559.8,157.8 L559.8,158.3 L560.1,158.8 L560.6,159.0 L562.9,159.4 L563.5,159.3 L563.9,158.9 L564.0,158.3 L563.9,156.1 L563.7,155.6 L563.3,155.2 L562.7,155.2 L562.2,155.4 L560.1,157.3 L559.8,157.8Z" fill="#d3429b"/>
<path d="M567.9,159.9 L568.4,159.6 L569.5,158.0 L569.7,157.5 L569.6,156.9 L568.0,154.3 L567.6,154.0 L567.1,153.9 L566.1,153.9 L565.6,154.1 L565.3,154.5 L565.2,155.0 L565.4,158.7 L565.6,159.2 L566.2,159.6 L567.3,159.9 L567.9,159.9Z" fill="#e050ae"/>
<path d="M563.7,171.7 L563.9,172.1 L564.3,172.9 L564.9,173.3 L567.9,174.2 L568.4,174.2 L568.8,173.9 L569.3,173.4 L569.6,172.8 L569.5,172.2 L568.5,170.5 L568.2,170.1 L567.8,170.0 L565.2,169.7 L564.6,169.8 L564.2,170.3 L563.8,171.2 L563.7,171.7Z" fill="#e050ae"/>
<path d="M560.0,199.8 L559.4,199.5 L558.0,199.2 L557.4,199.2 L556.0,199.8 L556.0,202.5 L562.2,202.5 L560.0,199.8Z" fill="#d3429b"/>
<path d="M587.0,197.0 L586.8,196.5 L586.4,196.2 L584.2,195.1 L583.5,195.0 L579.4,196.2 L579.0,196.4 L578.8,196.7 L578.2,198.0 L578.1,198.4 L578.2,198.9 L578.9,200.3 L579.3,200.6 L579.8,200.8 L584.7,200.8 L585.2,200.6 L585.6,200.2 L586.9,197.5 L587.0,197.0Z" fill="#d8469f"/>
<path d="M581.7,173.1 L581.3,173.0 L580.8,173.1 L580.5,173.5 L579.6,174.7 L579.4,175.1 L579.5,175.6 L579.8,176.0 L580.2,176.2 L581.0,176.4 L581.5,176.4 L582.0,176.0 L582.2,175.5 L582.4,174.3 L582.2,173.6 L582.1,173.5 L581.7,173.1Z" fill="#e050ae"/>
<path d="M596.0,169.5 L595.9,170.0 L596.1,170.4 L596.4,170.7 L597.7,171.4 L598.3,171.5 L598.8,171.3 L599.0,171.2 L599.3,170.6 L599.3,170.0 L598.7,168.6 L598.4,168.2 L597.9,168.0 L597.5,168.1 L597.0,168.3 L596.2,169.1 L596.0,169.5Z" fill="#dc4ea8"/>
<path d="M588.9,182.2 L588.4,182.0 L585.4,181.6 L584.9,181.7 L584.5,182.1 L584.3,182.4 L584.1,183.0 L584.4,186.1 L584.6,186.6 L585.1,187.0 L587.9,187.6 L588.7,187.4 L590.1,186.5 L590.5,186.2 L590.6,185.7 L590.5,185.3 L589.2,182.6 L588.9,182.2Z" fill="#dc4ea8"/>
<path d="M586.3,201.7 L586.6,202.5 L591.9,202.5 L592.6,200.8 L592.7,200.3 L592.5,199.8 L592.1,199.5 L588.8,198.0 L588.3,198.0 L587.8,198.1 L587.5,198.5 L586.3,200.9 L586.3,201.7Z" fill="#d3429b"/>
<path d="M558.6,197.2 L559.0,197.5 L559.4,197.7 L559.9,197.6 L560.3,197.3 L562.9,194.0 L563.1,193.5 L563.0,193.0 L562.7,192.5 L562.2,192.3 L559.4,192.1 L558.9,192.2 L558.5,192.6 L558.3,193.1 L558.5,196.7 L558.6,197.2Z" fill="#e050ae"/>
<path d="M583.7,177.2 L584.0,177.6 L584.4,177.8 L584.9,177.8 L585.3,177.5 L587.0,175.6 L587.3,175.2 L587.3,174.7 L587.1,174.3 L586.6,174.0 L586.2,173.9 L584.7,174.2 L584.1,174.5 L583.8,175.0 L583.6,176.7 L583.7,177.2Z" fill="#e050ae"/>
<path d="M559.6,176.8 L559.8,177.2 L560.1,177.5 L560.6,177.6 L561.3,177.6 L561.9,177.4 L562.2,177.0 L563.3,174.2 L563.4,173.7 L563.2,173.3 L563.0,173.0 L562.6,172.6 L562.0,172.6 L561.4,172.7 L560.9,172.9 L560.6,173.4 L559.6,176.3 L559.6,176.8Z" fill="#dc4ea8"/>
<path d="M559.3,160.1 L558.9,160.4 L558.7,161.0 L558.8,164.2 L558.9,164.7 L559.2,165.0 L559.7,165.2 L561.2,165.4 L561.6,165.4 L562.0,165.1 L562.3,164.7 L563.2,161.7 L563.3,161.1 L563.0,160.6 L562.4,160.4 L559.9,160.0 L559.3,160.1Z" fill="#e050ae"/>
<path d="M577.3,177.3 L576.8,177.5 L576.6,177.9 L576.1,179.3 L576.0,179.7 L576.2,180.1 L576.9,181.4 L577.2,181.7 L577.7,181.9 L582.6,181.8 L583.0,181.7 L583.4,181.3 L583.5,181.1 L583.7,180.4 L583.6,180.2 L583.5,179.8 L582.6,178.6 L582.0,178.2 L577.7,177.3 L577.3,177.3Z" fill="#dc4ea8"/>
<path d="M571.5,148.6 L571.7,148.9 L572.1,149.2 L573.2,149.7 L573.8,149.7 L577.0,149.0 L577.4,148.7 L577.7,148.3 L577.8,148.0 L571.4,148.0 L571.5,148.6Z" fill="#e050ae"/>
<path d="M597.2,184.2 L597.5,184.5 L597.9,184.7 L598.6,184.7 L601.6,183.7 L602.1,183.3 L602.3,182.7 L602.3,179.6 L602.1,179.1 L601.6,178.7 L601.5,178.6 L600.7,178.6 L597.1,180.0 L596.7,180.3 L596.5,180.7 L596.5,181.1 L597.0,183.8 L597.2,184.2Z" fill="#d3429b"/>
<path d="M557.3,150.9 L557.6,150.4 L557.4,149.7 L556.4,148.0 L556.0,148.0 L556.0,152.3 L557.3,150.9Z" fill="#dc4ea8"/>
<path d="M569.2,175.6 L569.2,176.5 L569.4,177.1 L571.0,179.2 L571.4,179.5 L571.9,179.5 L574.0,179.2 L574.5,179.0 L574.8,178.6 L575.0,178.1 L575.0,177.5 L574.7,176.9 L571.2,174.5 L570.7,174.3 L570.3,174.3 L569.9,174.6 L569.5,174.9 L569.2,175.6Z" fill="#d3429b"/>
<path d="M563.2,179.9 L562.5,179.3 L561.8,179.1 L560.4,179.2 L559.9,179.3 L559.5,179.7 L559.0,180.6 L558.9,181.0 L559.0,181.5 L559.8,183.4 L560.2,183.8 L560.6,184.0 L561.6,184.1 L562.0,184.0 L562.4,183.8 L563.6,182.3 L563.8,181.9 L563.8,181.5 L563.6,180.5 L563.2,179.9Z" fill="#d3429b"/>
<path d="M583.0,194.0 L583.2,193.6 L583.3,193.2 L582.8,189.8 L582.6,189.3 L582.2,189.0 L581.7,188.9 L578.0,189.5 L577.4,189.7 L577.1,190.2 L577.2,190.8 L578.6,194.5 L578.9,194.9 L579.3,195.1 L579.8,195.1 L582.6,194.3 L583.0,194.0Z" fill="#e050ae"/>
<path d="M585.7,179.3 L585.7,179.9 L586.0,180.3 L586.5,180.5 L588.6,180.8 L589.1,180.7 L589.4,180.5 L591.5,178.5 L591.7,178.1 L591.8,177.7 L591.6,177.2 L590.9,176.1 L590.5,175.7 L590.0,175.5 L589.4,175.4 L588.8,175.7 L585.9,178.8 L585.7,179.3Z" fill="#e050ae"/>
<path d="M592.1,185.1 L592.5,185.2 L593.0,185.2 L594.9,184.5 L595.2,184.2 L595.5,183.8 L595.5,183.4 L595.0,180.7 L594.6,180.1 L593.8,179.5 L593.4,179.3 L592.9,179.3 L592.5,179.6 L590.8,181.2 L590.5,181.8 L590.6,182.4 L591.7,184.7 L592.1,185.1Z" fill="#d8469f"/>
<path d="M564.9,174.5 L564.5,174.7 L564.2,175.1 L563.3,177.3 L563.3,178.0 L563.7,178.5 L563.8,178.6 L564.3,178.8 L564.9,178.7 L567.6,177.1 L567.9,176.7 L568.0,176.2 L568.0,176.1 L568.0,175.6 L567.7,175.3 L567.3,175.1 L565.4,174.5 L564.9,174.5Z" fill="#e050ae"/>
<path d="M576.1,162.8 L576.6,163.1 L577.2,163.3 L577.7,163.3 L578.1,163.1 L580.5,161.1 L580.8,160.6 L580.8,160.0 L580.6,159.4 L580.4,159.0 L580.0,158.7 L578.5,158.2 L578.1,158.2 L577.7,158.3 L577.3,158.6 L576.0,160.8 L575.9,161.4 L575.9,162.2 L576.1,162.8Z" fill="#e050ae"/>
<path d="M583.2,162.6 L582.3,162.1 L581.7,162.0 L581.2,162.2 L579.3,163.8 L579.1,164.1 L579.0,164.6 L579.1,165.0 L579.4,165.4 L579.8,165.8 L580.4,165.9 L583.1,165.6 L583.6,165.4 L583.9,164.9 L583.9,164.3 L583.6,163.2 L583.2,162.6Z" fill="#d8469f"/>
<path d="M559.0,166.1 L558.6,166.4 L558.4,166.8 L557.9,169.5 L558.0,170.1 L558.4,170.6 L560.0,171.5 L560.7,171.7 L562.1,171.4 L562.6,171.2 L562.9,170.8 L563.5,169.3 L563.5,168.6 L563.2,167.6 L562.9,167.1 L562.3,166.6 L561.8,166.4 L559.5,166.0 L559.0,166.1Z" fill="#d3429b"/>
<path d="M585.7,166.0 L585.4,166.3 L585.1,166.7 L585.1,167.1 L585.2,167.9 L585.4,168.3 L585.7,168.6 L587.4,169.5 L587.8,169.6 L588.3,169.5 L588.7,169.2 L588.9,168.8 L588.8,168.3 L588.3,166.8 L588.0,166.3 L587.5,166.1 L586.2,166.0 L585.7,166.0Z" fill="#d8469f"/>
<path d="M570.3,180.4 L570.1,179.8 L568.9,178.4 L568.6,178.1 L568.1,178.0 L567.6,178.1 L565.4,179.4 L565.0,179.9 L565.0,180.5 L565.1,181.2 L565.4,181.7 L565.9,182.0 L568.3,182.6 L568.9,182.5 L569.4,182.1 L570.1,181.0 L570.3,180.4Z" fill="#d3429b"/>
<path d="M556.1,170.5 L556.4,170.4 L556.7,170.1 L556.9,169.7 L557.4,167.1 L557.4,166.5 L557.1,166.1 L556.6,165.9 L556.0,165.8 L556.0,170.5 L556.1,170.5Z" fill="#dc4ea8"/>
<path d="M609.9,195.2 L609.5,195.5 L605.8,199.9 L605.6,200.4 L605.7,201.0 L606.4,202.5 L608.9,202.5 L610.4,201.8 L610.4,195.2 L610.3,195.2 L609.9,195.2Z" fill="#d8469f"/>
<path d="M558.6,185.2 L558.8,184.7 L558.8,184.1 L557.9,182.0 L557.5,181.6 L556.9,181.4 L556.0,181.5 L556.0,188.5 L558.6,185.2Z" fill="#d8469f"/>
<path d="M593.0,176.7 L593.6,176.7 L594.1,176.4 L596.6,174.0 L596.8,173.6 L596.9,173.1 L596.7,172.7 L596.4,172.4 L595.8,172.1 L595.4,171.9 L594.9,172.0 L594.6,172.3 L592.5,174.8 L592.2,175.4 L592.4,176.0 L592.6,176.3 L593.0,176.7Z" fill="#d3429b"/>
<path d="M585.0,202.1 L584.4,201.9 L580.4,201.9 L579.9,202.0 L579.6,202.3 L579.5,202.5 L585.3,202.5 L585.0,202.1Z" fill="#d8469f"/>
<path d="M557.1,158.9 L557.5,158.5 L557.6,158.0 L557.4,157.5 L556.0,155.6 L556.0,159.1 L556.6,159.1 L557.1,158.9Z" fill="#d3429b"/>
<path d="M584.9,169.8 L584.5,169.8 L584.1,170.1 L583.1,171.2 L582.9,171.6 L582.9,172.0 L583.0,172.4 L583.2,172.7 L583.6,173.0 L584.1,173.1 L586.7,172.7 L587.2,172.5 L587.5,172.1 L587.5,171.6 L587.4,171.1 L587.0,170.8 L585.3,169.9 L584.9,169.8Z" fill="#d3429b"/>
<path d="M577.2,173.2 L577.7,173.4 L578.3,173.4 L578.7,173.0 L579.2,172.3 L579.4,171.9 L579.4,171.4 L579.1,171.0 L578.8,170.7 L578.3,170.4 L577.8,170.4 L577.4,170.5 L577.0,170.8 L576.8,171.2 L576.7,171.7 L576.9,172.6 L577.2,173.2Z" fill="#e050ae"/>
<path d="M584.8,188.3 L584.3,188.5 L584.1,188.9 L584.0,189.4 L584.5,193.4 L584.7,193.8 L585.1,194.1 L586.4,194.8 L586.9,194.9 L587.3,194.8 L587.7,194.5 L588.2,193.8 L588.3,193.1 L587.8,189.5 L587.6,189.0 L587.1,188.7 L585.2,188.3 L584.8,188.3Z" fill="#dc4ea8"/>
<path d="M603.9,183.4 L604.2,183.7 L605.9,185.0 L606.4,185.2 L606.9,185.1 L609.1,184.1 L609.4,183.8 L609.6,183.3 L609.6,182.9 L608.0,178.0 L607.8,177.6 L607.5,177.4 L607.1,177.2 L606.6,177.2 L606.2,177.3 L604.1,178.7 L603.8,179.1 L603.7,179.5 L603.7,183.0 L603.9,183.4Z" fill="#dc4ea8"/>
<path d="M607.4,186.4 L607.0,186.7 L606.9,187.2 L606.6,190.1 L606.6,190.5 L606.9,190.9 L609.6,193.7 L610.3,194.0 L610.4,194.0 L610.4,185.0 L607.4,186.4Z" fill="#d8469f"/>
<path d="M594.2,170.8 L594.1,170.2 L593.8,169.8 L593.3,169.5 L592.7,169.4 L590.6,169.5 L590.2,169.6 L589.9,169.9 L589.1,170.9 L588.9,171.5 L588.9,172.5 L589.0,173.0 L589.4,173.7 L589.8,174.1 L590.4,174.4 L590.8,174.5 L591.2,174.4 L591.6,174.1 L594.0,171.3 L594.2,170.8Z" fill="#d3429b"/>
<path d="M572.8,157.2 L572.7,157.7 L572.8,158.3 L573.1,158.6 L574.1,159.3 L574.6,159.4 L575.1,159.3 L575.5,158.9 L576.0,158.1 L576.1,157.6 L576.0,157.0 L575.5,156.7 L575.0,156.4 L574.6,156.4 L574.2,156.4 L573.2,156.9 L572.8,157.2Z" fill="#d8469f"/>
<path d="M578.4,156.0 L578.6,156.5 L579.0,156.8 L580.1,157.2 L580.7,157.2 L581.2,157.0 L582.4,155.6 L582.7,155.2 L582.7,154.8 L582.5,153.6 L582.2,153.1 L581.8,152.8 L580.8,152.5 L580.3,152.5 L579.9,152.7 L579.6,153.0 L578.5,155.5 L578.4,156.0Z" fill="#e050ae"/>
<path d="M602.6,162.8 L602.9,162.5 L603.0,162.1 L603.3,158.5 L603.2,158.0 L602.8,157.6 L599.7,155.7 L599.3,155.5 L598.9,155.6 L598.8,155.6 L598.4,155.8 L598.2,156.2 L596.4,160.8 L596.4,161.4 L596.7,161.9 L598.4,163.2 L598.8,163.4 L599.2,163.4 L602.1,163.0 L602.6,162.8Z" fill="#d8469f"/>
<path d="M592.1,168.2 L592.5,167.8 L592.6,167.4 L592.8,164.6 L592.7,164.1 L592.4,163.7 L592.0,163.5 L591.5,163.6 L591.1,163.8 L589.8,165.1 L589.6,165.6 L589.6,166.2 L590.1,167.7 L590.5,168.2 L591.1,168.3 L591.7,168.3 L592.1,168.2Z" fill="#d8469f"/>
<path d="M559.0,149.9 L559.4,150.1 L561.2,150.2 L561.9,150.1 L562.3,149.6 L562.9,148.0 L557.7,148.0 L558.7,149.6 L559.0,149.9Z" fill="#dc4ea8"/>
<path d="M588.4,196.0 L588.6,196.6 L589.0,197.0 L592.9,198.7 L593.4,198.8 L593.9,198.6 L594.2,198.3 L596.1,194.8 L596.3,194.3 L596.1,193.8 L595.7,193.4 L594.5,192.9 L593.8,192.9 L589.8,194.1 L589.3,194.5 L588.6,195.5 L588.4,196.0Z" fill="#dc4ea8"/>
<path d="M607.9,148.7 L607.9,149.1 L608.1,149.5 L608.7,150.4 L609.1,150.7 L609.5,150.8 L610.4,150.8 L610.4,148.0 L608.0,148.0 L607.9,148.7Z" fill="#e050ae"/>
<path d="M566.0,163.0 L576.0,165.0 L586.0,161.0 L598.0,162.0" fill="none" stroke="#e8d2ea" stroke-width="1.6" stroke-linecap="round" stroke-linejoin="round"/>
<path d="M561.0,183.0 L571.0,178.0 L580.0,176.0" fill="none" stroke="#e8d2ea" stroke-width="1.4" stroke-linecap="round" stroke-linejoin="round"/>
<circle cx="598.3" cy="162.7" r="0.45" fill="#6a4aa8" opacity="0.6"/>
<circle cx="557.7" cy="177.8" r="0.45" fill="#6a4aa8" opacity="0.6"/>
<circle cx="558.2" cy="168.9" r="0.45" fill="#6a4aa8" opacity="0.6"/>
<circle cx="579.3" cy="177.3" r="0.45" fill="#6a4aa8" opacity="0.6"/>
<circle cx="570.2" cy="183.3" r="0.45" fill="#6a4aa8" opacity="0.6"/>
<circle cx="566.7" cy="179.5" r="0.45" fill="#6a4aa8" opacity="0.6"/>
<circle cx="605.2" cy="164.0" r="0.45" fill="#6a4aa8" opacity="0.6"/>
<circle cx="568.0" cy="176.3" r="0.45" fill="#6a4aa8" opacity="0.6"/>
<circle cx="561.7" cy="177.9" r="0.45" fill="#6a4aa8" opacity="0.6"/>
<circle cx="602.0" cy="177.1" r="0.45" fill="#6a4aa8" opacity="0.6"/>
<circle cx="593.2" cy="162.8" r="0.45" fill="#6a4aa8" opacity="0.6"/>
<circle cx="578.4" cy="165.1" r="0.45" fill="#6a4aa8" opacity="0.6"/>
<circle cx="576.8" cy="197.1" r="0.45" fill="#6a4aa8" opacity="0.6"/>
<circle cx="603.4" cy="166.6" r="0.45" fill="#6a4aa8" opacity="0.6"/>
<circle cx="606.7" cy="178.6" r="0.45" fill="#6a4aa8" opacity="0.6"/>
<circle cx="592.6" cy="160.8" r="0.45" fill="#6a4aa8" opacity="0.6"/>
<circle cx="595.0" cy="188.8" r="0.45" fill="#6a4aa8" opacity="0.6"/>
<circle cx="566.0" cy="153.3" r="0.45" fill="#6a4aa8" opacity="0.6"/>
<circle cx="586.6" cy="184.5" r="0.45" fill="#6a4aa8" opacity="0.6"/>
<circle cx="560.7" cy="200.6" r="0.45" fill="#6a4aa8" opacity="0.6"/>
<circle cx="558.9" cy="197.6" r="0.45" fill="#6a4aa8" opacity="0.6"/>
<circle cx="559.6" cy="186.1" r="0.45" fill="#6a4aa8" opacity="0.6"/>
<circle cx="602.6" cy="159.1" r="0.45" fill="#6a4aa8" opacity="0.6"/>
<circle cx="563.8" cy="178.7" r="0.45" fill="#6a4aa8" opacity="0.6"/>
<circle cx="606.4" cy="155.3" r="0.45" fill="#6a4aa8" opacity="0.6"/>
<circle cx="604.1" cy="168.5" r="0.45" fill="#6a4aa8" opacity="0.6"/>
<circle cx="571.5" cy="187.4" r="0.45" fill="#6a4aa8" opacity="0.6"/>
<circle cx="587.9" cy="164.0" r="0.45" fill="#6a4aa8" opacity="0.6"/>
<circle cx="598.4" cy="180.4" r="0.45" fill="#6a4aa8" opacity="0.6"/>
<circle cx="580.7" cy="158.1" r="0.45" fill="#6a4aa8" opacity="0.6"/>
</g></g>
<clipPath id="hc15"><rect x="612.9" y="148.8" width="54.4" height="54.3"/></clipPath><g clip-path="url(#hc15)"><g filter="url(#heb)">
<rect x="611.90" y="147.80" width="56.40" height="56.30" fill="#eed8f0"/>
<path d="M655.9,188.1 L655.7,188.7 L654.6,193.5 L654.6,194.2 L654.9,194.7 L655.4,195.1 L656.9,195.8 L657.6,195.9 L658.3,195.6 L661.9,192.6 L662.3,192.1 L662.5,191.5 L662.3,190.9 L660.4,187.0 L659.9,186.5 L659.2,186.2 L658.5,186.5 L656.3,187.8 L655.9,188.1Z" fill="#e65dd2"/>
<path d="M614.0,191.6 L614.0,192.3 L614.3,192.9 L617.3,196.0 L617.9,196.4 L618.6,196.4 L619.2,196.1 L623.4,192.6 L623.7,192.1 L623.8,191.4 L623.7,189.0 L623.4,188.1 L623.1,187.8 L622.6,187.4 L622.0,187.3 L618.0,187.4 L617.4,187.5 L617.0,187.9 L614.3,191.0 L614.0,191.6Z" fill="#e65dd2"/>
<path d="M613.9,173.2 L612.9,172.4 L612.9,179.8 L613.1,179.8 L614.1,179.3 L614.5,178.8 L614.8,178.3 L614.9,177.7 L614.4,174.1 L613.9,173.2Z" fill="#e65dd2"/>
<path d="M629.3,159.7 L628.7,160.0 L628.3,160.5 L628.1,161.1 L628.3,161.8 L630.3,165.7 L630.8,166.2 L631.4,166.4 L632.1,166.3 L634.5,165.2 L635.1,164.6 L635.3,163.8 L635.1,162.3 L634.8,161.6 L634.1,161.1 L629.9,159.8 L629.3,159.7Z" fill="#e25ace"/>
<path d="M624.1,150.1 L624.9,150.3 L625.6,150.2 L628.1,148.8 L622.4,148.8 L624.1,150.1Z" fill="#e456cf"/>
<path d="M642.8,173.9 L643.5,174.0 L644.2,173.6 L650.1,168.1 L650.5,167.4 L650.4,166.5 L649.9,165.9 L646.5,163.8 L645.7,163.6 L645.0,163.8 L640.6,166.9 L640.2,167.5 L640.1,168.2 L640.4,170.8 L640.7,171.5 L642.1,173.4 L642.8,173.9Z" fill="#e25ace"/>
<path d="M627.0,157.4 L627.7,157.4 L628.3,157.0 L631.6,153.8 L632.0,153.2 L632.0,152.4 L631.2,150.0 L630.7,149.3 L630.0,149.0 L629.2,149.2 L625.9,151.0 L625.4,151.5 L625.2,152.2 L625.2,155.3 L625.6,156.3 L626.3,157.0 L627.0,157.4Z" fill="#e25ace"/>
<path d="M631.4,187.7 L630.6,187.7 L626.1,188.6 L625.5,188.9 L625.1,189.4 L625.0,190.0 L625.0,191.4 L625.2,191.9 L625.6,192.4 L629.3,195.2 L629.8,195.4 L630.4,195.4 L633.7,194.8 L634.2,194.5 L634.6,194.1 L634.8,193.7 L635.0,192.9 L634.8,192.2 L632.0,188.2 L631.4,187.7Z" fill="#e25ace"/>
<path d="M620.5,171.8 L619.8,171.6 L619.1,171.7 L616.4,173.1 L615.8,173.7 L615.6,174.5 L615.9,176.5 L616.2,177.2 L616.7,177.6 L617.4,177.8 L619.0,177.6 L619.6,177.4 L620.1,176.9 L621.4,174.6 L621.6,174.0 L621.5,173.3 L621.0,172.4 L620.5,171.8Z" fill="#e25ace"/>
<path d="M622.8,174.6 L622.2,175.2 L621.0,177.2 L620.8,178.0 L621.2,178.8 L623.0,180.9 L623.5,181.3 L624.2,181.4 L624.8,181.2 L626.2,180.3 L626.7,179.8 L626.9,179.1 L626.8,176.2 L626.6,175.5 L626.2,175.0 L625.6,174.8 L623.6,174.5 L622.8,174.6Z" fill="#e456cf"/>
<path d="M663.4,183.2 L662.8,183.5 L661.6,184.4 L661.2,184.9 L661.1,185.5 L661.2,186.1 L663.6,191.1 L663.9,191.6 L664.4,191.8 L667.3,192.7 L667.3,183.9 L664.0,183.2 L663.4,183.2Z" fill="#e25ace"/>
<path d="M622.2,167.8 L621.6,168.2 L621.4,168.4 L621.1,169.2 L621.0,169.8 L621.2,170.6 L622.3,173.1 L622.8,173.6 L623.4,173.8 L626.4,174.3 L627.0,174.3 L627.5,174.0 L629.2,172.7 L629.7,172.1 L629.8,171.4 L629.6,170.3 L629.3,169.5 L628.6,169.0 L623.0,167.8 L622.2,167.8Z" fill="#e25ace"/>
<path d="M649.5,180.3 L649.2,180.9 L648.8,183.2 L648.8,183.8 L649.1,184.4 L649.6,184.8 L654.6,186.9 L655.2,187.0 L655.9,186.8 L657.6,185.7 L658.2,185.1 L658.3,184.4 L658.0,183.6 L654.1,179.2 L653.4,178.8 L652.5,178.8 L650.1,179.9 L649.5,180.3Z" fill="#e65dd2"/>
<path d="M664.3,192.9 L663.7,192.8 L663.0,193.1 L659.2,196.3 L658.7,197.0 L658.8,197.9 L660.0,200.5 L660.5,201.1 L661.2,201.3 L662.0,201.1 L667.3,197.7 L667.3,193.8 L664.3,192.9Z" fill="#e456cf"/>
<path d="M659.5,161.3 L658.9,161.7 L655.3,166.3 L655.0,167.0 L655.1,167.7 L656.6,171.1 L657.4,171.8 L662.9,173.8 L663.5,173.9 L664.0,173.8 L667.3,172.0 L667.3,162.4 L660.2,161.2 L659.5,161.3Z" fill="#e25ace"/>
<path d="M621.2,199.8 L621.7,200.0 L625.6,200.6 L626.5,200.5 L627.1,199.9 L628.3,197.5 L628.5,196.8 L628.3,196.2 L627.9,195.7 L625.4,193.8 L624.8,193.6 L624.2,193.6 L623.6,193.9 L620.4,196.6 L620.0,197.2 L619.9,197.8 L620.2,198.5 L620.8,199.4 L621.2,199.8Z" fill="#e456cf"/>
<path d="M626.7,159.4 L626.7,159.4 L626.7,158.7 L626.3,158.0 L625.2,156.8 L624.7,156.5 L624.1,156.4 L618.9,156.8 L618.3,157.0 L617.8,157.4 L617.6,158.0 L617.5,159.2 L617.6,159.9 L618.0,160.5 L621.3,162.9 L621.9,163.1 L622.5,163.1 L623.1,162.8 L626.3,160.0 L626.7,159.4Z" fill="#e456cf"/>
<path d="M614.9,155.0 L615.6,154.8 L616.1,154.3 L616.4,153.7 L616.5,152.3 L616.4,151.7 L616.0,151.1 L615.4,150.8 L612.9,150.2 L612.9,154.8 L614.9,155.0Z" fill="#e456cf"/>
<path d="M617.1,150.0 L617.7,149.6 L618.4,148.8 L612.9,148.8 L612.9,149.2 L616.3,150.1 L617.1,150.0Z" fill="#e65dd2"/>
<path d="M626.9,202.6 L626.5,202.1 L625.8,201.8 L622.4,201.3 L621.7,201.3 L621.2,201.7 L620.9,202.3 L620.7,203.1 L627.1,203.1 L626.9,202.6Z" fill="#e25ace"/>
<path d="M664.1,175.0 L663.8,175.7 L663.6,181.1 L663.8,181.7 L664.2,182.2 L664.7,182.5 L667.3,183.1 L667.3,173.0 L664.6,174.5 L664.1,175.0Z" fill="#e456cf"/>
<path d="M637.6,156.5 L637.4,155.7 L636.7,155.2 L633.5,154.0 L632.8,154.0 L632.1,154.3 L629.6,156.7 L629.2,157.4 L629.2,158.1 L629.6,158.7 L630.2,159.1 L634.2,160.4 L634.8,160.4 L635.4,160.2 L635.8,159.8 L637.4,157.3 L637.6,156.5Z" fill="#e456cf"/>
<path d="M659.7,183.9 L660.4,183.9 L661.0,183.7 L662.2,182.7 L662.6,182.2 L662.8,181.6 L663.0,176.0 L662.8,175.1 L662.1,174.6 L657.9,173.0 L657.2,173.0 L656.6,173.2 L656.2,173.7 L654.6,177.0 L654.4,177.8 L654.8,178.5 L659.1,183.5 L659.7,183.9Z" fill="#e456cf"/>
<path d="M642.3,202.8 L642.1,202.0 L641.5,201.5 L637.8,199.8 L637.1,199.7 L636.4,200.0 L635.9,200.7 L635.1,203.1 L642.3,203.1 L642.3,202.8Z" fill="#e65dd2"/>
<path d="M636.4,193.8 L635.8,194.4 L635.7,194.7 L635.5,195.3 L635.6,195.9 L636.4,197.8 L637.1,198.5 L641.8,200.6 L642.6,200.7 L643.3,200.3 L646.2,197.7 L646.6,197.1 L646.6,196.3 L646.2,195.7 L645.5,195.3 L637.3,193.7 L636.4,193.8Z" fill="#e456cf"/>
<path d="M658.2,155.8 L659.4,159.2 L659.8,159.8 L660.5,160.1 L667.3,161.3 L667.3,148.8 L660.8,148.8 L658.2,154.8 L658.2,155.8Z" fill="#e456cf"/>
<path d="M617.4,161.4 L616.8,161.4 L616.2,161.7 L615.3,162.5 L614.9,163.1 L614.8,163.9 L615.2,165.2 L615.5,165.8 L616.1,166.2 L619.6,167.5 L620.2,167.5 L620.8,167.3 L621.3,166.9 L621.5,166.2 L621.6,165.1 L621.4,164.4 L621.0,163.8 L618.0,161.6 L617.4,161.4Z" fill="#e25ace"/>
<path d="M636.3,164.7 L636.8,165.2 L638.6,166.2 L639.3,166.4 L640.1,166.1 L644.5,163.0 L645.0,162.4 L645.1,161.6 L644.1,157.3 L643.7,156.6 L643.0,156.2 L640.3,155.7 L639.6,155.8 L639.5,155.8 L638.8,156.3 L636.0,160.7 L635.8,161.7 L636.1,164.1 L636.3,164.7Z" fill="#e456cf"/>
<path d="M615.5,179.5 L615.3,179.7 L615.0,180.4 L615.1,181.2 L617.1,185.4 L617.7,186.0 L618.4,186.2 L621.2,186.2 L621.8,186.0 L622.3,185.6 L622.6,185.0 L622.9,183.1 L622.9,182.5 L622.6,181.9 L620.3,179.3 L619.8,178.9 L619.1,178.8 L616.4,179.1 L615.5,179.5Z" fill="#e65dd2"/>
<path d="M645.3,187.1 L644.5,186.7 L642.6,186.5 L641.9,186.6 L641.3,187.0 L638.2,190.8 L638.0,191.4 L638.0,192.1 L638.4,192.7 L639.1,193.0 L644.9,194.2 L645.5,194.2 L646.1,193.8 L646.5,193.3 L646.5,192.6 L645.8,187.8 L645.3,187.1Z" fill="#e456cf"/>
<path d="M626.9,161.7 L626.1,161.6 L625.4,161.9 L623.2,163.8 L622.7,164.8 L622.6,165.7 L622.7,166.3 L623.1,166.9 L623.7,167.2 L628.0,168.1 L628.7,168.1 L629.4,167.6 L629.7,166.9 L629.5,166.1 L627.5,162.3 L626.9,161.7Z" fill="#e25ace"/>
<path d="M643.4,175.7 L642.7,175.7 L642.1,176.2 L640.9,177.6 L640.6,178.3 L640.0,182.1 L640.3,183.1 L641.5,184.9 L642.0,185.3 L642.5,185.5 L645.2,185.8 L645.8,185.7 L646.3,185.5 L647.2,184.6 L647.7,183.8 L648.3,180.8 L648.2,180.1 L647.8,179.5 L644.1,176.0 L643.4,175.7Z" fill="#e25ace"/>
<path d="M656.0,172.0 L655.8,171.4 L654.3,168.0 L653.8,167.4 L653.1,167.2 L653.0,167.2 L652.4,167.2 L651.9,167.5 L645.2,173.9 L644.9,174.5 L644.9,175.3 L645.3,175.9 L648.4,178.8 L649.1,179.1 L649.9,179.1 L652.8,177.8 L653.6,177.2 L655.8,172.6 L656.0,172.0Z" fill="#e25ace"/>
<path d="M635.4,198.2 L634.8,196.9 L634.5,196.4 L633.9,196.1 L633.3,196.1 L630.7,196.6 L630.1,196.9 L629.7,197.3 L627.9,200.9 L627.7,201.5 L627.8,202.0 L628.3,203.1 L634.1,203.1 L635.4,199.2 L635.4,198.2Z" fill="#e65dd2"/>
<path d="M658.3,160.3 L658.3,159.6 L657.2,156.5 L656.8,156.0 L656.2,155.6 L648.6,153.9 L647.9,153.9 L647.3,154.2 L645.5,155.8 L645.1,156.4 L645.1,157.1 L646.1,161.7 L646.7,162.6 L652.1,166.0 L652.8,166.2 L653.1,166.2 L653.8,166.1 L654.3,165.7 L658.1,161.0 L658.3,160.3Z" fill="#e456cf"/>
<path d="M648.4,152.1 L648.8,152.5 L649.4,152.8 L655.9,154.3 L656.6,154.3 L657.1,154.0 L657.5,153.5 L659.6,148.8 L648.2,148.8 L648.3,151.5 L648.4,152.1Z" fill="#e456cf"/>
<path d="M638.0,154.7 L638.6,154.4 L639.1,153.8 L639.1,153.1 L638.3,148.8 L631.5,148.8 L632.7,152.4 L633.0,152.9 L633.6,153.3 L637.2,154.6 L638.0,154.7Z" fill="#e25ace"/>
<path d="M630.2,169.5 L630.4,171.5 L630.6,172.1 L631.1,172.5 L631.5,172.8 L632.0,173.0 L632.6,172.9 L638.4,171.5 L639.0,171.1 L639.3,170.6 L639.4,169.9 L639.1,168.0 L638.9,167.4 L638.5,167.0 L636.5,165.8 L635.8,165.6 L635.2,165.7 L631.4,167.5 L630.8,168.1 L630.4,168.7 L630.2,169.5Z" fill="#e25ace"/>
<path d="M641.6,175.1 L641.6,174.5 L641.3,173.9 L640.4,172.6 L639.7,172.1 L638.9,172.1 L634.0,173.3 L633.3,173.7 L633.0,174.4 L633.0,175.2 L633.5,176.3 L634.0,176.9 L634.7,177.2 L639.3,177.3 L639.9,177.2 L640.4,176.8 L641.3,175.6 L641.6,175.1Z" fill="#e65dd2"/>
<path d="M632.5,181.6 L632.8,182.2 L633.4,182.7 L634.1,182.8 L637.9,182.4 L638.4,182.2 L638.9,181.8 L639.1,181.2 L639.3,179.8 L639.2,179.0 L638.7,178.4 L638.0,178.2 L634.8,178.1 L634.0,178.3 L633.5,178.9 L632.6,180.8 L632.5,181.6Z" fill="#e25ace"/>
<path d="M616.4,197.4 L616.4,196.7 L616.1,196.1 L612.9,192.9 L612.9,192.9 L612.9,201.5 L616.1,198.1 L616.4,197.4Z" fill="#e456cf"/>
<path d="M613.8,162.2 L614.3,161.9 L616.2,160.3 L616.7,159.4 L616.9,157.6 L616.7,156.9 L616.2,156.3 L615.5,156.1 L612.9,155.9 L612.9,162.2 L613.1,162.2 L613.8,162.2Z" fill="#e25ace"/>
<path d="M615.1,167.2 L614.3,167.7 L613.0,169.6 L612.9,169.9 L612.9,171.0 L613.3,171.5 L614.2,172.2 L614.9,172.5 L615.7,172.3 L618.8,170.8 L619.3,170.2 L619.5,169.4 L619.2,168.7 L618.6,168.2 L615.9,167.2 L615.1,167.2Z" fill="#e456cf"/>
<path d="M656.9,196.9 L654.1,195.7 L653.2,195.6 L650.6,196.4 L650.0,196.8 L649.7,197.5 L649.7,198.2 L651.4,203.1 L659.8,203.1 L659.7,202.4 L657.6,197.6 L656.9,196.9Z" fill="#e25ace"/>
<path d="M614.1,166.9 L614.3,166.3 L614.3,165.7 L613.9,164.0 L613.5,163.3 L612.9,163.0 L612.9,168.5 L614.1,166.9Z" fill="#e25ace"/>
<path d="M640.6,154.5 L641.3,154.9 L643.4,155.3 L644.0,155.3 L644.5,155.0 L646.6,153.2 L647.0,152.7 L647.1,152.1 L647.0,148.8 L639.3,148.8 L640.2,153.8 L640.6,154.5Z" fill="#e456cf"/>
<path d="M620.0,201.2 L620.0,200.6 L619.8,200.1 L619.0,198.9 L618.4,198.4 L617.5,198.3 L616.8,198.8 L612.9,203.0 L612.9,203.1 L619.6,203.1 L620.0,201.2Z" fill="#e65dd2"/>
<path d="M615.8,187.5 L616.2,186.7 L616.0,185.9 L614.0,181.7 L613.4,181.1 L612.9,181.0 L612.9,190.9 L615.8,187.5Z" fill="#e65dd2"/>
<path d="M648.7,198.4 L648.1,198.1 L647.4,198.1 L646.8,198.4 L643.6,201.4 L643.2,201.8 L643.1,202.4 L643.1,203.1 L650.5,203.1 L649.1,199.0 L648.7,198.4Z" fill="#e25ace"/>
<path d="M635.4,190.7 L636.1,190.9 L636.7,190.8 L637.2,190.4 L640.2,186.7 L640.5,185.9 L640.2,185.0 L639.6,184.1 L639.0,183.7 L638.3,183.5 L634.2,183.9 L633.4,184.3 L632.9,185.0 L632.6,186.0 L632.6,186.6 L632.8,187.2 L635.0,190.3 L635.4,190.7Z" fill="#e65dd2"/>
<path d="M661.0,203.1 L661.0,203.1 L667.3,203.1 L667.3,198.9 L661.4,202.6 L661.0,203.1Z" fill="#e25ace"/>
<path d="M623.5,186.6 L623.8,187.2 L623.9,187.2 L624.5,187.6 L625.2,187.6 L630.6,186.5 L631.3,186.2 L631.7,185.5 L632.1,184.0 L632.0,183.0 L631.7,182.4 L631.4,182.0 L630.9,181.7 L627.9,180.7 L627.3,180.7 L626.8,180.9 L624.6,182.2 L624.2,182.6 L624.0,183.1 L623.5,186.0 L623.5,186.6Z" fill="#e65dd2"/>
<path d="M617.6,155.2 L618.2,155.7 L619.0,155.9 L623.0,155.6 L623.7,155.4 L624.2,154.9 L624.3,154.2 L624.3,152.1 L624.1,151.5 L623.7,151.0 L621.0,149.0 L620.5,148.8 L620.1,148.8 L619.7,148.8 L619.1,149.2 L618.1,150.5 L617.7,151.3 L617.5,154.4 L617.6,155.2Z" fill="#e65dd2"/>
<path d="M646.6,186.6 L646.5,187.3 L647.7,194.6 L648.0,195.2 L648.1,195.3 L648.8,195.8 L649.6,195.8 L652.6,194.9 L653.2,194.5 L653.5,193.9 L654.6,189.1 L654.6,188.4 L654.3,187.9 L653.8,187.5 L648.9,185.4 L648.2,185.3 L647.5,185.6 L647.0,186.0 L646.6,186.6Z" fill="#e456cf"/>
<path d="M628.0,179.5 L628.7,180.0 L630.3,180.6 L631.0,180.6 L631.6,180.3 L632.0,179.8 L632.8,178.1 L632.9,177.5 L632.8,177.0 L631.7,174.2 L631.2,173.5 L631.0,173.4 L630.2,173.2 L629.4,173.5 L628.1,174.5 L627.7,175.0 L627.6,175.6 L627.7,178.7 L628.0,179.5Z" fill="#e25ace"/>
<circle cx="617.1" cy="181.3" r="0.45" fill="#6a4aa8" opacity="0.6"/>
<circle cx="623.0" cy="172.3" r="0.45" fill="#6a4aa8" opacity="0.6"/>
<circle cx="635.8" cy="198.3" r="0.45" fill="#6a4aa8" opacity="0.6"/>
<circle cx="662.5" cy="166.1" r="0.45" fill="#6a4aa8" opacity="0.6"/>
<circle cx="627.0" cy="195.3" r="0.45" fill="#6a4aa8" opacity="0.6"/>
<circle cx="649.8" cy="166.6" r="0.45" fill="#6a4aa8" opacity="0.6"/>
<circle cx="649.0" cy="199.0" r="0.45" fill="#6a4aa8" opacity="0.6"/>
<circle cx="656.5" cy="152.8" r="0.45" fill="#6a4aa8" opacity="0.6"/>
<circle cx="665.2" cy="196.9" r="0.45" fill="#6a4aa8" opacity="0.6"/>
<circle cx="634.5" cy="196.4" r="0.45" fill="#6a4aa8" opacity="0.6"/>
<circle cx="638.7" cy="189.5" r="0.45" fill="#6a4aa8" opacity="0.6"/>
<circle cx="657.3" cy="156.9" r="0.45" fill="#6a4aa8" opacity="0.6"/>
<circle cx="631.3" cy="152.0" r="0.45" fill="#6a4aa8" opacity="0.6"/>
<circle cx="617.5" cy="182.1" r="0.45" fill="#6a4aa8" opacity="0.6"/>
<circle cx="644.9" cy="200.1" r="0.45" fill="#6a4aa8" opacity="0.6"/>
<circle cx="627.0" cy="198.7" r="0.45" fill="#6a4aa8" opacity="0.6"/>
<circle cx="638.8" cy="185.5" r="0.45" fill="#6a4aa8" opacity="0.6"/>
<circle cx="616.1" cy="200.1" r="0.45" fill="#6a4aa8" opacity="0.6"/>
<circle cx="625.4" cy="163.5" r="0.45" fill="#6a4aa8" opacity="0.6"/>
<circle cx="654.4" cy="195.5" r="0.45" fill="#6a4aa8" opacity="0.6"/>
<circle cx="665.9" cy="186.8" r="0.45" fill="#6a4aa8" opacity="0.6"/>
<circle cx="635.6" cy="149.9" r="0.45" fill="#6a4aa8" opacity="0.6"/>
<circle cx="662.8" cy="194.8" r="0.45" fill="#6a4aa8" opacity="0.6"/>
<circle cx="617.6" cy="162.2" r="0.45" fill="#6a4aa8" opacity="0.6"/>
<circle cx="652.5" cy="163.4" r="0.45" fill="#6a4aa8" opacity="0.6"/>
<circle cx="622.7" cy="200.8" r="0.45" fill="#6a4aa8" opacity="0.6"/>
<circle cx="634.4" cy="166.0" r="0.45" fill="#6a4aa8" opacity="0.6"/>
<circle cx="625.9" cy="153.0" r="0.45" fill="#6a4aa8" opacity="0.6"/>
<circle cx="638.5" cy="151.0" r="0.45" fill="#6a4aa8" opacity="0.6"/>
<circle cx="651.5" cy="169.1" r="0.45" fill="#6a4aa8" opacity="0.6"/>
<circle cx="642.8" cy="194.3" r="0.45" fill="#6a4aa8" opacity="0.6"/>
<circle cx="641.7" cy="201.9" r="0.45" fill="#6a4aa8" opacity="0.6"/>
<circle cx="662.2" cy="178.3" r="0.45" fill="#6a4aa8" opacity="0.6"/>
<circle cx="650.4" cy="193.2" r="0.45" fill="#6a4aa8" opacity="0.6"/>
<circle cx="625.4" cy="172.7" r="0.45" fill="#6a4aa8" opacity="0.6"/>
</g></g>
<text x="0" y="2.18" font-size="6.05" text-anchor="middle" stroke="#111" stroke-width="0.12" transform="translate(428.55 194.50) scale(0.8 1)">100 μm</text>
<line x1="421.30" y1="198.40" x2="435.80" y2="198.40" stroke="#111" stroke-width="0.9"/>
<text x="0" y="2.18" font-size="6.05" text-anchor="middle" stroke="#111" stroke-width="0.12" transform="translate(485.75 194.80) scale(0.8 1)">100 μm</text>
<line x1="478.50" y1="198.70" x2="493.00" y2="198.70" stroke="#111" stroke-width="0.9"/>
<text x="0" y="2.18" font-size="6.05" text-anchor="middle" stroke="#111" stroke-width="0.12" transform="translate(542.75 194.80) scale(0.8 1)">100 μm</text>
<line x1="535.50" y1="198.70" x2="550.00" y2="198.70" stroke="#111" stroke-width="0.9"/>
<text x="0" y="2.18" font-size="6.05" text-anchor="middle" stroke="#111" stroke-width="0.12" transform="translate(599.25 194.80) scale(0.8 1)">100 μm</text>
<line x1="592.00" y1="198.70" x2="606.50" y2="198.70" stroke="#111" stroke-width="0.9"/>
<text x="0" y="2.18" font-size="6.05" text-anchor="middle" stroke="#111" stroke-width="0.12" transform="translate(656.25 195.10) scale(0.8 1)">100 μm</text>
<line x1="649.00" y1="199.00" x2="663.50" y2="199.00" stroke="#111" stroke-width="0.9"/>
<text x="0" y="3.06" font-size="8.50" fill="#000" font-weight="bold" stroke="#000" stroke-width="0.12" transform="translate(8.00 277.40)">H</text>
<line x1="31.70" y1="279.20" x2="31.70" y2="360.80" stroke="#333" stroke-width="0.7"/>
<line x1="29.70" y1="279.20" x2="31.70" y2="279.20" stroke="#333" stroke-width="0.7"/>
<text x="0" y="2.18" font-size="6.05" text-anchor="end" fill="#222" stroke="#222" stroke-width="0.12" transform="translate(28.40 279.20) scale(0.92 1)">4000</text>
<line x1="29.70" y1="299.60" x2="31.70" y2="299.60" stroke="#333" stroke-width="0.7"/>
<text x="0" y="2.18" font-size="6.05" text-anchor="end" fill="#222" stroke="#222" stroke-width="0.12" transform="translate(28.40 299.60) scale(0.92 1)">3000</text>
<line x1="29.70" y1="320.00" x2="31.70" y2="320.00" stroke="#333" stroke-width="0.7"/>
<text x="0" y="2.18" font-size="6.05" text-anchor="end" fill="#222" stroke="#222" stroke-width="0.12" transform="translate(28.40 320.00) scale(0.92 1)">2000</text>
<line x1="29.70" y1="340.40" x2="31.70" y2="340.40" stroke="#333" stroke-width="0.7"/>
<text x="0" y="2.18" font-size="6.05" text-anchor="end" fill="#222" stroke="#222" stroke-width="0.12" transform="translate(28.40 340.40) scale(0.92 1)">1000</text>
<line x1="29.70" y1="360.80" x2="31.70" y2="360.80" stroke="#333" stroke-width="0.7"/>
<text x="0" y="2.18" font-size="6.05" text-anchor="end" fill="#222" stroke="#222" stroke-width="0.12" transform="translate(28.40 360.80) scale(0.92 1)">0</text>
<line x1="31.70" y1="360.80" x2="109.60" y2="360.80" stroke="#333" stroke-width="0.7"/>
<rect x="37.80" y="305.72" width="9.40" height="55.08" fill="#8f8f8f"/>
<rect x="52.00" y="320.20" width="9.60" height="40.60" fill="#ffbaba"/>
<rect x="66.40" y="329.59" width="9.60" height="31.21" fill="#bebeff"/>
<rect x="80.70" y="332.44" width="9.50" height="28.36" fill="#ffdcc0"/>
<rect x="95.10" y="315.10" width="9.90" height="45.70" fill="#e8c2f8"/>
<circle cx="40.80" cy="296.95" r="1.35" fill="none" stroke="#7a7a7a" stroke-width="0.9"/>
<circle cx="39.10" cy="303.68" r="1.35" fill="none" stroke="#7a7a7a" stroke-width="0.9"/>
<circle cx="42.50" cy="304.70" r="1.35" fill="none" stroke="#7a7a7a" stroke-width="0.9"/>
<circle cx="45.90" cy="305.31" r="1.35" fill="none" stroke="#7a7a7a" stroke-width="0.9"/>
<circle cx="39.10" cy="305.72" r="1.35" fill="none" stroke="#7a7a7a" stroke-width="0.9"/>
<circle cx="42.50" cy="306.74" r="1.35" fill="none" stroke="#7a7a7a" stroke-width="0.9"/>
<circle cx="45.90" cy="307.76" r="1.35" fill="none" stroke="#7a7a7a" stroke-width="0.9"/>
<circle cx="42.50" cy="308.58" r="1.35" fill="none" stroke="#7a7a7a" stroke-width="0.9"/>
<line x1="42.50" y1="304.50" x2="42.50" y2="306.94" stroke="#3a3a3a" stroke-width="0.7"/>
<line x1="40.50" y1="304.50" x2="44.50" y2="304.50" stroke="#3a3a3a" stroke-width="0.7"/>
<line x1="40.50" y1="306.94" x2="44.50" y2="306.94" stroke="#3a3a3a" stroke-width="0.7"/>
<circle cx="55.10" cy="312.25" r="1.35" fill="none" stroke="#f01818" stroke-width="0.9"/>
<circle cx="53.40" cy="318.98" r="1.35" fill="none" stroke="#f01818" stroke-width="0.9"/>
<circle cx="56.80" cy="319.59" r="1.35" fill="none" stroke="#f01818" stroke-width="0.9"/>
<circle cx="60.20" cy="320.00" r="1.35" fill="none" stroke="#f01818" stroke-width="0.9"/>
<circle cx="53.40" cy="321.02" r="1.35" fill="none" stroke="#f01818" stroke-width="0.9"/>
<circle cx="56.80" cy="322.04" r="1.35" fill="none" stroke="#f01818" stroke-width="0.9"/>
<circle cx="60.20" cy="323.06" r="1.35" fill="none" stroke="#f01818" stroke-width="0.9"/>
<circle cx="56.80" cy="324.08" r="1.35" fill="none" stroke="#f01818" stroke-width="0.9"/>
<line x1="56.80" y1="318.98" x2="56.80" y2="321.43" stroke="#f01818" stroke-width="0.7"/>
<line x1="54.80" y1="318.98" x2="58.80" y2="318.98" stroke="#f01818" stroke-width="0.7"/>
<line x1="54.80" y1="321.43" x2="58.80" y2="321.43" stroke="#f01818" stroke-width="0.7"/>
<circle cx="67.80" cy="327.14" r="1.35" fill="none" stroke="#1818f0" stroke-width="0.9"/>
<circle cx="71.20" cy="327.75" r="1.35" fill="none" stroke="#1818f0" stroke-width="0.9"/>
<circle cx="74.60" cy="328.57" r="1.35" fill="none" stroke="#1818f0" stroke-width="0.9"/>
<circle cx="67.80" cy="330.20" r="1.35" fill="none" stroke="#1818f0" stroke-width="0.9"/>
<circle cx="71.20" cy="331.22" r="1.35" fill="none" stroke="#1818f0" stroke-width="0.9"/>
<circle cx="74.60" cy="332.24" r="1.35" fill="none" stroke="#1818f0" stroke-width="0.9"/>
<circle cx="69.50" cy="333.67" r="1.35" fill="none" stroke="#1818f0" stroke-width="0.9"/>
<line x1="71.20" y1="328.36" x2="71.20" y2="330.81" stroke="#1818f0" stroke-width="0.7"/>
<line x1="69.20" y1="328.36" x2="73.20" y2="328.36" stroke="#1818f0" stroke-width="0.7"/>
<line x1="69.20" y1="330.81" x2="73.20" y2="330.81" stroke="#1818f0" stroke-width="0.7"/>
<circle cx="83.75" cy="328.16" r="1.35" fill="none" stroke="#f58a28" stroke-width="0.9"/>
<circle cx="82.05" cy="330.61" r="1.35" fill="none" stroke="#f58a28" stroke-width="0.9"/>
<circle cx="85.45" cy="331.83" r="1.35" fill="none" stroke="#f58a28" stroke-width="0.9"/>
<circle cx="88.85" cy="332.65" r="1.35" fill="none" stroke="#f58a28" stroke-width="0.9"/>
<circle cx="82.05" cy="333.26" r="1.35" fill="none" stroke="#f58a28" stroke-width="0.9"/>
<circle cx="88.85" cy="333.87" r="1.35" fill="none" stroke="#f58a28" stroke-width="0.9"/>
<line x1="85.45" y1="331.63" x2="85.45" y2="333.26" stroke="#f58a28" stroke-width="0.7"/>
<line x1="83.45" y1="331.63" x2="87.45" y2="331.63" stroke="#f58a28" stroke-width="0.7"/>
<line x1="83.45" y1="333.26" x2="87.45" y2="333.26" stroke="#f58a28" stroke-width="0.7"/>
<circle cx="96.65" cy="311.84" r="1.35" fill="none" stroke="#a42ee8" stroke-width="0.9"/>
<circle cx="100.05" cy="312.86" r="1.35" fill="none" stroke="#a42ee8" stroke-width="0.9"/>
<circle cx="103.45" cy="313.88" r="1.35" fill="none" stroke="#a42ee8" stroke-width="0.9"/>
<circle cx="96.65" cy="314.90" r="1.35" fill="none" stroke="#a42ee8" stroke-width="0.9"/>
<circle cx="100.05" cy="315.92" r="1.35" fill="none" stroke="#a42ee8" stroke-width="0.9"/>
<circle cx="103.45" cy="316.94" r="1.35" fill="none" stroke="#a42ee8" stroke-width="0.9"/>
<circle cx="96.65" cy="317.96" r="1.35" fill="none" stroke="#a42ee8" stroke-width="0.9"/>
<circle cx="103.45" cy="318.98" r="1.35" fill="none" stroke="#a42ee8" stroke-width="0.9"/>
<line x1="100.05" y1="314.08" x2="100.05" y2="316.12" stroke="#a42ee8" stroke-width="0.7"/>
<line x1="98.05" y1="314.08" x2="102.05" y2="314.08" stroke="#a42ee8" stroke-width="0.7"/>
<line x1="98.05" y1="316.12" x2="102.05" y2="316.12" stroke="#a42ee8" stroke-width="0.7"/>
<text x="0" y="2.02" font-size="5.60" text-anchor="middle" fill="#222" stroke="#222" stroke-width="0.12" transform="translate(49.75 287.80) scale(0.92 1)">P&lt;0.0001</text>
<line x1="40.80" y1="291.00" x2="54.10" y2="291.00" stroke="#555" stroke-width="0.6"/>
<text x="0" y="2.02" font-size="5.60" text-anchor="middle" fill="#222" stroke="#222" stroke-width="0.12" transform="translate(83.50 287.80) scale(0.92 1)">P=0.0163</text>
<line x1="56.90" y1="291.00" x2="100.30" y2="291.00" stroke="#555" stroke-width="0.6"/>
<text x="0" y="2.02" font-size="5.60" text-anchor="middle" fill="#222" stroke="#222" stroke-width="0.12" transform="translate(64.20 298.60) scale(0.92 1)">P&lt;0.0001</text>
<line x1="57.30" y1="302.30" x2="70.30" y2="302.30" stroke="#555" stroke-width="0.6"/>
<text x="0" y="2.02" font-size="5.60" text-anchor="middle" fill="#222" stroke="#222" stroke-width="0.12" transform="translate(87.60 298.60) scale(0.92 1)">P&lt;0.0001</text>
<line x1="78.00" y1="302.30" x2="100.30" y2="302.30" stroke="#555" stroke-width="0.6"/>
<text x="0" y="2.02" font-size="5.60" text-anchor="middle" fill="#222" stroke="#222" stroke-width="0.12" transform="translate(77.05 311.60) scale(0.92 1)">P=0.7452</text>
<line x1="72.00" y1="314.40" x2="85.00" y2="314.40" stroke="#555" stroke-width="0.6"/>
<text x="0" y="2.50" font-size="6.94" text-anchor="middle" stroke="#111" stroke-width="0.12" transform="translate(10.80 320.50) rotate(-90) scale(0.92 1)">CSA (μm<tspan font-size="3.6" dy="-2">2</tspan><tspan dy="2">)</tspan></text>
<circle cx="114.10" cy="280.20" r="2.3" fill="none" stroke="#3a3a3a" stroke-width="1.0"/>
<text x="0" y="2.02" font-size="5.60" stroke="#111" stroke-width="0.12" transform="translate(119.80 280.20)">CON</text>
<circle cx="114.10" cy="287.10" r="2.3" fill="none" stroke="#f01818" stroke-width="1.0"/>
<text x="0" y="2.02" font-size="5.60" stroke="#111" stroke-width="0.12" transform="translate(119.80 287.10)">IgG</text>
<circle cx="114.10" cy="293.90" r="2.3" fill="none" stroke="#1818f0" stroke-width="1.0"/>
<text x="0" y="2.02" font-size="5.60" stroke="#111" stroke-width="0.12" transform="translate(119.80 293.90)">αPD-L1</text>
<circle cx="114.10" cy="300.80" r="2.3" fill="none" stroke="#f58a28" stroke-width="1.0"/>
<text x="0" y="2.02" font-size="5.60" stroke="#111" stroke-width="0.12" transform="translate(119.80 300.80)">αPD-L1+ αCD8a</text>
<circle cx="114.10" cy="307.70" r="2.3" fill="none" stroke="#a42ee8" stroke-width="1.0"/>
<text x="0" y="2.02" font-size="5.60" stroke="#111" stroke-width="0.12" transform="translate(119.80 307.70)">αCD8a</text>
<line x1="162.30" y1="285.40" x2="162.30" y2="312.20" stroke="#222" stroke-width="0.7"/>
<text x="0" y="2.26" font-size="6.27" text-anchor="middle" stroke="#111" stroke-width="0.12" transform="translate(166.60 298.80) rotate(90) scale(0.8 1)">TB mice</text>
<text x="0" y="3.06" font-size="8.50" fill="#000" font-weight="bold" stroke="#000" stroke-width="0.12" transform="translate(186.50 277.40)">I</text>
<line x1="221.50" y1="279.70" x2="221.50" y2="361.00" stroke="#333" stroke-width="0.7"/>
<line x1="219.50" y1="279.70" x2="221.50" y2="279.70" stroke="#333" stroke-width="0.7"/>
<text x="0" y="2.18" font-size="6.05" text-anchor="end" fill="#222" stroke="#222" stroke-width="0.12" transform="translate(216.50 279.70) scale(0.92 1)">12</text>
<line x1="219.50" y1="300.02" x2="221.50" y2="300.02" stroke="#333" stroke-width="0.7"/>
<text x="0" y="2.18" font-size="6.05" text-anchor="end" fill="#222" stroke="#222" stroke-width="0.12" transform="translate(216.50 300.02) scale(0.92 1)">9</text>
<line x1="219.50" y1="320.35" x2="221.50" y2="320.35" stroke="#333" stroke-width="0.7"/>
<text x="0" y="2.18" font-size="6.05" text-anchor="end" fill="#222" stroke="#222" stroke-width="0.12" transform="translate(216.50 320.35) scale(0.92 1)">6</text>
<line x1="219.50" y1="340.68" x2="221.50" y2="340.68" stroke="#333" stroke-width="0.7"/>
<text x="0" y="2.18" font-size="6.05" text-anchor="end" fill="#222" stroke="#222" stroke-width="0.12" transform="translate(216.50 340.68) scale(0.92 1)">3</text>
<line x1="219.50" y1="361.00" x2="221.50" y2="361.00" stroke="#333" stroke-width="0.7"/>
<text x="0" y="2.18" font-size="6.05" text-anchor="end" fill="#222" stroke="#222" stroke-width="0.12" transform="translate(216.50 361.00) scale(0.92 1)">0</text>
<line x1="221.50" y1="361.00" x2="299.00" y2="361.00" stroke="#333" stroke-width="0.7"/>
<rect x="226.60" y="325.09" width="9.40" height="35.91" fill="#8f8f8f"/>
<rect x="240.80" y="340.68" width="10.10" height="20.32" fill="#ffbaba"/>
<rect x="255.20" y="313.57" width="9.90" height="47.43" fill="#bebeff"/>
<rect x="269.80" y="327.80" width="9.50" height="33.20" fill="#ffdcc0"/>
<rect x="284.20" y="346.77" width="10.10" height="14.23" fill="#e8c2f8"/>
<circle cx="229.60" cy="316.28" r="1.35" fill="none" stroke="#7a7a7a" stroke-width="0.9"/>
<circle cx="227.90" cy="323.06" r="1.35" fill="none" stroke="#7a7a7a" stroke-width="0.9"/>
<circle cx="234.70" cy="324.42" r="1.35" fill="none" stroke="#7a7a7a" stroke-width="0.9"/>
<circle cx="227.90" cy="325.77" r="1.35" fill="none" stroke="#7a7a7a" stroke-width="0.9"/>
<circle cx="231.30" cy="327.12" r="1.35" fill="none" stroke="#7a7a7a" stroke-width="0.9"/>
<circle cx="234.70" cy="327.80" r="1.35" fill="none" stroke="#7a7a7a" stroke-width="0.9"/>
<line x1="231.30" y1="322.72" x2="231.30" y2="327.46" stroke="#3a3a3a" stroke-width="0.7"/>
<line x1="229.30" y1="322.72" x2="233.30" y2="322.72" stroke="#3a3a3a" stroke-width="0.7"/>
<line x1="229.30" y1="327.46" x2="233.30" y2="327.46" stroke="#3a3a3a" stroke-width="0.7"/>
<circle cx="242.45" cy="333.90" r="1.35" fill="none" stroke="#f01818" stroke-width="0.9"/>
<circle cx="249.25" cy="334.58" r="1.35" fill="none" stroke="#f01818" stroke-width="0.9"/>
<circle cx="244.15" cy="339.32" r="1.35" fill="none" stroke="#f01818" stroke-width="0.9"/>
<circle cx="242.45" cy="342.03" r="1.35" fill="none" stroke="#f01818" stroke-width="0.9"/>
<circle cx="249.25" cy="344.06" r="1.35" fill="none" stroke="#f01818" stroke-width="0.9"/>
<circle cx="245.85" cy="347.45" r="1.35" fill="none" stroke="#f01818" stroke-width="0.9"/>
<line x1="245.85" y1="337.63" x2="245.85" y2="343.72" stroke="#f01818" stroke-width="0.7"/>
<line x1="243.85" y1="337.63" x2="247.85" y2="337.63" stroke="#f01818" stroke-width="0.7"/>
<line x1="243.85" y1="343.72" x2="247.85" y2="343.72" stroke="#f01818" stroke-width="0.7"/>
<circle cx="258.45" cy="300.02" r="1.35" fill="none" stroke="#1818f0" stroke-width="0.9"/>
<circle cx="260.15" cy="303.41" r="1.35" fill="none" stroke="#1818f0" stroke-width="0.9"/>
<circle cx="261.85" cy="310.19" r="1.35" fill="none" stroke="#1818f0" stroke-width="0.9"/>
<circle cx="258.45" cy="321.70" r="1.35" fill="none" stroke="#1818f0" stroke-width="0.9"/>
<circle cx="256.75" cy="325.77" r="1.35" fill="none" stroke="#1818f0" stroke-width="0.9"/>
<circle cx="263.55" cy="325.77" r="1.35" fill="none" stroke="#1818f0" stroke-width="0.9"/>
<line x1="260.15" y1="308.83" x2="260.15" y2="318.32" stroke="#1818f0" stroke-width="0.7"/>
<line x1="258.15" y1="308.83" x2="262.15" y2="308.83" stroke="#1818f0" stroke-width="0.7"/>
<line x1="258.15" y1="318.32" x2="262.15" y2="318.32" stroke="#1818f0" stroke-width="0.7"/>
<circle cx="271.15" cy="321.03" r="1.35" fill="none" stroke="#f58a28" stroke-width="0.9"/>
<circle cx="277.95" cy="322.38" r="1.35" fill="none" stroke="#f58a28" stroke-width="0.9"/>
<circle cx="272.85" cy="327.12" r="1.35" fill="none" stroke="#f58a28" stroke-width="0.9"/>
<circle cx="274.55" cy="329.83" r="1.35" fill="none" stroke="#f58a28" stroke-width="0.9"/>
<circle cx="276.25" cy="332.55" r="1.35" fill="none" stroke="#f58a28" stroke-width="0.9"/>
<line x1="274.55" y1="325.43" x2="274.55" y2="330.17" stroke="#f58a28" stroke-width="0.7"/>
<line x1="272.55" y1="325.43" x2="276.55" y2="325.43" stroke="#f58a28" stroke-width="0.7"/>
<line x1="272.55" y1="330.17" x2="276.55" y2="330.17" stroke="#f58a28" stroke-width="0.7"/>
<circle cx="287.55" cy="339.32" r="1.35" fill="none" stroke="#a42ee8" stroke-width="0.9"/>
<circle cx="285.85" cy="345.42" r="1.35" fill="none" stroke="#a42ee8" stroke-width="0.9"/>
<circle cx="292.65" cy="347.45" r="1.35" fill="none" stroke="#a42ee8" stroke-width="0.9"/>
<circle cx="285.85" cy="348.81" r="1.35" fill="none" stroke="#a42ee8" stroke-width="0.9"/>
<circle cx="289.25" cy="350.16" r="1.35" fill="none" stroke="#a42ee8" stroke-width="0.9"/>
<circle cx="292.65" cy="350.84" r="1.35" fill="none" stroke="#a42ee8" stroke-width="0.9"/>
<line x1="289.25" y1="344.74" x2="289.25" y2="348.81" stroke="#a42ee8" stroke-width="0.7"/>
<line x1="287.25" y1="344.74" x2="291.25" y2="344.74" stroke="#a42ee8" stroke-width="0.7"/>
<line x1="287.25" y1="348.81" x2="291.25" y2="348.81" stroke="#a42ee8" stroke-width="0.7"/>
<line x1="316.50" y1="278.92" x2="316.50" y2="361.00" stroke="#333" stroke-width="0.7"/>
<line x1="314.50" y1="278.92" x2="316.50" y2="278.92" stroke="#333" stroke-width="0.7"/>
<text x="0" y="2.18" font-size="6.05" text-anchor="end" fill="#222" stroke="#222" stroke-width="0.12" transform="translate(311.80 278.92) scale(0.92 1)">8</text>
<line x1="314.50" y1="299.44" x2="316.50" y2="299.44" stroke="#333" stroke-width="0.7"/>
<text x="0" y="2.18" font-size="6.05" text-anchor="end" fill="#222" stroke="#222" stroke-width="0.12" transform="translate(311.80 299.44) scale(0.92 1)">6</text>
<line x1="314.50" y1="319.96" x2="316.50" y2="319.96" stroke="#333" stroke-width="0.7"/>
<text x="0" y="2.18" font-size="6.05" text-anchor="end" fill="#222" stroke="#222" stroke-width="0.12" transform="translate(311.80 319.96) scale(0.92 1)">4</text>
<line x1="314.50" y1="340.48" x2="316.50" y2="340.48" stroke="#333" stroke-width="0.7"/>
<text x="0" y="2.18" font-size="6.05" text-anchor="end" fill="#222" stroke="#222" stroke-width="0.12" transform="translate(311.80 340.48) scale(0.92 1)">2</text>
<line x1="314.50" y1="361.00" x2="316.50" y2="361.00" stroke="#333" stroke-width="0.7"/>
<text x="0" y="2.18" font-size="6.05" text-anchor="end" fill="#222" stroke="#222" stroke-width="0.12" transform="translate(311.80 361.00) scale(0.92 1)">0</text>
<line x1="316.50" y1="361.00" x2="393.70" y2="361.00" stroke="#333" stroke-width="0.7"/>
<rect x="321.20" y="334.32" width="9.70" height="26.68" fill="#8f8f8f"/>
<rect x="335.60" y="323.04" width="9.90" height="37.96" fill="#ffbaba"/>
<rect x="350.00" y="308.67" width="9.90" height="52.33" fill="#bebeff"/>
<rect x="364.20" y="338.43" width="10.10" height="22.57" fill="#ffdcc0"/>
<rect x="378.40" y="348.18" width="10.10" height="12.82" fill="#e8c2f8"/>
<circle cx="324.35" cy="319.96" r="1.35" fill="none" stroke="#7a7a7a" stroke-width="0.9"/>
<circle cx="322.65" cy="334.32" r="1.35" fill="none" stroke="#7a7a7a" stroke-width="0.9"/>
<circle cx="326.05" cy="335.35" r="1.35" fill="none" stroke="#7a7a7a" stroke-width="0.9"/>
<circle cx="329.45" cy="336.38" r="1.35" fill="none" stroke="#7a7a7a" stroke-width="0.9"/>
<circle cx="326.05" cy="340.48" r="1.35" fill="none" stroke="#7a7a7a" stroke-width="0.9"/>
<line x1="326.05" y1="330.22" x2="326.05" y2="338.43" stroke="#3a3a3a" stroke-width="0.7"/>
<line x1="324.05" y1="330.22" x2="328.05" y2="330.22" stroke="#3a3a3a" stroke-width="0.7"/>
<line x1="324.05" y1="338.43" x2="328.05" y2="338.43" stroke="#3a3a3a" stroke-width="0.7"/>
<circle cx="337.15" cy="318.93" r="1.35" fill="none" stroke="#f01818" stroke-width="0.9"/>
<circle cx="340.55" cy="318.93" r="1.35" fill="none" stroke="#f01818" stroke-width="0.9"/>
<circle cx="343.95" cy="319.96" r="1.35" fill="none" stroke="#f01818" stroke-width="0.9"/>
<circle cx="338.85" cy="325.09" r="1.35" fill="none" stroke="#f01818" stroke-width="0.9"/>
<circle cx="340.55" cy="333.30" r="1.35" fill="none" stroke="#f01818" stroke-width="0.9"/>
<line x1="340.55" y1="319.96" x2="340.55" y2="326.12" stroke="#f01818" stroke-width="0.7"/>
<line x1="338.55" y1="319.96" x2="342.55" y2="319.96" stroke="#f01818" stroke-width="0.7"/>
<line x1="338.55" y1="326.12" x2="342.55" y2="326.12" stroke="#f01818" stroke-width="0.7"/>
<circle cx="353.25" cy="295.34" r="1.35" fill="none" stroke="#1818f0" stroke-width="0.9"/>
<circle cx="354.95" cy="298.41" r="1.35" fill="none" stroke="#1818f0" stroke-width="0.9"/>
<circle cx="356.65" cy="304.57" r="1.35" fill="none" stroke="#1818f0" stroke-width="0.9"/>
<circle cx="353.25" cy="311.75" r="1.35" fill="none" stroke="#1818f0" stroke-width="0.9"/>
<circle cx="354.95" cy="325.09" r="1.35" fill="none" stroke="#1818f0" stroke-width="0.9"/>
<line x1="354.95" y1="303.54" x2="354.95" y2="313.80" stroke="#1818f0" stroke-width="0.7"/>
<line x1="352.95" y1="303.54" x2="356.95" y2="303.54" stroke="#1818f0" stroke-width="0.7"/>
<line x1="352.95" y1="313.80" x2="356.95" y2="313.80" stroke="#1818f0" stroke-width="0.7"/>
<circle cx="365.85" cy="334.32" r="1.35" fill="none" stroke="#f58a28" stroke-width="0.9"/>
<circle cx="372.65" cy="335.35" r="1.35" fill="none" stroke="#f58a28" stroke-width="0.9"/>
<circle cx="367.55" cy="337.40" r="1.35" fill="none" stroke="#f58a28" stroke-width="0.9"/>
<circle cx="365.85" cy="342.53" r="1.35" fill="none" stroke="#f58a28" stroke-width="0.9"/>
<circle cx="372.65" cy="344.58" r="1.35" fill="none" stroke="#f58a28" stroke-width="0.9"/>
<line x1="369.25" y1="335.86" x2="369.25" y2="340.99" stroke="#f58a28" stroke-width="0.7"/>
<line x1="367.25" y1="335.86" x2="371.25" y2="335.86" stroke="#f58a28" stroke-width="0.7"/>
<line x1="367.25" y1="340.99" x2="371.25" y2="340.99" stroke="#f58a28" stroke-width="0.7"/>
<circle cx="380.05" cy="346.64" r="1.35" fill="none" stroke="#a42ee8" stroke-width="0.9"/>
<circle cx="383.45" cy="346.64" r="1.35" fill="none" stroke="#a42ee8" stroke-width="0.9"/>
<circle cx="386.85" cy="347.66" r="1.35" fill="none" stroke="#a42ee8" stroke-width="0.9"/>
<circle cx="380.05" cy="348.69" r="1.35" fill="none" stroke="#a42ee8" stroke-width="0.9"/>
<circle cx="386.85" cy="350.74" r="1.35" fill="none" stroke="#a42ee8" stroke-width="0.9"/>
<line x1="383.45" y1="347.15" x2="383.45" y2="349.20" stroke="#a42ee8" stroke-width="0.7"/>
<line x1="381.45" y1="347.15" x2="385.45" y2="347.15" stroke="#a42ee8" stroke-width="0.7"/>
<line x1="381.45" y1="349.20" x2="385.45" y2="349.20" stroke="#a42ee8" stroke-width="0.7"/>
<text x="0" y="2.54" font-size="7.06" text-anchor="middle" stroke="#111" stroke-width="0.12" transform="translate(260.70 365.60) scale(0.92 1)">Tumor</text>
<text x="0" y="2.54" font-size="7.06" text-anchor="middle" stroke="#111" stroke-width="0.12" transform="translate(354.00 365.60) scale(0.92 1)">Muscle</text>
<text x="0" y="2.50" font-size="6.94" text-anchor="middle" stroke="#111" stroke-width="0.12" transform="translate(206.80 320.50) rotate(-90) scale(0.92 1)">% of CD3<tspan font-size="3.6" dy="-2">+</tspan><tspan dy="2">CD8</tspan><tspan font-size="3.6" dy="-2">+</tspan><tspan dy="2">/ CD45</tspan><tspan font-size="3.6" dy="-2">+</tspan></text>
<text x="0" y="2.02" font-size="5.60" text-anchor="middle" fill="#222" stroke="#222" stroke-width="0.12" transform="translate(264.10 282.40) scale(0.92 1)">P=0.1191</text>
<line x1="245.20" y1="285.00" x2="288.50" y2="285.00" stroke="#555" stroke-width="0.6"/>
<text x="0" y="2.02" font-size="5.60" text-anchor="middle" fill="#222" stroke="#222" stroke-width="0.12" transform="translate(250.15 288.90) scale(0.92 1)">P=0.0011</text>
<text x="0" y="2.02" font-size="5.60" text-anchor="middle" fill="#222" stroke="#222" stroke-width="0.12" transform="translate(274.30 288.90) scale(0.92 1)">P=0.0003</text>
<line x1="245.20" y1="291.90" x2="289.00" y2="291.90" stroke="#555" stroke-width="0.6"/>
<text x="0" y="2.02" font-size="5.60" text-anchor="middle" fill="#222" stroke="#222" stroke-width="0.12" transform="translate(267.50 296.50) scale(0.92 1)">P=0.0267</text>
<line x1="260.00" y1="298.60" x2="274.00" y2="298.60" stroke="#555" stroke-width="0.6"/>
<text x="0" y="2.02" font-size="5.60" text-anchor="middle" fill="#222" stroke="#222" stroke-width="0.12" transform="translate(239.10 303.40) scale(0.92 1)">P=0.0014</text>
<line x1="233.00" y1="306.30" x2="246.00" y2="306.30" stroke="#555" stroke-width="0.6"/>
<text x="0" y="2.02" font-size="5.60" text-anchor="middle" fill="#222" stroke="#222" stroke-width="0.12" transform="translate(279.00 308.10) scale(0.92 1)">P=0.0001</text>
<line x1="274.60" y1="310.50" x2="289.40" y2="310.50" stroke="#555" stroke-width="0.6"/>
<text x="0" y="2.02" font-size="5.60" text-anchor="middle" fill="#222" stroke="#222" stroke-width="0.12" transform="translate(359.25 280.30) scale(0.92 1)">P&lt;0.0001</text>
<line x1="339.60" y1="283.20" x2="382.90" y2="283.20" stroke="#555" stroke-width="0.6"/>
<text x="0" y="2.02" font-size="5.60" text-anchor="middle" fill="#222" stroke="#222" stroke-width="0.12" transform="translate(341.35 289.00) scale(0.92 1)">P=0.0408</text>
<line x1="339.60" y1="291.90" x2="352.00" y2="291.90" stroke="#555" stroke-width="0.6"/>
<text x="0" y="2.02" font-size="5.60" text-anchor="middle" fill="#222" stroke="#222" stroke-width="0.12" transform="translate(366.20 289.00) scale(0.92 1)">P=0.0008</text>
<line x1="356.40" y1="291.90" x2="370.30" y2="291.90" stroke="#555" stroke-width="0.6"/>
<text x="0" y="2.02" font-size="5.60" text-anchor="middle" fill="#222" stroke="#222" stroke-width="0.12" transform="translate(333.20 304.10) scale(0.92 1)">P=0.0431</text>
<line x1="326.90" y1="307.00" x2="340.20" y2="307.00" stroke="#555" stroke-width="0.6"/>
<text x="0" y="2.02" font-size="5.60" text-anchor="middle" fill="#222" stroke="#222" stroke-width="0.12" transform="translate(375.45 322.00) scale(0.92 1)">P=0.0028</text>
<line x1="371.10" y1="325.40" x2="385.00" y2="325.40" stroke="#555" stroke-width="0.6"/>
<circle cx="401.30" cy="279.10" r="2.3" fill="none" stroke="#3a3a3a" stroke-width="1.0"/>
<text x="0" y="2.02" font-size="5.60" stroke="#111" stroke-width="0.12" transform="translate(407.00 279.10)">CON</text>
<circle cx="401.30" cy="286.00" r="2.3" fill="none" stroke="#f01818" stroke-width="1.0"/>
<text x="0" y="2.02" font-size="5.60" stroke="#111" stroke-width="0.12" transform="translate(407.00 286.00)">IgG</text>
<circle cx="401.30" cy="292.90" r="2.3" fill="none" stroke="#1818f0" stroke-width="1.0"/>
<text x="0" y="2.02" font-size="5.60" stroke="#111" stroke-width="0.12" transform="translate(407.00 292.90)">αPD-L1</text>
<circle cx="401.30" cy="300.00" r="2.3" fill="none" stroke="#f58a28" stroke-width="1.0"/>
<text x="0" y="2.02" font-size="5.60" stroke="#111" stroke-width="0.12" transform="translate(407.00 300.00)">αPD-L1+ αCD8a</text>
<circle cx="401.30" cy="306.90" r="2.3" fill="none" stroke="#a42ee8" stroke-width="1.0"/>
<text x="0" y="2.02" font-size="5.60" stroke="#111" stroke-width="0.12" transform="translate(407.00 306.90)">αCD8a</text>
<line x1="448.90" y1="283.50" x2="448.90" y2="309.60" stroke="#222" stroke-width="0.7"/>
<text x="0" y="2.26" font-size="6.27" text-anchor="middle" stroke="#111" stroke-width="0.12" transform="translate(454.30 296.55) rotate(90) scale(0.8 1)">TB mice</text>
<text x="0" y="3.06" font-size="8.50" fill="#000" font-weight="bold" stroke="#000" stroke-width="0.12" transform="translate(464.80 227.10)">J</text>
<text x="0" y="2.50" font-size="6.94" stroke="#111" stroke-width="0.12" transform="translate(500.90 221.30) scale(0.92 1)">PCA 13587 genes</text>
<rect x="499.10" y="226.40" width="124.30" height="122.50" fill="#ffffff"/>
<line x1="506.25" y1="226.40" x2="506.25" y2="348.90" stroke="#f4f4f4" stroke-width="0.5"/>
<line x1="537.55" y1="226.40" x2="537.55" y2="348.90" stroke="#f4f4f4" stroke-width="0.5"/>
<line x1="568.85" y1="226.40" x2="568.85" y2="348.90" stroke="#f4f4f4" stroke-width="0.5"/>
<line x1="600.15" y1="226.40" x2="600.15" y2="348.90" stroke="#f4f4f4" stroke-width="0.5"/>
<line x1="499.10" y1="236.10" x2="623.40" y2="236.10" stroke="#f4f4f4" stroke-width="0.5"/>
<line x1="499.10" y1="267.30" x2="623.40" y2="267.30" stroke="#f4f4f4" stroke-width="0.5"/>
<line x1="499.10" y1="298.50" x2="623.40" y2="298.50" stroke="#f4f4f4" stroke-width="0.5"/>
<line x1="499.10" y1="329.70" x2="623.40" y2="329.70" stroke="#f4f4f4" stroke-width="0.5"/>
<line x1="521.90" y1="226.40" x2="521.90" y2="348.90" stroke="#e6e6e6" stroke-width="0.6"/>
<line x1="553.20" y1="226.40" x2="553.20" y2="348.90" stroke="#e6e6e6" stroke-width="0.6"/>
<line x1="584.50" y1="226.40" x2="584.50" y2="348.90" stroke="#e6e6e6" stroke-width="0.6"/>
<line x1="615.80" y1="226.40" x2="615.80" y2="348.90" stroke="#e6e6e6" stroke-width="0.6"/>
<line x1="499.10" y1="251.70" x2="623.40" y2="251.70" stroke="#e6e6e6" stroke-width="0.6"/>
<line x1="499.10" y1="282.90" x2="623.40" y2="282.90" stroke="#e6e6e6" stroke-width="0.6"/>
<line x1="499.10" y1="314.10" x2="623.40" y2="314.10" stroke="#e6e6e6" stroke-width="0.6"/>
<line x1="499.10" y1="345.30" x2="623.40" y2="345.30" stroke="#e6e6e6" stroke-width="0.6"/>
<rect x="499.10" y="226.40" width="124.30" height="122.50" fill="none" stroke="#b5b5b5" stroke-width="0.6"/>
<line x1="497.60" y1="251.70" x2="499.10" y2="251.70" stroke="#555" stroke-width="0.5"/>
<text x="0" y="2.02" font-size="5.60" text-anchor="end" fill="#333" stroke="#333" stroke-width="0.12" transform="translate(496.80 251.70) scale(0.92 1)">0.25</text>
<line x1="497.60" y1="282.90" x2="499.10" y2="282.90" stroke="#555" stroke-width="0.5"/>
<text x="0" y="2.02" font-size="5.60" text-anchor="end" fill="#333" stroke="#333" stroke-width="0.12" transform="translate(496.80 282.90) scale(0.92 1)">0.00</text>
<line x1="497.60" y1="314.10" x2="499.10" y2="314.10" stroke="#555" stroke-width="0.5"/>
<text x="0" y="2.02" font-size="5.60" text-anchor="end" fill="#333" stroke="#333" stroke-width="0.12" transform="translate(496.80 314.10) scale(0.92 1)">-0.25</text>
<line x1="497.60" y1="345.30" x2="499.10" y2="345.30" stroke="#555" stroke-width="0.5"/>
<text x="0" y="2.02" font-size="5.60" text-anchor="end" fill="#333" stroke="#333" stroke-width="0.12" transform="translate(496.80 345.30) scale(0.92 1)">-0.50</text>
<line x1="521.90" y1="348.90" x2="521.90" y2="350.40" stroke="#555" stroke-width="0.5"/>
<text x="0" y="2.02" font-size="5.60" text-anchor="middle" fill="#333" stroke="#333" stroke-width="0.12" transform="translate(521.90 355.00) scale(0.92 1)">-0.2</text>
<line x1="553.20" y1="348.90" x2="553.20" y2="350.40" stroke="#555" stroke-width="0.5"/>
<text x="0" y="2.02" font-size="5.60" text-anchor="middle" fill="#333" stroke="#333" stroke-width="0.12" transform="translate(553.20 355.00) scale(0.92 1)">0.0</text>
<line x1="584.50" y1="348.90" x2="584.50" y2="350.40" stroke="#555" stroke-width="0.5"/>
<text x="0" y="2.02" font-size="5.60" text-anchor="middle" fill="#333" stroke="#333" stroke-width="0.12" transform="translate(584.50 355.00) scale(0.92 1)">0.2</text>
<line x1="615.80" y1="348.90" x2="615.80" y2="350.40" stroke="#555" stroke-width="0.5"/>
<text x="0" y="2.02" font-size="5.60" text-anchor="middle" fill="#333" stroke="#333" stroke-width="0.12" transform="translate(615.80 355.00) scale(0.92 1)">0.4</text>
<text x="0" y="2.50" font-size="6.94" text-anchor="middle" stroke="#111" stroke-width="0.12" transform="translate(476.40 288.00) rotate(-90) scale(0.92 1)">PC2 (10.32%)</text>
<text x="0" y="2.50" font-size="6.94" text-anchor="middle" stroke="#111" stroke-width="0.12" transform="translate(561.50 363.50) scale(0.92 1)">PC1 (54.47%)</text>
<path d="M505.1,260.9 L518.5,263.1 L519.1,270.9 L516.9,308.5 L511.8,287.3Z" fill="none" stroke="#111" stroke-width="0.7"/>
<circle cx="505.1" cy="260.9" r="0.9" fill="#111"/>
<circle cx="518.5" cy="263.1" r="0.9" fill="#111"/>
<circle cx="519.1" cy="270.9" r="0.9" fill="#111"/>
<circle cx="516.9" cy="308.5" r="0.9" fill="#111"/>
<circle cx="511.8" cy="287.3" r="0.9" fill="#111"/>
<path d="M520.5,261.5 L524.0,269.1 L529.1,299.1Z" fill="none" stroke="#9b30f0" stroke-width="0.7"/>
<circle cx="520.5" cy="261.5" r="0.9" fill="#9b30f0"/>
<circle cx="524.0" cy="269.1" r="0.9" fill="#9b30f0"/>
<circle cx="529.1" cy="299.1" r="0.9" fill="#9b30f0"/>
<path d="M608.3,232.5 L617.5,274.8 L582.9,286.0 L598.2,243.9Z" fill="none" stroke="#ee2020" stroke-width="0.7"/>
<circle cx="608.3" cy="232.5" r="0.9" fill="#ee2020"/>
<circle cx="617.5" cy="274.8" r="0.9" fill="#ee2020"/>
<circle cx="582.9" cy="286.0" r="0.9" fill="#ee2020"/>
<circle cx="598.2" cy="243.9" r="0.9" fill="#ee2020"/>
<path d="M600.9,304.7 L576.5,342.3 L566.5,344.4Z" fill="none" stroke="#2020ee" stroke-width="0.7"/>
<circle cx="600.9" cy="304.7" r="0.9" fill="#2020ee"/>
<circle cx="576.5" cy="342.3" r="0.9" fill="#2020ee"/>
<circle cx="566.5" cy="344.4" r="0.9" fill="#2020ee"/>
<circle cx="632.10" cy="231.70" r="1.9" fill="none" stroke="#3a3a3a" stroke-width="0.7"/>
<text x="0" y="2.02" font-size="5.60" stroke="#111" stroke-width="0.12" transform="translate(636.90 231.70) scale(0.92 1)">CON</text>
<circle cx="632.10" cy="238.60" r="1.9" fill="none" stroke="#f01818" stroke-width="0.7"/>
<text x="0" y="2.02" font-size="5.60" stroke="#111" stroke-width="0.12" transform="translate(636.90 238.60) scale(0.92 1)">IgG</text>
<circle cx="632.10" cy="245.60" r="1.9" fill="none" stroke="#1818f0" stroke-width="0.7"/>
<text x="0" y="2.02" font-size="5.60" stroke="#111" stroke-width="0.12" transform="translate(636.90 245.60) scale(0.92 1)">αPD-L1</text>
<circle cx="632.10" cy="252.40" r="1.9" fill="none" stroke="#a42ee8" stroke-width="0.7"/>
<text x="0" y="2.02" font-size="5.60" stroke="#111" stroke-width="0.12" transform="translate(636.90 252.40) scale(0.92 1)">αCD8a</text>
<line x1="657.80" y1="236.50" x2="657.80" y2="255.50" stroke="#222" stroke-width="0.6"/>
<text x="0" y="2.02" font-size="5.60" text-anchor="middle" stroke="#111" stroke-width="0.12" transform="translate(662.30 246.00) rotate(90) scale(0.92 1)">TB mice</text>
<text x="0" y="3.06" font-size="8.50" fill="#000" font-weight="bold" stroke="#000" stroke-width="0.12" transform="translate(7.90 382.50)">K</text>
<text x="0" y="2.42" font-size="6.72" text-anchor="middle" stroke="#111" stroke-width="0.12" transform="translate(113.50 383.20) scale(0.92 1)"><tspan font-weight="bold">IgG-treated TB</tspan> vs CON</text>
<line x1="8.20" y1="388.60" x2="219.60" y2="388.60" stroke="#444" stroke-width="1.0"/>
<text x="0" y="2.42" font-size="6.72" text-anchor="middle" fill="#e8844e" stroke="#e8844e" stroke-width="0.12" transform="translate(59.30 398.60) scale(0.92 1)">Upregulated pathways</text>
<line x1="23.07" y1="404.10" x2="23.07" y2="454.50" stroke="#b4b4b4" stroke-width="0.5"/>
<line x1="39.74" y1="404.10" x2="39.74" y2="454.50" stroke="#b4b4b4" stroke-width="0.5"/>
<line x1="56.40" y1="404.10" x2="56.40" y2="454.50" stroke="#b4b4b4" stroke-width="0.5"/>
<line x1="73.07" y1="404.10" x2="73.07" y2="454.50" stroke="#b4b4b4" stroke-width="0.5"/>
<line x1="89.74" y1="404.10" x2="89.74" y2="454.50" stroke="#b4b4b4" stroke-width="0.5"/>
<line x1="106.41" y1="404.10" x2="106.41" y2="454.50" stroke="#b4b4b4" stroke-width="0.5"/>
<rect x="6.40" y="405.70" width="102.51" height="8.20" fill="#e8916b"/>
<rect x="6.40" y="415.60" width="60.00" height="8.20" fill="#e8916b"/>
<rect x="6.40" y="425.40" width="59.17" height="8.20" fill="#e8916b"/>
<rect x="6.40" y="435.40" width="55.84" height="8.20" fill="#e8916b"/>
<rect x="6.40" y="445.20" width="54.17" height="8.20" fill="#e8916b"/>
<text x="0" y="2.10" font-size="5.82" fill="#1a1a1a" stroke="#1a1a1a" stroke-width="0.12" transform="translate(7.30 410.10) scale(0.9 1)">Ribosome biogenesis</text>
<text x="0" y="2.10" font-size="5.82" fill="#1a1a1a" stroke="#1a1a1a" stroke-width="0.12" transform="translate(7.30 420.00) scale(0.9 1)">Regulation of autophagy</text>
<text x="0" y="2.10" font-size="5.82" fill="#1a1a1a" stroke="#1a1a1a" stroke-width="0.12" transform="translate(7.30 429.80) scale(0.9 1)">Macroautophagy</text>
<text x="0" y="2.10" font-size="5.82" fill="#1a1a1a" stroke="#1a1a1a" stroke-width="0.12" transform="translate(7.30 439.80) scale(0.9 1)">Regulation of apoptosis</text>
<text x="0" y="2.10" font-size="5.82" fill="#1a1a1a" stroke="#1a1a1a" stroke-width="0.12" transform="translate(7.30 449.60) scale(0.9 1)">Nuclear transport</text>
<line x1="6.40" y1="404.10" x2="6.40" y2="454.50" stroke="#333" stroke-width="0.8"/>
<line x1="6.40" y1="454.50" x2="106.41" y2="454.50" stroke="#333" stroke-width="0.8"/>
<line x1="6.40" y1="454.50" x2="6.40" y2="456.00" stroke="#333" stroke-width="0.6"/>
<text x="0" y="2.34" font-size="6.50" text-anchor="middle" fill="#222" stroke="#222" stroke-width="0.12" transform="translate(6.40 463.20) scale(0.86 1)">0</text>
<line x1="23.07" y1="454.50" x2="23.07" y2="456.00" stroke="#333" stroke-width="0.6"/>
<text x="0" y="2.34" font-size="6.50" text-anchor="middle" fill="#222" stroke="#222" stroke-width="0.12" transform="translate(23.07 463.20) scale(0.86 1)">4</text>
<line x1="39.74" y1="454.50" x2="39.74" y2="456.00" stroke="#333" stroke-width="0.6"/>
<text x="0" y="2.34" font-size="6.50" text-anchor="middle" fill="#222" stroke="#222" stroke-width="0.12" transform="translate(39.74 463.20) scale(0.86 1)">8</text>
<line x1="56.40" y1="454.50" x2="56.40" y2="456.00" stroke="#333" stroke-width="0.6"/>
<text x="0" y="2.34" font-size="6.50" text-anchor="middle" fill="#222" stroke="#222" stroke-width="0.12" transform="translate(56.40 463.20) scale(0.86 1)">12</text>
<line x1="73.07" y1="454.50" x2="73.07" y2="456.00" stroke="#333" stroke-width="0.6"/>
<text x="0" y="2.34" font-size="6.50" text-anchor="middle" fill="#222" stroke="#222" stroke-width="0.12" transform="translate(73.07 463.20) scale(0.86 1)">16</text>
<line x1="89.74" y1="454.50" x2="89.74" y2="456.00" stroke="#333" stroke-width="0.6"/>
<text x="0" y="2.34" font-size="6.50" text-anchor="middle" fill="#222" stroke="#222" stroke-width="0.12" transform="translate(89.74 463.20) scale(0.86 1)">20</text>
<line x1="106.41" y1="454.50" x2="106.41" y2="456.00" stroke="#333" stroke-width="0.6"/>
<text x="0" y="2.34" font-size="6.50" text-anchor="middle" fill="#222" stroke="#222" stroke-width="0.12" transform="translate(106.41 463.20) scale(0.86 1)">24</text>
<text x="0" y="2.42" font-size="6.72" text-anchor="middle" stroke="#111" stroke-width="0.12" transform="translate(58.60 471.40) scale(0.92 1)">-Log<tspan font-size="3.6" dy="1.5">10</tspan><tspan dy="-1.5"> FDR</tspan></text>
<text x="0" y="2.42" font-size="6.72" text-anchor="middle" fill="#4a72cc" stroke="#4a72cc" stroke-width="0.12" transform="translate(167.50 398.10) scale(0.92 1)">Downregulated pathways</text>
<line x1="131.92" y1="403.80" x2="131.92" y2="454.50" stroke="#b4b4b4" stroke-width="0.5"/>
<line x1="147.53" y1="403.80" x2="147.53" y2="454.50" stroke="#b4b4b4" stroke-width="0.5"/>
<line x1="163.15" y1="403.80" x2="163.15" y2="454.50" stroke="#b4b4b4" stroke-width="0.5"/>
<line x1="178.76" y1="403.80" x2="178.76" y2="454.50" stroke="#b4b4b4" stroke-width="0.5"/>
<line x1="194.38" y1="403.80" x2="194.38" y2="454.50" stroke="#b4b4b4" stroke-width="0.5"/>
<line x1="210.00" y1="403.80" x2="210.00" y2="454.50" stroke="#b4b4b4" stroke-width="0.5"/>
<rect x="116.30" y="405.50" width="102.68" height="8.20" fill="#a2bbe8"/>
<rect x="116.30" y="415.70" width="59.73" height="8.20" fill="#a2bbe8"/>
<rect x="116.30" y="425.80" width="33.57" height="8.20" fill="#a2bbe8"/>
<rect x="116.30" y="435.60" width="31.62" height="8.20" fill="#a2bbe8"/>
<rect x="116.30" y="445.70" width="31.62" height="8.20" fill="#a2bbe8"/>
<text x="0" y="2.10" font-size="5.82" fill="#1a1a1a" stroke="#1a1a1a" stroke-width="0.12" transform="translate(117.20 409.90) scale(0.9 1)">Extracellular matrix organization</text>
<text x="0" y="2.10" font-size="5.82" fill="#1a1a1a" stroke="#1a1a1a" stroke-width="0.12" transform="translate(117.20 420.10) scale(0.9 1)">Collagen fibril organization</text>
<text x="0" y="2.10" font-size="5.82" fill="#1a1a1a" stroke="#1a1a1a" stroke-width="0.12" transform="translate(117.20 430.20) scale(0.9 1)">Positive regulation of cell activation</text>
<text x="0" y="2.10" font-size="5.82" fill="#1a1a1a" stroke="#1a1a1a" stroke-width="0.12" transform="translate(117.20 440.00) scale(0.9 1)">Response to interferon-beta</text>
<text x="0" y="2.10" font-size="5.82" fill="#1a1a1a" stroke="#1a1a1a" stroke-width="0.12" transform="translate(117.20 450.10) scale(0.9 1)">Positive regulation of leukocyte activation</text>
<line x1="116.30" y1="403.80" x2="116.30" y2="454.50" stroke="#333" stroke-width="0.8"/>
<line x1="116.30" y1="454.50" x2="210.00" y2="454.50" stroke="#333" stroke-width="0.8"/>
<line x1="116.30" y1="454.50" x2="116.30" y2="456.00" stroke="#333" stroke-width="0.6"/>
<text x="0" y="2.34" font-size="6.50" text-anchor="middle" fill="#222" stroke="#222" stroke-width="0.12" transform="translate(116.30 463.20) scale(0.86 1)">0</text>
<line x1="131.92" y1="454.50" x2="131.92" y2="456.00" stroke="#333" stroke-width="0.6"/>
<text x="0" y="2.34" font-size="6.50" text-anchor="middle" fill="#222" stroke="#222" stroke-width="0.12" transform="translate(131.92 463.20) scale(0.86 1)">4</text>
<line x1="147.53" y1="454.50" x2="147.53" y2="456.00" stroke="#333" stroke-width="0.6"/>
<text x="0" y="2.34" font-size="6.50" text-anchor="middle" fill="#222" stroke="#222" stroke-width="0.12" transform="translate(147.53 463.20) scale(0.86 1)">8</text>
<line x1="163.15" y1="454.50" x2="163.15" y2="456.00" stroke="#333" stroke-width="0.6"/>
<text x="0" y="2.34" font-size="6.50" text-anchor="middle" fill="#222" stroke="#222" stroke-width="0.12" transform="translate(163.15 463.20) scale(0.86 1)">12</text>
<line x1="178.76" y1="454.50" x2="178.76" y2="456.00" stroke="#333" stroke-width="0.6"/>
<text x="0" y="2.34" font-size="6.50" text-anchor="middle" fill="#222" stroke="#222" stroke-width="0.12" transform="translate(178.76 463.20) scale(0.86 1)">16</text>
<line x1="194.38" y1="454.50" x2="194.38" y2="456.00" stroke="#333" stroke-width="0.6"/>
<text x="0" y="2.34" font-size="6.50" text-anchor="middle" fill="#222" stroke="#222" stroke-width="0.12" transform="translate(194.38 463.20) scale(0.86 1)">20</text>
<line x1="210.00" y1="454.50" x2="210.00" y2="456.00" stroke="#333" stroke-width="0.6"/>
<text x="0" y="2.34" font-size="6.50" text-anchor="middle" fill="#222" stroke="#222" stroke-width="0.12" transform="translate(210.00 463.20) scale(0.86 1)">24</text>
<text x="0" y="2.42" font-size="6.72" text-anchor="middle" stroke="#111" stroke-width="0.12" transform="translate(164.80 471.30) scale(0.92 1)">-Log<tspan font-size="3.6" dy="1.5">10</tspan><tspan dy="-1.5"> FDR</tspan></text>
<text x="0" y="3.06" font-size="8.50" fill="#000" font-weight="bold" stroke="#000" stroke-width="0.12" transform="translate(244.40 382.50)">L</text>
<text x="0" y="2.42" font-size="6.72" text-anchor="middle" stroke="#111" stroke-width="0.12" transform="translate(347.20 383.20) scale(0.92 1)"><tspan font-weight="bold">αPD-L1</tspan> vs IgG</text>
<line x1="241.10" y1="388.60" x2="451.80" y2="388.60" stroke="#444" stroke-width="1.0"/>
<text x="0" y="2.42" font-size="6.72" text-anchor="middle" fill="#e8844e" stroke="#e8844e" stroke-width="0.12" transform="translate(292.00 398.80) scale(0.92 1)">Upregulated pathways</text>
<line x1="253.68" y1="402.40" x2="253.68" y2="455.30" stroke="#b4b4b4" stroke-width="0.5"/>
<line x1="265.95" y1="402.40" x2="265.95" y2="455.30" stroke="#b4b4b4" stroke-width="0.5"/>
<line x1="278.23" y1="402.40" x2="278.23" y2="455.30" stroke="#b4b4b4" stroke-width="0.5"/>
<line x1="290.50" y1="402.40" x2="290.50" y2="455.30" stroke="#b4b4b4" stroke-width="0.5"/>
<line x1="302.78" y1="402.40" x2="302.78" y2="455.30" stroke="#b4b4b4" stroke-width="0.5"/>
<line x1="315.06" y1="402.40" x2="315.06" y2="455.30" stroke="#b4b4b4" stroke-width="0.5"/>
<line x1="327.33" y1="402.40" x2="327.33" y2="455.30" stroke="#b4b4b4" stroke-width="0.5"/>
<line x1="339.61" y1="402.40" x2="339.61" y2="455.30" stroke="#b4b4b4" stroke-width="0.5"/>
<rect x="241.40" y="404.40" width="99.44" height="8.20" fill="#e8916b"/>
<rect x="241.40" y="414.70" width="79.49" height="8.20" fill="#e8916b"/>
<rect x="241.40" y="424.90" width="79.49" height="8.20" fill="#e8916b"/>
<rect x="241.40" y="435.00" width="79.49" height="8.20" fill="#e8916b"/>
<rect x="241.40" y="445.30" width="75.19" height="8.20" fill="#e8916b"/>
<text x="0" y="2.10" font-size="5.82" fill="#1a1a1a" stroke="#1a1a1a" stroke-width="0.12" transform="translate(242.30 408.80) scale(0.9 1)">Leukocyte migration</text>
<text x="0" y="2.10" font-size="5.82" fill="#1a1a1a" stroke="#1a1a1a" stroke-width="0.12" transform="translate(242.30 419.10) scale(0.9 1)">Myeloid leukocyte migration</text>
<text x="0" y="2.10" font-size="5.82" fill="#1a1a1a" stroke="#1a1a1a" stroke-width="0.12" transform="translate(242.30 429.30) scale(0.9 1)">Leukocyte chemotaxis</text>
<text x="0" y="2.10" font-size="5.82" fill="#1a1a1a" stroke="#1a1a1a" stroke-width="0.12" transform="translate(242.30 439.40) scale(0.9 1)">Phagocytosis</text>
<text x="0" y="2.10" font-size="5.82" fill="#1a1a1a" stroke="#1a1a1a" stroke-width="0.12" transform="translate(242.30 449.70) scale(0.9 1)">Cell chemotaxis</text>
<line x1="241.40" y1="402.40" x2="241.40" y2="455.30" stroke="#333" stroke-width="0.8"/>
<line x1="241.40" y1="455.30" x2="339.61" y2="455.30" stroke="#333" stroke-width="0.8"/>
<line x1="241.40" y1="455.30" x2="241.40" y2="456.80" stroke="#333" stroke-width="0.6"/>
<text x="0" y="2.34" font-size="6.50" text-anchor="middle" fill="#222" stroke="#222" stroke-width="0.12" transform="translate(241.40 463.20) scale(0.86 1)">0</text>
<line x1="253.68" y1="455.30" x2="253.68" y2="456.80" stroke="#333" stroke-width="0.6"/>
<text x="0" y="2.34" font-size="6.50" text-anchor="middle" fill="#222" stroke="#222" stroke-width="0.12" transform="translate(253.68 463.20) scale(0.86 1)">4</text>
<line x1="265.95" y1="455.30" x2="265.95" y2="456.80" stroke="#333" stroke-width="0.6"/>
<text x="0" y="2.34" font-size="6.50" text-anchor="middle" fill="#222" stroke="#222" stroke-width="0.12" transform="translate(265.95 463.20) scale(0.86 1)">8</text>
<line x1="278.23" y1="455.30" x2="278.23" y2="456.80" stroke="#333" stroke-width="0.6"/>
<text x="0" y="2.34" font-size="6.50" text-anchor="middle" fill="#222" stroke="#222" stroke-width="0.12" transform="translate(278.23 463.20) scale(0.86 1)">12</text>
<line x1="290.50" y1="455.30" x2="290.50" y2="456.80" stroke="#333" stroke-width="0.6"/>
<text x="0" y="2.34" font-size="6.50" text-anchor="middle" fill="#222" stroke="#222" stroke-width="0.12" transform="translate(290.50 463.20) scale(0.86 1)">16</text>
<line x1="302.78" y1="455.30" x2="302.78" y2="456.80" stroke="#333" stroke-width="0.6"/>
<text x="0" y="2.34" font-size="6.50" text-anchor="middle" fill="#222" stroke="#222" stroke-width="0.12" transform="translate(302.78 463.20) scale(0.86 1)">20</text>
<line x1="315.06" y1="455.30" x2="315.06" y2="456.80" stroke="#333" stroke-width="0.6"/>
<text x="0" y="2.34" font-size="6.50" text-anchor="middle" fill="#222" stroke="#222" stroke-width="0.12" transform="translate(315.06 463.20) scale(0.86 1)">24</text>
<line x1="327.33" y1="455.30" x2="327.33" y2="456.80" stroke="#333" stroke-width="0.6"/>
<text x="0" y="2.34" font-size="6.50" text-anchor="middle" fill="#222" stroke="#222" stroke-width="0.12" transform="translate(327.33 463.20) scale(0.86 1)">28</text>
<line x1="339.61" y1="455.30" x2="339.61" y2="456.80" stroke="#333" stroke-width="0.6"/>
<text x="0" y="2.34" font-size="6.50" text-anchor="middle" fill="#222" stroke="#222" stroke-width="0.12" transform="translate(339.61 463.20) scale(0.86 1)">32</text>
<text x="0" y="2.42" font-size="6.72" text-anchor="middle" stroke="#111" stroke-width="0.12" transform="translate(290.70 471.20) scale(0.92 1)">-Log<tspan font-size="3.6" dy="1.5">10</tspan><tspan dy="-1.5"> FDR</tspan></text>
<text x="0" y="2.42" font-size="6.72" text-anchor="middle" fill="#4a72cc" stroke="#4a72cc" stroke-width="0.12" transform="translate(397.20 398.50) scale(0.92 1)">Downregulated pathways</text>
<line x1="364.68" y1="401.50" x2="364.68" y2="455.30" stroke="#b4b4b4" stroke-width="0.5"/>
<line x1="379.66" y1="401.50" x2="379.66" y2="455.30" stroke="#b4b4b4" stroke-width="0.5"/>
<line x1="394.64" y1="401.50" x2="394.64" y2="455.30" stroke="#b4b4b4" stroke-width="0.5"/>
<line x1="409.62" y1="401.50" x2="409.62" y2="455.30" stroke="#b4b4b4" stroke-width="0.5"/>
<line x1="424.60" y1="401.50" x2="424.60" y2="455.30" stroke="#b4b4b4" stroke-width="0.5"/>
<rect x="349.70" y="404.10" width="70.86" height="8.20" fill="#a2bbe8"/>
<rect x="349.70" y="414.30" width="69.96" height="8.20" fill="#a2bbe8"/>
<rect x="349.70" y="424.60" width="64.86" height="8.20" fill="#a2bbe8"/>
<rect x="349.70" y="435.00" width="64.56" height="8.20" fill="#a2bbe8"/>
<rect x="349.70" y="445.40" width="63.96" height="8.20" fill="#a2bbe8"/>
<text x="0" y="2.10" font-size="5.82" fill="#1a1a1a" stroke="#1a1a1a" stroke-width="0.12" transform="translate(350.60 408.50) scale(0.9 1)">Actomyosin structure organization</text>
<text x="0" y="2.10" font-size="5.82" fill="#1a1a1a" stroke="#1a1a1a" stroke-width="0.12" transform="translate(350.60 418.70) scale(0.9 1)">Striated muscle cell development</text>
<text x="0" y="2.10" font-size="5.82" fill="#1a1a1a" stroke="#1a1a1a" stroke-width="0.12" transform="translate(350.60 429.00) scale(0.9 1)">Ribonucleoprotein complex biogenesis</text>
<text x="0" y="2.10" font-size="5.82" fill="#1a1a1a" stroke="#1a1a1a" stroke-width="0.12" transform="translate(350.60 439.40) scale(0.9 1)">Cardiac myofibril assembly</text>
<text x="0" y="2.10" font-size="5.82" fill="#1a1a1a" stroke="#1a1a1a" stroke-width="0.12" transform="translate(350.60 449.80) scale(0.9 1)">Non-membrane-bounded organelle assembly</text>
<line x1="349.70" y1="401.50" x2="349.70" y2="455.30" stroke="#333" stroke-width="0.8"/>
<line x1="349.70" y1="455.30" x2="424.60" y2="455.30" stroke="#333" stroke-width="0.8"/>
<line x1="349.70" y1="455.30" x2="349.70" y2="456.80" stroke="#333" stroke-width="0.6"/>
<text x="0" y="2.34" font-size="6.50" text-anchor="middle" fill="#222" stroke="#222" stroke-width="0.12" transform="translate(349.70 462.20) scale(0.86 1)">0</text>
<line x1="364.68" y1="455.30" x2="364.68" y2="456.80" stroke="#333" stroke-width="0.6"/>
<text x="0" y="2.34" font-size="6.50" text-anchor="middle" fill="#222" stroke="#222" stroke-width="0.12" transform="translate(364.68 462.20) scale(0.86 1)">1</text>
<line x1="379.66" y1="455.30" x2="379.66" y2="456.80" stroke="#333" stroke-width="0.6"/>
<text x="0" y="2.34" font-size="6.50" text-anchor="middle" fill="#222" stroke="#222" stroke-width="0.12" transform="translate(379.66 462.20) scale(0.86 1)">2</text>
<line x1="394.64" y1="455.30" x2="394.64" y2="456.80" stroke="#333" stroke-width="0.6"/>
<text x="0" y="2.34" font-size="6.50" text-anchor="middle" fill="#222" stroke="#222" stroke-width="0.12" transform="translate(394.64 462.20) scale(0.86 1)">3</text>
<line x1="409.62" y1="455.30" x2="409.62" y2="456.80" stroke="#333" stroke-width="0.6"/>
<text x="0" y="2.34" font-size="6.50" text-anchor="middle" fill="#222" stroke="#222" stroke-width="0.12" transform="translate(409.62 462.20) scale(0.86 1)">4</text>
<line x1="424.60" y1="455.30" x2="424.60" y2="456.80" stroke="#333" stroke-width="0.6"/>
<text x="0" y="2.34" font-size="6.50" text-anchor="middle" fill="#222" stroke="#222" stroke-width="0.12" transform="translate(424.60 462.20) scale(0.86 1)">5</text>
<text x="0" y="2.42" font-size="6.72" text-anchor="middle" stroke="#111" stroke-width="0.12" transform="translate(386.80 471.40) scale(0.92 1)">-Log<tspan font-size="3.6" dy="1.5">10</tspan><tspan dy="-1.5"> FDR</tspan></text>
<text x="0" y="3.06" font-size="8.50" fill="#000" font-weight="bold" stroke="#000" stroke-width="0.12" transform="translate(475.20 382.50)">M</text>
<text x="0" y="2.42" font-size="6.72" text-anchor="middle" stroke="#111" stroke-width="0.12" transform="translate(577.10 383.20) scale(0.92 1)"><tspan font-weight="bold">αCD8a</tspan> vs IgG</text>
<line x1="469.70" y1="388.60" x2="680.80" y2="388.60" stroke="#444" stroke-width="1.0"/>
<text x="0" y="2.42" font-size="6.72" text-anchor="middle" fill="#e8844e" stroke="#e8844e" stroke-width="0.12" transform="translate(521.50 398.80) scale(0.92 1)">Upregulated pathways</text>
<line x1="495.50" y1="403.30" x2="495.50" y2="456.20" stroke="#b4b4b4" stroke-width="0.5"/>
<line x1="520.60" y1="403.30" x2="520.60" y2="456.20" stroke="#b4b4b4" stroke-width="0.5"/>
<line x1="545.70" y1="403.30" x2="545.70" y2="456.20" stroke="#b4b4b4" stroke-width="0.5"/>
<line x1="570.80" y1="403.30" x2="570.80" y2="456.20" stroke="#b4b4b4" stroke-width="0.5"/>
<rect x="470.40" y="405.20" width="99.77" height="8.20" fill="#e8916b"/>
<rect x="470.40" y="415.30" width="99.77" height="8.20" fill="#e8916b"/>
<rect x="470.40" y="425.30" width="99.77" height="8.20" fill="#e8916b"/>
<rect x="470.40" y="435.70" width="73.42" height="8.20" fill="#e8916b"/>
<rect x="470.40" y="445.70" width="70.66" height="8.20" fill="#e8916b"/>
<text x="0" y="2.10" font-size="5.82" fill="#1a1a1a" stroke="#1a1a1a" stroke-width="0.12" transform="translate(471.30 409.60) scale(0.9 1)">Extracellular structure organization</text>
<text x="0" y="2.10" font-size="5.82" fill="#1a1a1a" stroke="#1a1a1a" stroke-width="0.12" transform="translate(471.30 419.70) scale(0.9 1)">External encapsulating structure organization</text>
<text x="0" y="2.10" font-size="5.82" fill="#1a1a1a" stroke="#1a1a1a" stroke-width="0.12" transform="translate(471.30 429.70) scale(0.9 1)">Extracellular matrix organization</text>
<text x="0" y="2.10" font-size="5.82" fill="#1a1a1a" stroke="#1a1a1a" stroke-width="0.12" transform="translate(471.30 440.10) scale(0.9 1)">Muscle system process</text>
<text x="0" y="2.10" font-size="5.82" fill="#1a1a1a" stroke="#1a1a1a" stroke-width="0.12" transform="translate(471.30 450.10) scale(0.9 1)">Collagen  fibril organization</text>
<line x1="470.40" y1="403.30" x2="470.40" y2="456.20" stroke="#333" stroke-width="0.8"/>
<line x1="470.40" y1="456.20" x2="570.80" y2="456.20" stroke="#333" stroke-width="0.8"/>
<line x1="470.40" y1="456.20" x2="470.40" y2="457.70" stroke="#333" stroke-width="0.6"/>
<text x="0" y="2.34" font-size="6.50" text-anchor="middle" fill="#222" stroke="#222" stroke-width="0.12" transform="translate(470.40 463.50) scale(0.86 1)">0</text>
<line x1="495.50" y1="456.20" x2="495.50" y2="457.70" stroke="#333" stroke-width="0.6"/>
<text x="0" y="2.34" font-size="6.50" text-anchor="middle" fill="#222" stroke="#222" stroke-width="0.12" transform="translate(495.50 463.50) scale(0.86 1)">2</text>
<line x1="520.60" y1="456.20" x2="520.60" y2="457.70" stroke="#333" stroke-width="0.6"/>
<text x="0" y="2.34" font-size="6.50" text-anchor="middle" fill="#222" stroke="#222" stroke-width="0.12" transform="translate(520.60 463.50) scale(0.86 1)">4</text>
<line x1="545.70" y1="456.20" x2="545.70" y2="457.70" stroke="#333" stroke-width="0.6"/>
<text x="0" y="2.34" font-size="6.50" text-anchor="middle" fill="#222" stroke="#222" stroke-width="0.12" transform="translate(545.70 463.50) scale(0.86 1)">6</text>
<line x1="570.80" y1="456.20" x2="570.80" y2="457.70" stroke="#333" stroke-width="0.6"/>
<text x="0" y="2.34" font-size="6.50" text-anchor="middle" fill="#222" stroke="#222" stroke-width="0.12" transform="translate(570.80 463.50) scale(0.86 1)">8</text>
<text x="0" y="2.42" font-size="6.72" text-anchor="middle" stroke="#111" stroke-width="0.12" transform="translate(520.30 471.20) scale(0.92 1)">-Log<tspan font-size="3.6" dy="1.5">10</tspan><tspan dy="-1.5"> FDR</tspan></text>
<text x="0" y="2.42" font-size="6.72" text-anchor="middle" fill="#4a72cc" stroke="#4a72cc" stroke-width="0.12" transform="translate(632.30 398.80) scale(0.92 1)">Downregulated pathways</text>
<line x1="598.15" y1="403.30" x2="598.15" y2="455.30" stroke="#b4b4b4" stroke-width="0.5"/>
<line x1="614.80" y1="403.30" x2="614.80" y2="455.30" stroke="#b4b4b4" stroke-width="0.5"/>
<line x1="631.45" y1="403.30" x2="631.45" y2="455.30" stroke="#b4b4b4" stroke-width="0.5"/>
<line x1="648.10" y1="403.30" x2="648.10" y2="455.30" stroke="#b4b4b4" stroke-width="0.5"/>
<line x1="664.75" y1="403.30" x2="664.75" y2="455.30" stroke="#b4b4b4" stroke-width="0.5"/>
<line x1="681.40" y1="403.30" x2="681.40" y2="455.30" stroke="#b4b4b4" stroke-width="0.5"/>
<rect x="581.50" y="405.20" width="97.57" height="8.20" fill="#a2bbe8"/>
<rect x="581.50" y="415.30" width="87.58" height="8.20" fill="#a2bbe8"/>
<rect x="581.50" y="425.30" width="86.25" height="8.20" fill="#a2bbe8"/>
<rect x="581.50" y="435.70" width="72.93" height="8.20" fill="#a2bbe8"/>
<rect x="581.50" y="445.70" width="69.26" height="8.20" fill="#a2bbe8"/>
<text x="0" y="2.10" font-size="5.82" fill="#1a1a1a" stroke="#1a1a1a" stroke-width="0.12" transform="translate(582.40 409.60) scale(0.9 1)">Ribonucleoprotein complex biogenesis</text>
<text x="0" y="2.10" font-size="5.82" fill="#1a1a1a" stroke="#1a1a1a" stroke-width="0.12" transform="translate(582.40 419.70) scale(0.9 1)">mRNA processing</text>
<text x="0" y="2.10" font-size="5.82" fill="#1a1a1a" stroke="#1a1a1a" stroke-width="0.12" transform="translate(582.40 429.70) scale(0.9 1)">Ribosome biogenesis</text>
<text x="0" y="2.10" font-size="5.82" fill="#1a1a1a" stroke="#1a1a1a" stroke-width="0.12" transform="translate(582.40 440.10) scale(0.9 1)">RNA splicing</text>
<text x="0" y="2.10" font-size="5.82" fill="#1a1a1a" stroke="#1a1a1a" stroke-width="0.12" transform="translate(582.40 450.10) scale(0.9 1)">rRNA processing</text>
<line x1="581.50" y1="403.30" x2="581.50" y2="455.30" stroke="#333" stroke-width="0.8"/>
<line x1="581.50" y1="455.30" x2="681.40" y2="455.30" stroke="#333" stroke-width="0.8"/>
<line x1="581.50" y1="455.30" x2="581.50" y2="456.80" stroke="#333" stroke-width="0.6"/>
<text x="0" y="2.34" font-size="6.50" text-anchor="middle" fill="#222" stroke="#222" stroke-width="0.12" transform="translate(581.50 463.50) scale(0.86 1)">0</text>
<line x1="598.15" y1="455.30" x2="598.15" y2="456.80" stroke="#333" stroke-width="0.6"/>
<text x="0" y="2.34" font-size="6.50" text-anchor="middle" fill="#222" stroke="#222" stroke-width="0.12" transform="translate(598.15 463.50) scale(0.86 1)">5</text>
<line x1="614.80" y1="455.30" x2="614.80" y2="456.80" stroke="#333" stroke-width="0.6"/>
<text x="0" y="2.34" font-size="6.50" text-anchor="middle" fill="#222" stroke="#222" stroke-width="0.12" transform="translate(614.80 463.50) scale(0.86 1)">10</text>
<line x1="631.45" y1="455.30" x2="631.45" y2="456.80" stroke="#333" stroke-width="0.6"/>
<text x="0" y="2.34" font-size="6.50" text-anchor="middle" fill="#222" stroke="#222" stroke-width="0.12" transform="translate(631.45 463.50) scale(0.86 1)">15</text>
<line x1="648.10" y1="455.30" x2="648.10" y2="456.80" stroke="#333" stroke-width="0.6"/>
<text x="0" y="2.34" font-size="6.50" text-anchor="middle" fill="#222" stroke="#222" stroke-width="0.12" transform="translate(648.10 463.50) scale(0.86 1)">20</text>
<line x1="664.75" y1="455.30" x2="664.75" y2="456.80" stroke="#333" stroke-width="0.6"/>
<text x="0" y="2.34" font-size="6.50" text-anchor="middle" fill="#222" stroke="#222" stroke-width="0.12" transform="translate(664.75 463.50) scale(0.86 1)">25</text>
<line x1="681.40" y1="455.30" x2="681.40" y2="456.80" stroke="#333" stroke-width="0.6"/>
<text x="0" y="2.34" font-size="6.50" text-anchor="middle" fill="#222" stroke="#222" stroke-width="0.12" transform="translate(681.40 463.50) scale(0.86 1)">30</text>
<text x="0" y="2.42" font-size="6.72" text-anchor="middle" stroke="#111" stroke-width="0.12" transform="translate(631.50 471.20) scale(0.92 1)">-Log<tspan font-size="3.6" dy="1.5">10</tspan><tspan dy="-1.5"> FDR</tspan></text>
<text x="0" y="3.06" font-size="8.50" fill="#000" font-weight="bold" stroke="#000" stroke-width="0.12" transform="translate(8.00 492.20)">N</text>
<text x="0" y="2.50" font-size="6.94" text-anchor="middle" stroke="#111" stroke-width="0.12" transform="translate(117.30 520.70) scale(0.92 1)">TB mice</text>
<line x1="64.40" y1="526.40" x2="166.50" y2="526.40" stroke="#333" stroke-width="0.7"/>
<text x="0" y="2.62" font-size="7.28" text-anchor="middle" stroke="#111" stroke-width="0.12" transform="translate(43.70 531.60) scale(0.92 1)">CON</text>
<line x1="27.90" y1="537.10" x2="58.30" y2="537.10" stroke="#777" stroke-width="0.9"/>
<text x="0" y="2.62" font-size="7.28" text-anchor="middle" stroke="#111" stroke-width="0.12" transform="translate(80.50 531.60) scale(0.92 1)">IgG</text>
<line x1="64.70" y1="537.10" x2="95.20" y2="537.10" stroke="#777" stroke-width="0.9"/>
<text x="0" y="2.62" font-size="7.28" text-anchor="middle" stroke="#111" stroke-width="0.12" transform="translate(112.00 531.60) scale(0.92 1)">αPD-L1</text>
<line x1="98.90" y1="537.10" x2="129.70" y2="537.10" stroke="#777" stroke-width="0.9"/>
<text x="0" y="2.62" font-size="7.28" text-anchor="middle" stroke="#111" stroke-width="0.12" transform="translate(151.50 531.60) scale(0.92 1)">αCD8a</text>
<line x1="135.70" y1="537.10" x2="166.50" y2="537.10" stroke="#777" stroke-width="0.9"/>
<rect x="24.90" y="539.40" width="145.50" height="15.20" fill="#f9f9f9" stroke="#555" stroke-width="0.9"/>
<rect x="24.90" y="555.60" width="145.50" height="21.50" fill="#f9f9f9" stroke="#555" stroke-width="0.9"/>
<rect x="24.90" y="579.20" width="145.50" height="15.20" fill="#f9f9f9" stroke="#555" stroke-width="0.9"/>
<rect x="30.8" y="544.8" width="13.6" height="4.0" rx="2.0" fill="#000" opacity="0.14" filter="url(#bl)"/>
<rect x="30.8" y="561.3" width="13.6" height="3.4" rx="1.7" fill="#000" opacity="0.04" filter="url(#bl)"/>
<rect x="30.8" y="567.7" width="13.6" height="4.6" rx="2.3" fill="#000" opacity="0.22" filter="url(#bl)"/>
<rect x="31.1" y="588.1" width="13.0" height="2.4" rx="1.2" fill="#000" opacity="1.00" filter="url(#bl2)"/>
<rect x="47.2" y="544.8" width="13.6" height="4.0" rx="2.0" fill="#000" opacity="0.12" filter="url(#bl)"/>
<rect x="47.2" y="561.3" width="13.6" height="3.4" rx="1.7" fill="#000" opacity="0.16" filter="url(#bl)"/>
<rect x="47.2" y="567.7" width="13.6" height="4.6" rx="2.3" fill="#000" opacity="0.15" filter="url(#bl)"/>
<rect x="47.5" y="588.1" width="13.0" height="2.4" rx="1.2" fill="#000" opacity="0.85" filter="url(#bl2)"/>
<rect x="64.7" y="544.8" width="13.6" height="4.0" rx="2.0" fill="#000" opacity="0.62" filter="url(#bl)"/>
<rect x="64.7" y="561.3" width="13.6" height="3.4" rx="1.7" fill="#000" opacity="0.62" filter="url(#bl)"/>
<rect x="64.7" y="567.7" width="13.6" height="4.6" rx="2.3" fill="#000" opacity="0.72" filter="url(#bl)"/>
<rect x="65.0" y="588.1" width="13.0" height="2.4" rx="1.2" fill="#000" opacity="0.85" filter="url(#bl2)"/>
<rect x="82.2" y="544.8" width="13.6" height="4.0" rx="2.0" fill="#000" opacity="0.55" filter="url(#bl)"/>
<rect x="82.2" y="561.3" width="13.6" height="3.4" rx="1.7" fill="#000" opacity="0.70" filter="url(#bl)"/>
<rect x="82.2" y="567.7" width="13.6" height="4.6" rx="2.3" fill="#000" opacity="1.00" filter="url(#bl)"/>
<rect x="82.5" y="588.1" width="13.0" height="2.4" rx="1.2" fill="#000" opacity="0.80" filter="url(#bl2)"/>
<rect x="99.9" y="544.8" width="13.6" height="4.0" rx="2.0" fill="#000" opacity="0.92" filter="url(#bl)"/>
<rect x="99.9" y="561.3" width="13.6" height="3.4" rx="1.7" fill="#000" opacity="0.45" filter="url(#bl)"/>
<rect x="99.9" y="567.7" width="13.6" height="4.6" rx="2.3" fill="#000" opacity="0.65" filter="url(#bl)"/>
<rect x="100.2" y="588.1" width="13.0" height="2.4" rx="1.2" fill="#000" opacity="0.75" filter="url(#bl2)"/>
<rect x="116.2" y="544.8" width="13.6" height="4.0" rx="2.0" fill="#000" opacity="0.88" filter="url(#bl)"/>
<rect x="116.2" y="561.3" width="13.6" height="3.4" rx="1.7" fill="#000" opacity="0.80" filter="url(#bl)"/>
<rect x="116.2" y="567.7" width="13.6" height="4.6" rx="2.3" fill="#000" opacity="1.00" filter="url(#bl)"/>
<rect x="116.5" y="588.1" width="13.0" height="2.4" rx="1.2" fill="#000" opacity="0.90" filter="url(#bl2)"/>
<rect x="133.7" y="544.8" width="13.6" height="4.0" rx="2.0" fill="#000" opacity="0.08" filter="url(#bl)"/>
<rect x="133.7" y="561.3" width="13.6" height="3.4" rx="1.7" fill="#000" opacity="0.50" filter="url(#bl)"/>
<rect x="133.7" y="567.7" width="13.6" height="4.6" rx="2.3" fill="#000" opacity="0.30" filter="url(#bl)"/>
<rect x="134.0" y="588.1" width="13.0" height="2.4" rx="1.2" fill="#000" opacity="0.60" filter="url(#bl2)"/>
<rect x="152.9" y="544.8" width="13.6" height="4.0" rx="2.0" fill="#000" opacity="0.08" filter="url(#bl)"/>
<rect x="152.9" y="561.3" width="13.6" height="3.4" rx="1.7" fill="#000" opacity="0.30" filter="url(#bl)"/>
<rect x="152.9" y="567.7" width="13.6" height="4.6" rx="2.3" fill="#000" opacity="0.16" filter="url(#bl)"/>
<rect x="153.2" y="588.1" width="13.0" height="2.4" rx="1.2" fill="#000" opacity="1.00" filter="url(#bl2)"/>
<text x="0" y="2.50" font-size="6.94" text-anchor="end" stroke="#111" stroke-width="0.12" transform="translate(21.90 547.80) scale(0.92 1)">MuRF-1</text>
<text x="0" y="2.50" font-size="6.94" text-anchor="end" stroke="#111" stroke-width="0.12" transform="translate(21.90 562.20) scale(0.92 1)">LC3B-I</text>
<text x="0" y="2.50" font-size="6.94" text-anchor="end" stroke="#111" stroke-width="0.12" transform="translate(21.90 572.00) scale(0.92 1)">LC3B-II</text>
<text x="0" y="2.50" font-size="6.94" text-anchor="end" stroke="#111" stroke-width="0.12" transform="translate(21.90 587.00) scale(0.92 1)">Vinculin</text>
<text x="0" y="2.02" font-size="5.60" stroke="#111" stroke-width="0.12" transform="translate(172.10 547.20) scale(0.92 1)">- 37</text>
<text x="0" y="2.02" font-size="5.60" stroke="#111" stroke-width="0.12" transform="translate(172.10 563.60) scale(0.92 1)">- 15</text>
<text x="0" y="2.02" font-size="5.60" stroke="#111" stroke-width="0.12" transform="translate(172.10 581.60) scale(0.92 1)">- 150</text>
<text x="0" y="2.02" font-size="5.60" stroke="#111" stroke-width="0.12" transform="translate(172.10 589.40) scale(0.92 1)">- 100</text>
<text x="0" y="3.06" font-size="8.50" fill="#000" font-weight="bold" stroke="#000" stroke-width="0.12" transform="translate(193.30 492.20)">O</text>
<circle cx="212.20" cy="494.60" r="2.3" fill="none" stroke="#3a3a3a" stroke-width="1.0"/>
<text x="0" y="2.02" font-size="5.60" stroke="#111" stroke-width="0.12" transform="translate(217.60 494.60)">CON</text>
<circle cx="212.20" cy="501.30" r="2.3" fill="none" stroke="#f01818" stroke-width="1.0"/>
<text x="0" y="2.02" font-size="5.60" stroke="#111" stroke-width="0.12" transform="translate(217.60 501.30)">IgG</text>
<circle cx="212.20" cy="508.10" r="2.3" fill="none" stroke="#1818f0" stroke-width="1.0"/>
<text x="0" y="2.02" font-size="5.60" stroke="#111" stroke-width="0.12" transform="translate(217.60 508.10)">αPD-L1</text>
<circle cx="212.20" cy="515.00" r="2.3" fill="none" stroke="#a42ee8" stroke-width="1.0"/>
<text x="0" y="2.02" font-size="5.60" stroke="#111" stroke-width="0.12" transform="translate(217.60 515.00)">αCD8a</text>
<line x1="239.00" y1="499.60" x2="239.00" y2="518.30" stroke="#222" stroke-width="0.7"/>
<text x="0" y="2.26" font-size="6.27" text-anchor="middle" stroke="#111" stroke-width="0.12" transform="translate(243.00 509.00) rotate(90) scale(0.8 1)">TB mice</text>
<line x1="211.90" y1="525.70" x2="211.90" y2="563.40" stroke="#333" stroke-width="0.7"/>
<line x1="211.90" y1="567.30" x2="211.90" y2="602.20" stroke="#333" stroke-width="0.7"/>
<line x1="209.70" y1="532.60" x2="211.90" y2="532.60" stroke="#333" stroke-width="0.7"/>
<text x="0" y="2.10" font-size="5.82" text-anchor="end" fill="#222" stroke="#222" stroke-width="0.12" transform="translate(208.40 532.60) scale(0.92 1)">9.0</text>
<line x1="209.70" y1="544.50" x2="211.90" y2="544.50" stroke="#333" stroke-width="0.7"/>
<text x="0" y="2.10" font-size="5.82" text-anchor="end" fill="#222" stroke="#222" stroke-width="0.12" transform="translate(208.40 544.50) scale(0.92 1)">8.0</text>
<line x1="209.70" y1="556.40" x2="211.90" y2="556.40" stroke="#333" stroke-width="0.7"/>
<text x="0" y="2.10" font-size="5.82" text-anchor="end" fill="#222" stroke="#222" stroke-width="0.12" transform="translate(208.40 556.40) scale(0.92 1)">7.0</text>
<line x1="210.70" y1="538.55" x2="211.90" y2="538.55" stroke="#333" stroke-width="0.5"/>
<line x1="210.70" y1="550.45" x2="211.90" y2="550.45" stroke="#333" stroke-width="0.5"/>
<line x1="209.70" y1="568.32" x2="211.90" y2="568.32" stroke="#333" stroke-width="0.7"/>
<text x="0" y="2.10" font-size="5.82" text-anchor="end" fill="#222" stroke="#222" stroke-width="0.12" transform="translate(208.40 568.32) scale(0.92 1)">4.0</text>
<line x1="209.70" y1="585.26" x2="211.90" y2="585.26" stroke="#333" stroke-width="0.7"/>
<text x="0" y="2.10" font-size="5.82" text-anchor="end" fill="#222" stroke="#222" stroke-width="0.12" transform="translate(208.40 585.26) scale(0.92 1)">2.0</text>
<line x1="209.70" y1="602.20" x2="211.90" y2="602.20" stroke="#333" stroke-width="0.7"/>
<text x="0" y="2.10" font-size="5.82" text-anchor="end" fill="#222" stroke="#222" stroke-width="0.12" transform="translate(208.40 602.20) scale(0.92 1)">0</text>
<line x1="210.70" y1="576.79" x2="211.90" y2="576.79" stroke="#333" stroke-width="0.5"/>
<line x1="210.70" y1="593.73" x2="211.90" y2="593.73" stroke="#333" stroke-width="0.5"/>
<line x1="210.40" y1="564.20" x2="213.40" y2="562.70" stroke="#333" stroke-width="0.5"/>
<line x1="210.40" y1="568.00" x2="213.40" y2="566.50" stroke="#333" stroke-width="0.5"/>
<line x1="211.90" y1="602.20" x2="276.30" y2="602.20" stroke="#333" stroke-width="0.7"/>
<rect x="217.00" y="552.83" width="10.10" height="10.57" fill="#8f8f8f"/>
<rect x="217.00" y="567.30" width="10.10" height="34.90" fill="#8f8f8f"/>
<line x1="222.10" y1="549.26" x2="222.10" y2="555.81" stroke="#666" stroke-width="0.7"/>
<line x1="220.10" y1="549.26" x2="224.10" y2="549.26" stroke="#666" stroke-width="0.7"/>
<line x1="220.10" y1="555.81" x2="224.10" y2="555.81" stroke="#666" stroke-width="0.7"/>
<circle cx="222.10" cy="532.60" r="1.2" fill="none" stroke="#7a7a7a" stroke-width="0.8"/>
<circle cx="219.60" cy="552.24" r="1.2" fill="none" stroke="#7a7a7a" stroke-width="0.8"/>
<circle cx="224.60" cy="552.83" r="1.2" fill="none" stroke="#7a7a7a" stroke-width="0.8"/>
<circle cx="222.10" cy="554.02" r="1.2" fill="none" stroke="#7a7a7a" stroke-width="0.8"/>
<circle cx="219.30" cy="555.81" r="1.2" fill="none" stroke="#7a7a7a" stroke-width="0.8"/>
<circle cx="224.90" cy="556.40" r="1.2" fill="none" stroke="#7a7a7a" stroke-width="0.8"/>
<rect x="231.20" y="576.79" width="10.40" height="25.41" fill="#ffbaba"/>
<circle cx="234.80" cy="572.56" r="1.2" fill="none" stroke="#f01818" stroke-width="0.85"/>
<circle cx="233.20" cy="575.10" r="1.2" fill="none" stroke="#f01818" stroke-width="0.85"/>
<circle cx="239.60" cy="576.79" r="1.2" fill="none" stroke="#f01818" stroke-width="0.85"/>
<circle cx="233.20" cy="577.64" r="1.2" fill="none" stroke="#f01818" stroke-width="0.85"/>
<circle cx="236.40" cy="578.48" r="1.2" fill="none" stroke="#f01818" stroke-width="0.85"/>
<circle cx="239.60" cy="579.33" r="1.2" fill="none" stroke="#f01818" stroke-width="0.85"/>
<line x1="236.40" y1="575.52" x2="236.40" y2="578.06" stroke="#f01818" stroke-width="0.7"/>
<line x1="234.40" y1="575.52" x2="238.40" y2="575.52" stroke="#f01818" stroke-width="0.7"/>
<line x1="234.40" y1="578.06" x2="238.40" y2="578.06" stroke="#f01818" stroke-width="0.7"/>
<rect x="246.30" y="581.87" width="9.80" height="20.33" fill="#bebeff"/>
<circle cx="248.00" cy="579.33" r="1.2" fill="none" stroke="#1818f0" stroke-width="0.85"/>
<circle cx="251.20" cy="580.18" r="1.2" fill="none" stroke="#1818f0" stroke-width="0.85"/>
<circle cx="254.40" cy="581.03" r="1.2" fill="none" stroke="#1818f0" stroke-width="0.85"/>
<circle cx="248.00" cy="582.72" r="1.2" fill="none" stroke="#1818f0" stroke-width="0.85"/>
<circle cx="254.40" cy="583.57" r="1.2" fill="none" stroke="#1818f0" stroke-width="0.85"/>
<circle cx="249.60" cy="585.26" r="1.2" fill="none" stroke="#1818f0" stroke-width="0.85"/>
<line x1="251.20" y1="580.60" x2="251.20" y2="583.14" stroke="#1818f0" stroke-width="0.7"/>
<line x1="249.20" y1="580.60" x2="253.20" y2="580.60" stroke="#1818f0" stroke-width="0.7"/>
<line x1="249.20" y1="583.14" x2="253.20" y2="583.14" stroke="#1818f0" stroke-width="0.7"/>
<rect x="261.40" y="572.56" width="9.80" height="29.64" fill="#e8c2f8"/>
<circle cx="263.10" cy="571.71" r="1.2" fill="none" stroke="#a42ee8" stroke-width="0.85"/>
<circle cx="266.30" cy="571.71" r="1.2" fill="none" stroke="#a42ee8" stroke-width="0.85"/>
<circle cx="269.50" cy="572.56" r="1.2" fill="none" stroke="#a42ee8" stroke-width="0.85"/>
<circle cx="263.10" cy="573.40" r="1.2" fill="none" stroke="#a42ee8" stroke-width="0.85"/>
<circle cx="266.30" cy="574.25" r="1.2" fill="none" stroke="#a42ee8" stroke-width="0.85"/>
<circle cx="269.50" cy="575.10" r="1.2" fill="none" stroke="#a42ee8" stroke-width="0.85"/>
<line x1="266.30" y1="571.28" x2="266.30" y2="573.83" stroke="#a42ee8" stroke-width="0.7"/>
<line x1="264.30" y1="571.28" x2="268.30" y2="571.28" stroke="#a42ee8" stroke-width="0.7"/>
<line x1="264.30" y1="573.83" x2="268.30" y2="573.83" stroke="#a42ee8" stroke-width="0.7"/>
<text x="0" y="2.02" font-size="5.60" text-anchor="middle" fill="#222" stroke="#222" stroke-width="0.12" transform="translate(227.10 528.20) scale(0.92 1)">P&lt;0.0001</text>
<line x1="220.00" y1="531.50" x2="235.00" y2="531.50" stroke="#555" stroke-width="0.6"/>
<text x="0" y="2.02" font-size="5.60" text-anchor="middle" fill="#222" stroke="#222" stroke-width="0.12" transform="translate(253.60 528.20) scale(0.92 1)">P=0.0204</text>
<line x1="237.00" y1="531.50" x2="266.00" y2="531.50" stroke="#555" stroke-width="0.6"/>
<text x="0" y="2.02" font-size="5.60" text-anchor="middle" fill="#222" stroke="#222" stroke-width="0.12" transform="translate(239.95 564.50) scale(0.92 1)">P=0.0002</text>
<line x1="236.60" y1="567.60" x2="250.50" y2="567.60" stroke="#555" stroke-width="0.6"/>
<text x="0" y="2.02" font-size="5.60" text-anchor="middle" fill="#222" stroke="#222" stroke-width="0.12" transform="translate(263.10 564.50) scale(0.92 1)">P&lt;0.0001</text>
<line x1="255.20" y1="567.60" x2="269.10" y2="567.60" stroke="#555" stroke-width="0.6"/>
<text x="0" y="2.50" font-size="6.94" text-anchor="middle" stroke="#111" stroke-width="0.12" transform="translate(192.60 566.80) rotate(-90) scale(0.92 1)">Grip strength (g) / IBW (g)</text>
<text x="0" y="3.06" font-size="8.50" fill="#000" font-weight="bold" stroke="#000" stroke-width="0.12" transform="translate(285.50 492.20)">P</text>
<path d="M384,553 L444,553 L416,605 L356,605 Z" fill="#f6f6f6"/>
<text x="0" y="2.50" font-size="6.94" text-anchor="middle" fill="#9ab4e6" stroke="#9ab4e6" stroke-width="0.12" transform="translate(323.40 496.10) scale(0.92 1)">C2C12 myoblasts</text>
<text x="0" y="2.50" font-size="6.94" text-anchor="middle" fill="#c8703a" stroke="#c8703a" stroke-width="0.12" transform="translate(396.90 496.10) scale(0.92 1)">C2C12 myotubes</text>
<ellipse cx="310.3" cy="526" rx="12.7" ry="3.6" fill="#f4f6fb" stroke="#aaa" stroke-width="0.5"/>
<ellipse cx="310.3" cy="526.6" rx="11.5" ry="2.3" fill="#d6e2f4"/>
<line x1="306.00" y1="526.50" x2="316.00" y2="518.00" stroke="#888" stroke-width="0.4"/>
<line x1="310.00" y1="527.00" x2="318.00" y2="522.00" stroke="#888" stroke-width="0.4"/>
<circle cx="321.4" cy="512.7" r="11" fill="#fff" stroke="#d0d0d0" stroke-width="0.6"/>
<circle cx="316" cy="510" r="2.6" fill="#f7a872" stroke="#f08a50" stroke-width="0.4"/>
<circle cx="316" cy="510" r="0.9" fill="#f08a50"/>
<circle cx="321" cy="507.5" r="2.6" fill="#f7a872" stroke="#f08a50" stroke-width="0.4"/>
<circle cx="321" cy="507.5" r="0.9" fill="#f08a50"/>
<circle cx="326" cy="510" r="2.6" fill="#f7a872" stroke="#f08a50" stroke-width="0.4"/>
<circle cx="326" cy="510" r="0.9" fill="#f08a50"/>
<circle cx="318.5" cy="514.5" r="2.6" fill="#f7a872" stroke="#f08a50" stroke-width="0.4"/>
<circle cx="318.5" cy="514.5" r="0.9" fill="#f08a50"/>
<circle cx="323.5" cy="514" r="2.6" fill="#f7a872" stroke="#f08a50" stroke-width="0.4"/>
<circle cx="323.5" cy="514" r="0.9" fill="#f08a50"/>
<circle cx="328" cy="513.5" r="2.6" fill="#f7a872" stroke="#f08a50" stroke-width="0.4"/>
<circle cx="328" cy="513.5" r="0.9" fill="#f08a50"/>
<circle cx="315.5" cy="517" r="2.6" fill="#f7a872" stroke="#f08a50" stroke-width="0.4"/>
<circle cx="315.5" cy="517" r="0.9" fill="#f08a50"/>
<circle cx="321" cy="518.5" r="2.6" fill="#f7a872" stroke="#f08a50" stroke-width="0.4"/>
<circle cx="321" cy="518.5" r="0.9" fill="#f08a50"/>
<circle cx="326" cy="517.5" r="2.6" fill="#f7a872" stroke="#f08a50" stroke-width="0.4"/>
<circle cx="326" cy="517.5" r="0.9" fill="#f08a50"/>
<ellipse cx="384.9" cy="525.8" rx="12.4" ry="3.4" fill="#fbf4f0" stroke="#aaa" stroke-width="0.5"/>
<ellipse cx="384.9" cy="526.4" rx="11.2" ry="2.1" fill="#f6dccb"/>
<line x1="381.00" y1="526.50" x2="389.50" y2="518.00" stroke="#888" stroke-width="0.4"/>
<line x1="385.00" y1="527.00" x2="391.00" y2="521.00" stroke="#888" stroke-width="0.4"/>
<circle cx="399" cy="512.7" r="10.8" fill="#fff" stroke="#f0d0c0" stroke-width="0.6"/>
<rect x="389.00" y="509.00" width="19.00" height="8.20" fill="#c8141c" rx="3.5"/>
<line x1="392.00" y1="510.50" x2="406.00" y2="510.50" stroke="#a00a14" stroke-width="0.4"/>
<line x1="392.00" y1="512.50" x2="406.00" y2="512.50" stroke="#a00a14" stroke-width="0.4"/>
<line x1="392.00" y1="514.50" x2="406.00" y2="514.50" stroke="#a00a14" stroke-width="0.4"/>
<rect x="404.00" y="509.50" width="5.00" height="7.00" fill="#e06070" rx="2.5" opacity="0.8"/>
<text x="0" y="2.50" font-size="6.94" fill="#7a3ab8" stroke="#7a3ab8" stroke-width="0.12" transform="translate(419.20 518.30) scale(0.92 1)">Measurement of</text>
<text x="0" y="2.50" font-size="6.94" fill="#7a3ab8" stroke="#7a3ab8" stroke-width="0.12" transform="translate(419.20 527.10) scale(0.92 1)">myotube diameter</text>
<path d="M312,536.6 L372.5,536.6 L372.5,532.8 L381.3,540.5 L372.5,548.2 L372.5,544.4 L312,544.4 Z" fill="#c9d8f2"/>
<text x="0" y="2.50" font-size="6.94" text-anchor="middle" fill="#4a6ad0" stroke="#4a6ad0" stroke-width="0.12" transform="translate(343.20 540.40) scale(0.92 1)">Myotube differentiation</text>
<path d="M386.1,536.6 L432.5,536.6 L432.5,532.8 L441.3,540.5 L432.5,548.2 L432.5,544.4 L386.1,544.4 Z" fill="#fde3d1"/>
<text x="0" y="2.50" font-size="6.94" text-anchor="middle" fill="#c8703a" stroke="#c8703a" stroke-width="0.12" transform="translate(408.90 540.40) scale(0.92 1)">Co-culture</text>
<line x1="309.00" y1="534.20" x2="309.00" y2="545.00" stroke="#555" stroke-width="1.1"/>
<path d="M306.7,544 L311.3,544 L309,548 Z" fill="#555"/>
<line x1="383.80" y1="534.20" x2="383.80" y2="545.00" stroke="#d06a20" stroke-width="1.1"/>
<path d="M381.5,544 L386.1,544 L383.8,548 Z" fill="#d06a20"/>
<line x1="443.40" y1="534.20" x2="443.40" y2="545.00" stroke="#7a3ab8" stroke-width="1.1"/>
<path d="M441.09999999999997,544 L445.7,544 L443.4,548 Z" fill="#7a3ab8"/>
<line x1="309.00" y1="552.40" x2="443.40" y2="552.40" stroke="#444" stroke-width="0.8"/>
<line x1="309.00" y1="550.00" x2="309.00" y2="554.60" stroke="#444" stroke-width="0.8"/>
<text x="0" y="2.42" font-size="6.72" text-anchor="middle" stroke="#111" stroke-width="0.12" transform="translate(309.00 561.70) scale(0.92 1)">0</text>
<line x1="323.93" y1="550.00" x2="323.93" y2="554.60" stroke="#444" stroke-width="0.8"/>
<text x="0" y="2.42" font-size="6.72" text-anchor="middle" stroke="#111" stroke-width="0.12" transform="translate(323.93 561.70) scale(0.92 1)">1</text>
<line x1="338.86" y1="550.00" x2="338.86" y2="554.60" stroke="#444" stroke-width="0.8"/>
<text x="0" y="2.42" font-size="6.72" text-anchor="middle" stroke="#111" stroke-width="0.12" transform="translate(338.86 561.70) scale(0.92 1)">2</text>
<line x1="353.79" y1="550.00" x2="353.79" y2="554.60" stroke="#444" stroke-width="0.8"/>
<text x="0" y="2.42" font-size="6.72" text-anchor="middle" stroke="#111" stroke-width="0.12" transform="translate(353.79 561.70) scale(0.92 1)">3</text>
<line x1="368.72" y1="550.00" x2="368.72" y2="554.60" stroke="#444" stroke-width="0.8"/>
<text x="0" y="2.42" font-size="6.72" text-anchor="middle" stroke="#111" stroke-width="0.12" transform="translate(368.72 561.70) scale(0.92 1)">4</text>
<line x1="383.65" y1="550.00" x2="383.65" y2="554.60" stroke="#444" stroke-width="0.8"/>
<text x="0" y="2.42" font-size="6.72" text-anchor="middle" stroke="#111" stroke-width="0.12" transform="translate(383.65 561.70) scale(0.92 1)">5</text>
<line x1="398.58" y1="550.00" x2="398.58" y2="554.60" stroke="#444" stroke-width="0.8"/>
<text x="0" y="2.42" font-size="6.72" text-anchor="middle" stroke="#111" stroke-width="0.12" transform="translate(398.58 561.70) scale(0.92 1)">6</text>
<line x1="413.51" y1="550.00" x2="413.51" y2="554.60" stroke="#444" stroke-width="0.8"/>
<text x="0" y="2.42" font-size="6.72" text-anchor="middle" stroke="#111" stroke-width="0.12" transform="translate(413.51 561.70) scale(0.92 1)">7</text>
<line x1="428.44" y1="550.00" x2="428.44" y2="554.60" stroke="#444" stroke-width="0.8"/>
<text x="0" y="2.42" font-size="6.72" text-anchor="middle" stroke="#111" stroke-width="0.12" transform="translate(428.44 561.70) scale(0.92 1)">8</text>
<line x1="443.37" y1="550.00" x2="443.37" y2="554.60" stroke="#444" stroke-width="0.8"/>
<text x="0" y="2.42" font-size="6.72" text-anchor="middle" stroke="#111" stroke-width="0.12" transform="translate(443.37 561.70) scale(0.92 1)">9</text>
<text x="0" y="2.42" font-size="6.72" stroke="#111" stroke-width="0.12" transform="translate(447.50 561.70) scale(0.92 1)">Days</text>
<text x="0" y="2.42" font-size="6.72" text-anchor="middle" fill="#5a9a3a" stroke="#5a9a3a" stroke-width="0.12" transform="translate(345.10 575.10) scale(0.92 1)">Splenic CD8<tspan font-size="3.8" dy="-2">+</tspan><tspan dy="2"> T cells</tspan></text>
<circle cx="380" cy="575" r="1.4" fill="#8fc77a"/>
<circle cx="383.5" cy="574.2" r="1.4" fill="#8fc77a"/>
<circle cx="387" cy="575.5" r="1.4" fill="#8fc77a"/>
<circle cx="379.5" cy="578.5" r="1.4" fill="#8fc77a"/>
<circle cx="383" cy="578.2" r="1.4" fill="#8fc77a"/>
<circle cx="386.8" cy="579" r="1.4" fill="#8fc77a"/>
<circle cx="382" cy="581.6" r="1.4" fill="#8fc77a"/>
<circle cx="385.6" cy="582" r="1.4" fill="#8fc77a"/>
<path d="M396,580.5 C397,576 402,574 408,575 C410,572.5 413,572.5 414,575 L417,579 L415,581.3 L398,581.5 Z" fill="#d8d8d8"/>
<path d="M398,581 Q392,582 390,580" fill="none" stroke="#ccc" stroke-width="0.5"/>
<text x="0" y="2.42" font-size="6.72" text-anchor="middle" fill="#5a9a3a" stroke="#5a9a3a" stroke-width="0.12" transform="translate(432.70 574.70) scale(0.92 1)">CON or TB mice</text>
<text x="0" y="2.42" font-size="6.72" text-anchor="middle" fill="#c0602a" stroke="#c0602a" stroke-width="0.12" transform="translate(337.00 597.50) scale(0.92 1)">Conditioned media (CM)</text>
<rect x="378.90" y="593.20" width="2.40" height="1.60" fill="#3a5cc8"/>
<path d="M378.9,594.8 L381.3,594.8 L381.3,599.3 Q380.1,601 378.9,599.3 Z" fill="#f2c030" stroke="#999" stroke-width="0.3"/>
<ellipse cx="398.8" cy="597.4" rx="8" ry="2.6" fill="#f8e7a0" stroke="#c8b060" stroke-width="0.5"/>
<ellipse cx="398.8" cy="598" rx="7" ry="1.6" fill="#f2d060"/>
<text x="0" y="2.42" font-size="6.72" fill="#c8703a" stroke="#c8703a" stroke-width="0.12" transform="translate(413.40 596.80) scale(0.92 1)">Kras<tspan font-size="3.8" dy="-2">KPXL</tspan><tspan dy="2"> cell</tspan></text>
<text x="0" y="3.06" font-size="8.50" fill="#000" font-weight="bold" stroke="#000" stroke-width="0.12" transform="translate(482.50 492.20)">Q</text>
<line x1="506.30" y1="506.90" x2="506.30" y2="584.40" stroke="#333" stroke-width="0.7"/>
<line x1="504.30" y1="506.90" x2="506.30" y2="506.90" stroke="#333" stroke-width="0.7"/>
<text x="0" y="2.18" font-size="6.05" text-anchor="end" fill="#222" stroke="#222" stroke-width="0.12" transform="translate(502.20 506.90) scale(0.92 1)">50</text>
<line x1="504.30" y1="522.40" x2="506.30" y2="522.40" stroke="#333" stroke-width="0.7"/>
<text x="0" y="2.18" font-size="6.05" text-anchor="end" fill="#222" stroke="#222" stroke-width="0.12" transform="translate(502.20 522.40) scale(0.92 1)">40</text>
<line x1="504.30" y1="537.90" x2="506.30" y2="537.90" stroke="#333" stroke-width="0.7"/>
<text x="0" y="2.18" font-size="6.05" text-anchor="end" fill="#222" stroke="#222" stroke-width="0.12" transform="translate(502.20 537.90) scale(0.92 1)">30</text>
<line x1="504.30" y1="553.40" x2="506.30" y2="553.40" stroke="#333" stroke-width="0.7"/>
<text x="0" y="2.18" font-size="6.05" text-anchor="end" fill="#222" stroke="#222" stroke-width="0.12" transform="translate(502.20 553.40) scale(0.92 1)">20</text>
<line x1="504.30" y1="568.90" x2="506.30" y2="568.90" stroke="#333" stroke-width="0.7"/>
<text x="0" y="2.18" font-size="6.05" text-anchor="end" fill="#222" stroke="#222" stroke-width="0.12" transform="translate(502.20 568.90) scale(0.92 1)">10</text>
<line x1="504.30" y1="584.40" x2="506.30" y2="584.40" stroke="#333" stroke-width="0.7"/>
<text x="0" y="2.18" font-size="6.05" text-anchor="end" fill="#222" stroke="#222" stroke-width="0.12" transform="translate(502.20 584.40) scale(0.92 1)">0</text>
<line x1="506.30" y1="584.40" x2="571.30" y2="584.40" stroke="#333" stroke-width="0.7"/>
<rect x="511.60" y="520.38" width="10.20" height="64.01" fill="#8e8e96"/>
<circle cx="513.50" cy="520.39" r="1.0" fill="#6e6e76" stroke="#6e6e76" stroke-width="0.9"/>
<circle cx="513.50" cy="520.39" r="0.35" fill="#ffffff" stroke="#fff" stroke-width="0"/>
<circle cx="516.70" cy="519.47" r="1.0" fill="#6e6e76" stroke="#6e6e76" stroke-width="0.9"/>
<circle cx="516.70" cy="519.47" r="0.35" fill="#ffffff" stroke="#fff" stroke-width="0"/>
<circle cx="519.90" cy="520.09" r="1.0" fill="#6e6e76" stroke="#6e6e76" stroke-width="0.9"/>
<circle cx="519.90" cy="520.09" r="0.35" fill="#ffffff" stroke="#fff" stroke-width="0"/>
<rect x="526.80" y="531.70" width="10.40" height="52.70" fill="#d2e3e3"/>
<circle cx="528.80" cy="531.71" r="1.0" fill="#3d8c8c" stroke="#3d8c8c" stroke-width="0.9"/>
<circle cx="528.80" cy="531.71" r="0.35" fill="#ffffff" stroke="#fff" stroke-width="0"/>
<circle cx="532.00" cy="530.78" r="1.0" fill="#3d8c8c" stroke="#3d8c8c" stroke-width="0.9"/>
<circle cx="532.00" cy="530.78" r="0.35" fill="#ffffff" stroke="#fff" stroke-width="0"/>
<circle cx="535.20" cy="531.40" r="1.0" fill="#3d8c8c" stroke="#3d8c8c" stroke-width="0.9"/>
<circle cx="535.20" cy="531.40" r="0.35" fill="#ffffff" stroke="#fff" stroke-width="0"/>
<rect x="542.00" y="551.85" width="10.30" height="32.55" fill="#ffb5b5"/>
<circle cx="543.95" cy="551.86" r="1.0" fill="#f02020" stroke="#f02020" stroke-width="0.9"/>
<circle cx="543.95" cy="551.86" r="0.35" fill="#ffffff" stroke="#fff" stroke-width="0"/>
<circle cx="547.15" cy="550.93" r="1.0" fill="#f02020" stroke="#f02020" stroke-width="0.9"/>
<circle cx="547.15" cy="550.93" r="0.35" fill="#ffffff" stroke="#fff" stroke-width="0"/>
<circle cx="550.35" cy="551.55" r="1.0" fill="#f02020" stroke="#f02020" stroke-width="0.9"/>
<circle cx="550.35" cy="551.55" r="0.35" fill="#ffffff" stroke="#fff" stroke-width="0"/>
<rect x="557.30" y="565.18" width="10.30" height="19.22" fill="#b5b5ff"/>
<circle cx="559.25" cy="565.19" r="1.0" fill="#1c1cf0" stroke="#1c1cf0" stroke-width="0.9"/>
<circle cx="559.25" cy="565.19" r="0.35" fill="#ffffff" stroke="#fff" stroke-width="0"/>
<circle cx="562.45" cy="564.26" r="1.0" fill="#1c1cf0" stroke="#1c1cf0" stroke-width="0.9"/>
<circle cx="562.45" cy="564.26" r="0.35" fill="#ffffff" stroke="#fff" stroke-width="0"/>
<circle cx="565.65" cy="564.88" r="1.0" fill="#1c1cf0" stroke="#1c1cf0" stroke-width="0.9"/>
<circle cx="565.65" cy="564.88" r="0.35" fill="#ffffff" stroke="#fff" stroke-width="0"/>
<text x="0" y="1.98" font-size="5.49" text-anchor="middle" fill="#222" stroke="#222" stroke-width="0.12" transform="translate(526.00 507.90) scale(0.92 1)">P&lt;0.0001</text>
<line x1="512.30" y1="511.20" x2="541.80" y2="511.20" stroke="#555" stroke-width="0.6"/>
<line x1="512.30" y1="513.40" x2="526.00" y2="513.40" stroke="#555" stroke-width="0.6"/>
<text x="0" y="1.98" font-size="5.49" text-anchor="middle" fill="#222" stroke="#222" stroke-width="0.12" transform="translate(548.30 517.50) scale(0.92 1)">P&lt;0.0001</text>
<line x1="533.70" y1="521.40" x2="563.00" y2="521.40" stroke="#555" stroke-width="0.6"/>
<text x="0" y="1.98" font-size="5.49" text-anchor="middle" fill="#222" stroke="#222" stroke-width="0.12" transform="translate(555.80 534.80) scale(0.92 1)">P&lt;0.0001</text>
<line x1="548.20" y1="538.30" x2="561.90" y2="538.30" stroke="#555" stroke-width="0.6"/>
<text x="0" y="2.42" font-size="6.72" text-anchor="middle" stroke="#111" stroke-width="0.12" transform="translate(493.50 588.60) scale(0.92 1)">TB CD8<tspan font-size="3.8" dy="-2">+</tspan><tspan dy="2"> T</tspan></text>
<text x="0" y="2.42" font-size="6.72" text-anchor="middle" stroke="#111" stroke-width="0.12" transform="translate(517.10 588.60) scale(0.92 1)">-</text>
<text x="0" y="2.42" font-size="6.72" text-anchor="middle" stroke="#111" stroke-width="0.12" transform="translate(532.00 588.60) scale(0.92 1)">+</text>
<text x="0" y="2.42" font-size="6.72" text-anchor="middle" stroke="#111" stroke-width="0.12" transform="translate(550.20 588.60) scale(0.92 1)">-</text>
<text x="0" y="2.42" font-size="6.72" text-anchor="middle" stroke="#111" stroke-width="0.12" transform="translate(565.50 588.60) scale(0.92 1)">+</text>
<line x1="511.40" y1="593.30" x2="536.60" y2="593.30" stroke="#333" stroke-width="0.7"/>
<line x1="544.90" y1="593.30" x2="570.90" y2="593.30" stroke="#333" stroke-width="0.7"/>
<text x="0" y="2.50" font-size="6.94" text-anchor="middle" stroke="#111" stroke-width="0.12" transform="translate(522.70 599.50) scale(0.92 1)">- CM</text>
<text x="0" y="2.50" font-size="6.94" text-anchor="middle" stroke="#111" stroke-width="0.12" transform="translate(558.20 599.50) scale(0.92 1)">+ CM</text>
<text x="0" y="2.42" font-size="6.72" text-anchor="middle" stroke="#111" stroke-width="0.12" transform="translate(488.20 546.20) rotate(-90) scale(0.92 1)">Myotube diameter (μm)</text>
<text x="0" y="3.06" font-size="8.50" fill="#000" font-weight="bold" stroke="#000" stroke-width="0.12" transform="translate(585.00 492.20)">R</text>
<text x="0" y="2.58" font-size="7.17" text-anchor="middle" stroke="#111" stroke-width="0.12" transform="translate(640.20 525.10) scale(0.92 1)">C2C12</text>
<line x1="609.10" y1="529.60" x2="670.10" y2="529.60" stroke="#555" stroke-width="0.8"/>
<text x="0" y="2.58" font-size="7.17" text-anchor="middle" stroke="#111" stroke-width="0.12" transform="translate(621.50 535.40) scale(0.92 1)">- CM</text>
<text x="0" y="2.58" font-size="7.17" text-anchor="middle" stroke="#111" stroke-width="0.12" transform="translate(653.50 535.40) scale(0.92 1)">+ CM</text>
<line x1="610.20" y1="540.10" x2="636.60" y2="540.10" stroke="#555" stroke-width="0.8"/>
<line x1="641.60" y1="540.10" x2="669.10" y2="540.10" stroke="#555" stroke-width="0.8"/>
<text x="0" y="2.50" font-size="6.94" text-anchor="end" stroke="#111" stroke-width="0.12" transform="translate(605.60 545.80) scale(0.92 1)">CD8<tspan font-size="3.8" dy="-2">+</tspan><tspan dy="2"> T</tspan></text>
<text x="0" y="2.42" font-size="6.72" text-anchor="middle" stroke="#111" stroke-width="0.12" transform="translate(617.40 545.80) scale(0.92 1)">-</text>
<text x="0" y="2.42" font-size="6.72" text-anchor="middle" stroke="#111" stroke-width="0.12" transform="translate(629.80 545.80) scale(0.92 1)">+</text>
<text x="0" y="2.42" font-size="6.72" text-anchor="middle" stroke="#111" stroke-width="0.12" transform="translate(647.00 545.80) scale(0.92 1)">-</text>
<text x="0" y="2.42" font-size="6.72" text-anchor="middle" stroke="#111" stroke-width="0.12" transform="translate(662.30 545.80) scale(0.92 1)">+</text>
<rect x="607.70" y="549.30" width="63.00" height="11.60" fill="#f6f6f6" stroke="#555" stroke-width="0.9" rx="1.2"/>
<rect x="607.70" y="562.40" width="63.00" height="11.40" fill="#f3f3f3" stroke="#555" stroke-width="0.9" rx="1.2"/>
<rect x="607.70" y="575.40" width="63.00" height="11.80" fill="#ececec" stroke="#555" stroke-width="0.9" rx="1.2"/>
<rect x="611.2" y="553.8" width="11.5" height="2.4" rx="1.2" fill="#000" opacity="0.75" filter="url(#bl)"/>
<rect x="611.0" y="566.1" width="12.0" height="3.4" rx="1.7" fill="#000" opacity="0.14" filter="url(#bl)"/>
<rect x="609.9" y="579.8" width="14.2" height="4.4" rx="2.2" fill="#000" opacity="1.00" filter="url(#bl2)"/>
<rect x="626.5" y="553.7" width="11.5" height="2.6" rx="1.3" fill="#000" opacity="0.78" filter="url(#bl)"/>
<rect x="626.3" y="566.1" width="12.0" height="3.4" rx="1.7" fill="#000" opacity="0.12" filter="url(#bl)"/>
<rect x="625.2" y="579.8" width="14.2" height="4.4" rx="2.2" fill="#000" opacity="1.00" filter="url(#bl2)"/>
<rect x="641.9" y="553.4" width="11.5" height="3.2" rx="1.6" fill="#000" opacity="0.92" filter="url(#bl)"/>
<rect x="641.6" y="566.1" width="12.0" height="3.4" rx="1.7" fill="#000" opacity="0.88" filter="url(#bl)"/>
<rect x="640.5" y="579.8" width="14.2" height="4.4" rx="2.2" fill="#000" opacity="1.00" filter="url(#bl2)"/>
<rect x="657.0" y="553.0" width="11.5" height="4.0" rx="2.0" fill="#000" opacity="1.00" filter="url(#bl)"/>
<rect x="656.8" y="566.1" width="12.0" height="3.4" rx="1.7" fill="#000" opacity="0.92" filter="url(#bl)"/>
<rect x="655.7" y="579.8" width="14.2" height="4.4" rx="2.2" fill="#000" opacity="1.00" filter="url(#bl2)"/>
<rect x="657.3" y="563.0" width="11.0" height="1.6" rx="0.8" fill="#000" opacity="0.30" filter="url(#bl)"/>
<text x="0" y="2.50" font-size="6.94" text-anchor="end" stroke="#111" stroke-width="0.12" transform="translate(605.60 556.90) scale(0.92 1)">Atrogin1</text>
<text x="0" y="2.50" font-size="6.94" text-anchor="end" stroke="#111" stroke-width="0.12" transform="translate(605.60 569.30) scale(0.92 1)">LC3B-II</text>
<text x="0" y="2.50" font-size="6.94" text-anchor="end" stroke="#111" stroke-width="0.12" transform="translate(605.60 581.70) scale(0.92 1)">Vinculin</text>
<text x="0" y="2.02" font-size="5.60" stroke="#111" stroke-width="0.12" transform="translate(671.20 556.90) scale(0.92 1)">- 37</text>
<text x="0" y="2.02" font-size="5.60" stroke="#111" stroke-width="0.12" transform="translate(671.20 565.20) scale(0.92 1)">- 15</text>
<text x="0" y="2.02" font-size="5.60" stroke="#111" stroke-width="0.12" transform="translate(671.20 576.80) scale(0.92 1)">- 150</text>
<text x="0" y="2.02" font-size="5.60" stroke="#111" stroke-width="0.12" transform="translate(671.20 584.40) scale(0.92 1)">- 100</text></svg></body></html>
